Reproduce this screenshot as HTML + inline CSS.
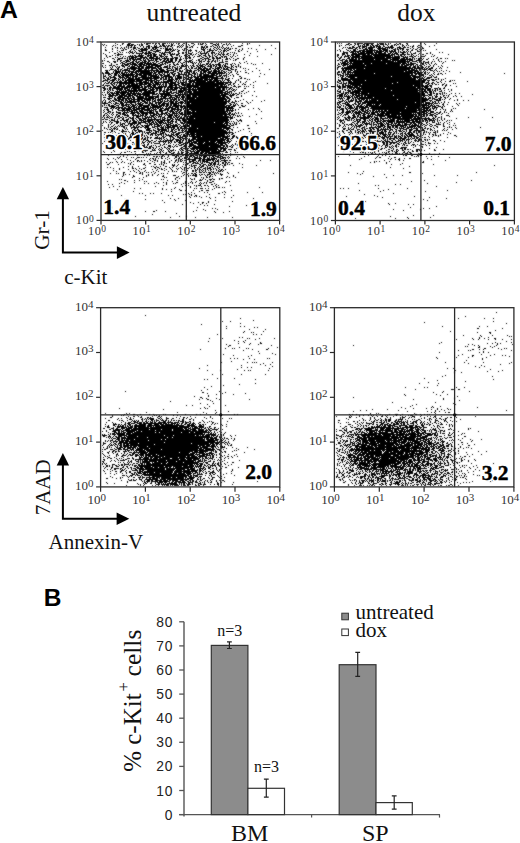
<!DOCTYPE html>
<html><head><meta charset="utf-8"><style>html,body{margin:0;padding:0;background:#fff;width:520px;height:843px;overflow:hidden}svg{display:block}</style></head>
<body>
<svg width="520" height="843" viewBox="0 0 520 843">
<rect width="520" height="843" fill="#fff"/>
<defs><filter id="soft" filterUnits="userSpaceOnUse" x="0" y="0" width="520" height="843"><feConvolveMatrix order="3" kernelMatrix="0.5 1 0.5 1 8 1 0.5 1 0.5" edgeMode="none"/></filter></defs><g stroke-width="1" fill="none" shape-rendering="crispEdges" filter="url(#soft)"><g stroke="#000"><path d="M247 43.5h3" stroke-dasharray="1 1 1 999"/><path d="M247 44.5h1" stroke-dasharray="1 999"/><path d="M259 45.5h13" stroke-dasharray="1 11 1 999"/><path d="M248 48.5h28" stroke-dasharray="1 2 1 23 1 999"/><path d="M256 49.5h10" stroke-dasharray="1 8 1 999"/><path d="M257 51.5h1" stroke-dasharray="1 999"/><path d="M250 53.5h1" stroke-dasharray="1 999"/><path d="M271 54.5h1" stroke-dasharray="1 999"/><path d="M249 55.5h1" stroke-dasharray="1 999"/><path d="M257 56.5h1" stroke-dasharray="1 999"/><path d="M246 61.5h1" stroke-dasharray="1 999"/><path d="M247 63.5h16" stroke-dasharray="1 3 1 10 1 999"/><path d="M253 64.5h3" stroke-dasharray="1 1 1 999"/><path d="M245 68.5h12" stroke-dasharray="1 10 1 999"/><path d="M248 69.5h22" stroke-dasharray="1 20 1 999"/><path d="M259 70.5h1" stroke-dasharray="1 999"/><path d="M252 71.5h1" stroke-dasharray="1 999"/><path d="M246 72.5h1" stroke-dasharray="1 999"/><path d="M248 73.5h13" stroke-dasharray="1 11 1 999"/><path d="M264 74.5h1" stroke-dasharray="1 999"/><path d="M259 76.5h1" stroke-dasharray="1 999"/><path d="M247 79.5h3" stroke-dasharray="1 1 1 999"/><path d="M246 81.5h10" stroke-dasharray="1 8 1 999"/><path d="M253 82.5h1" stroke-dasharray="1 999"/><path d="M267 83.5h1" stroke-dasharray="1 999"/><path d="M250 84.5h1" stroke-dasharray="1 999"/><path d="M253 85.5h1" stroke-dasharray="1 999"/><path d="M248 86.5h1" stroke-dasharray="1 999"/><path d="M253 87.5h1" stroke-dasharray="1 999"/><path d="M248 91.5h7" stroke-dasharray="1 5 1 999"/><path d="M252 95.5h1" stroke-dasharray="1 999"/><path d="M256 96.5h1" stroke-dasharray="1 999"/><path d="M252 100.5h13" stroke-dasharray="1 11 1 999"/><path d="M246 101.5h16" stroke-dasharray="1 14 1 999"/><path d="M247 102.5h4" stroke-dasharray="1 2 1 999"/><path d="M248 103.5h1" stroke-dasharray="1 999"/><path d="M253 108.5h6" stroke-dasharray="1 4 1 999"/><path d="M248 109.5h12" stroke-dasharray="1 10 1 999"/><path d="M261 111.5h1" stroke-dasharray="1 999"/><path d="M256 114.5h1" stroke-dasharray="1 999"/><path d="M249 116.5h1" stroke-dasharray="1 999"/><path d="M261 118.5h1" stroke-dasharray="1 999"/><path d="M255 121.5h1" stroke-dasharray="1 999"/><path d="M256 123.5h1" stroke-dasharray="1 999"/><path d="M247 125.5h2" stroke-dasharray="2 999"/><path d="M248 128.5h2" stroke-dasharray="2 999"/><path d="M243 129.5h1" stroke-dasharray="1 999"/><path d="M249 131.5h1" stroke-dasharray="1 999"/><path d="M251 133.5h1" stroke-dasharray="1 999"/><path d="M242 135.5h10" stroke-dasharray="1 8 1 999"/><path d="M243 136.5h1" stroke-dasharray="1 999"/><path d="M249 142.5h1" stroke-dasharray="1 999"/><path d="M102 143.5h1" stroke-dasharray="1 999"/><path d="M241 144.5h1" stroke-dasharray="1 999"/><path d="M253 148.5h1" stroke-dasharray="1 999"/><path d="M246 150.5h8" stroke-dasharray="1 6 1 999"/><path d="M103 151.5h1" stroke-dasharray="1 999"/><path d="M104 152.5h1" stroke-dasharray="1 999"/><path d="M241 154.5h1" stroke-dasharray="1 999"/><path d="M108 155.5h1" stroke-dasharray="1 999"/><path d="M243 156.5h1" stroke-dasharray="1 999"/><path d="M244 157.5h1" stroke-dasharray="1 999"/><path d="M107 158.5h133" stroke-dasharray="1 131 1 999"/><path d="M108 159.5h1" stroke-dasharray="1 999"/><path d="M260 160.5h11" stroke-dasharray="1 9 1 999"/><path d="M106 162.5h7" stroke-dasharray="1 3 1 1 1 999"/><path d="M109 163.5h131" stroke-dasharray="1 129 1 999"/><path d="M107 164.5h136" stroke-dasharray="2 133 1 999"/><path d="M256 165.5h1" stroke-dasharray="1 999"/><path d="M107 167.5h136" stroke-dasharray="1 2 1 131 1 999"/><path d="M113 168.5h7" stroke-dasharray="1 5 1 999"/><path d="M119 169.5h1" stroke-dasharray="1 999"/><path d="M113 170.5h1" stroke-dasharray="1 999"/><path d="M116 171.5h1" stroke-dasharray="1 999"/><path d="M123 172.5h116" stroke-dasharray="2 113 1 999"/><path d="M110 173.5h164" stroke-dasharray="1 5 1 1 1 4 1 149 1 999"/><path d="M123 174.5h7" stroke-dasharray="1 1 1 3 1 999"/><path d="M123 175.5h111" stroke-dasharray="1 109 1 999"/><path d="M122 176.5h112" stroke-dasharray="1 10 2 98 1 999"/><path d="M132 177.5h104" stroke-dasharray="1 102 1 999"/><path d="M139 178.5h1" stroke-dasharray="1 999"/><path d="M119 179.5h24" stroke-dasharray="1 1 1 20 1 999"/><path d="M124 180.5h16" stroke-dasharray="2 8 1 4 1 999"/><path d="M107 181.5h123" stroke-dasharray="1 19 1 16 1 1 1 82 1 999"/><path d="M121 182.5h46" stroke-dasharray="1 12 1 21 1 6 1 2 1 999"/><path d="M119 183.5h48" stroke-dasharray="1 4 1 19 1 3 1 5 1 3 1 7 1 999"/><path d="M108 184.5h59" stroke-dasharray="1 3 1 53 1 999"/><path d="M163 185.5h68" stroke-dasharray="1 66 1 999"/><path d="M113 186.5h43" stroke-dasharray="1 5 1 35 1 999"/><path d="M109 187.5h151" stroke-dasharray="1 65 1 83 1 999"/><path d="M134 188.5h41" stroke-dasharray="1 5 1 21 1 11 1 999"/><path d="M117 189.5h63" stroke-dasharray="1 44 1 3 1 4 1 7 1 999"/><path d="M180 190.5h52" stroke-dasharray="2 49 1 999"/><path d="M133 191.5h92" stroke-dasharray="1 37 1 52 1 999"/><path d="M222 192.5h41" stroke-dasharray="1 2 1 21 1 14 1 999"/><path d="M139 193.5h23" stroke-dasharray="1 2 1 7 1 2 1 7 1 999"/><path d="M183 194.5h42" stroke-dasharray="1 1 1 38 1 999"/><path d="M121 195.5h113" stroke-dasharray="1 23 1 22 1 3 1 60 1 999"/><path d="M224 197.5h8" stroke-dasharray="1 6 1 999"/><path d="M170 198.5h84" stroke-dasharray="1 7 1 74 1 999"/><path d="M125 199.5h50" stroke-dasharray="1 19 1 28 1 999"/><path d="M162 200.5h54" stroke-dasharray="1 12 1 9 1 29 1 999"/><path d="M105 201.5h128" stroke-dasharray="1 102 1 23 1 999"/><path d="M164 202.5h45" stroke-dasharray="1 25 1 7 1 3 2 4 1 999"/><path d="M193 203.5h14" stroke-dasharray="1 8 1 3 1 999"/><path d="M182 204.5h33" stroke-dasharray="1 17 1 13 1 999"/><path d="M204 205.5h43" stroke-dasharray="1 2 1 38 1 999"/><path d="M229 206.5h24" stroke-dasharray="1 22 1 999"/><path d="M111 207.5h87" stroke-dasharray="1 85 1 999"/><path d="M128 208.5h88" stroke-dasharray="1 83 1 2 1 999"/><path d="M203 209.5h15" stroke-dasharray="1 13 1 999"/><path d="M156 210.5h50" stroke-dasharray="1 39 1 8 1 999"/><path d="M111 211.5h119" stroke-dasharray="1 33 1 7 2 10 1 27 1 20 1 14 1 999"/><path d="M215 212.5h9" stroke-dasharray="1 7 1 999"/><path d="M176 213.5h1" stroke-dasharray="1 999"/><path d="M152 214.5h1" stroke-dasharray="1 999"/><path d="M135 216.5h137" stroke-dasharray="1 43 1 6 1 65 1 18 1 999"/><path d="M170 217.5h63" stroke-dasharray="1 24 1 11 1 24 1 999"/></g><g stroke="#000"><path d="M115 43.5h128" stroke-dasharray="1 6 2 4 1 100 1 12 1 999"/><path d="M102 44.5h129" stroke-dasharray="1 1 1 12 1 4 1 105 1 1 1 999"/><path d="M103 45.5h140" stroke-dasharray="1 2 1 6 1 1 1 4 1 112 1 7 2 999"/><path d="M112 46.5h129" stroke-dasharray="1 118 1 6 3 999"/><path d="M105 47.5h13" stroke-dasharray="1 9 1 1 1 999"/><path d="M112 48.5h131" stroke-dasharray="1 4 1 112 1 1 1 2 2 5 1 999"/><path d="M105 49.5h138" stroke-dasharray="1 6 1 126 1 2 1 999"/><path d="M105 50.5h137" stroke-dasharray="2 10 1 117 1 2 1 2 1 999"/><path d="M112 51.5h136" stroke-dasharray="1 125 2 7 1 999"/><path d="M109 52.5h126" stroke-dasharray="1 7 1 114 1 1 1 999"/><path d="M103 53.5h134" stroke-dasharray="1 10 2 118 1 1 1 999"/><path d="M105 54.5h140" stroke-dasharray="1 127 1 10 1 999"/><path d="M106 55.5h132" stroke-dasharray="1 5 1 2 1 117 1 3 1 999"/><path d="M106 56.5h130" stroke-dasharray="1 2 2 121 1 2 1 999"/><path d="M107 57.5h138" stroke-dasharray="1 136 1 999"/><path d="M104 58.5h140" stroke-dasharray="1 7 2 119 1 3 2 4 1 999"/><path d="M235 59.5h9" stroke-dasharray="2 6 1 999"/><path d="M102 60.5h134" stroke-dasharray="1 1 1 128 1 1 1 999"/><path d="M102 61.5h7" stroke-dasharray="1 4 2 999"/><path d="M109 62.5h136" stroke-dasharray="1 129 1 4 1 999"/><path d="M102 63.5h139" stroke-dasharray="2 130 1 5 1 999"/><path d="M235 64.5h4" stroke-dasharray="1 2 1 999"/><path d="M102 65.5h137" stroke-dasharray="1 2 1 127 1 4 1 999"/><path d="M102 66.5h139" stroke-dasharray="1 132 2 1 1 1 1 999"/><path d="M103 67.5h138" stroke-dasharray="1 1 1 130 1 3 1 999"/><path d="M243 68.5h1" stroke-dasharray="1 999"/><path d="M235 69.5h2" stroke-dasharray="2 999"/><path d="M235 70.5h11" stroke-dasharray="1 9 1 999"/><path d="M235 71.5h6" stroke-dasharray="1 1 1 2 1 999"/><path d="M237 72.5h9" stroke-dasharray="1 7 1 999"/><path d="M236 73.5h1" stroke-dasharray="1 999"/><path d="M237 74.5h2" stroke-dasharray="2 999"/><path d="M239 76.5h2" stroke-dasharray="2 999"/><path d="M241 77.5h1" stroke-dasharray="1 999"/><path d="M240 78.5h6" stroke-dasharray="2 2 2 999"/><path d="M238 79.5h1" stroke-dasharray="1 999"/><path d="M236 80.5h3" stroke-dasharray="1 1 1 999"/><path d="M240 81.5h1" stroke-dasharray="1 999"/><path d="M240 82.5h6" stroke-dasharray="1 4 1 999"/><path d="M243 83.5h1" stroke-dasharray="1 999"/><path d="M238 84.5h8" stroke-dasharray="1 3 1 1 2 999"/><path d="M238 86.5h9" stroke-dasharray="3 3 1 1 1 999"/><path d="M238 87.5h1" stroke-dasharray="1 999"/><path d="M244 88.5h2" stroke-dasharray="2 999"/><path d="M243 90.5h1" stroke-dasharray="1 999"/><path d="M241 91.5h2" stroke-dasharray="2 999"/><path d="M239 92.5h8" stroke-dasharray="1 6 1 999"/><path d="M239 93.5h6" stroke-dasharray="1 1 1 2 1 999"/><path d="M237 94.5h2" stroke-dasharray="2 999"/><path d="M241 95.5h1" stroke-dasharray="1 999"/><path d="M241 96.5h1" stroke-dasharray="1 999"/><path d="M237 97.5h2" stroke-dasharray="2 999"/><path d="M243 99.5h1" stroke-dasharray="1 999"/><path d="M240 100.5h1" stroke-dasharray="1 999"/><path d="M238 101.5h1" stroke-dasharray="1 999"/><path d="M241 103.5h2" stroke-dasharray="2 999"/><path d="M237 104.5h1" stroke-dasharray="1 999"/><path d="M238 105.5h8" stroke-dasharray="1 2 2 2 1 999"/><path d="M242 106.5h3" stroke-dasharray="3 999"/><path d="M239 107.5h2" stroke-dasharray="2 999"/><path d="M238 109.5h1" stroke-dasharray="1 999"/><path d="M238 112.5h1" stroke-dasharray="1 999"/><path d="M238 113.5h4" stroke-dasharray="1 2 1 999"/><path d="M237 115.5h6" stroke-dasharray="1 1 1 2 1 999"/><path d="M237 116.5h4" stroke-dasharray="2 1 1 999"/><path d="M102 119.5h139" stroke-dasharray="1 133 1 3 1 999"/><path d="M237 120.5h5" stroke-dasharray="1 1 3 999"/><path d="M103 121.5h139" stroke-dasharray="1 134 1 2 1 999"/><path d="M103 122.5h134" stroke-dasharray="1 132 1 999"/><path d="M102 123.5h138" stroke-dasharray="1 133 1 2 1 999"/><path d="M235 124.5h2" stroke-dasharray="2 999"/><path d="M102 125.5h1" stroke-dasharray="1 999"/><path d="M108 126.5h1" stroke-dasharray="1 999"/><path d="M104 127.5h134" stroke-dasharray="1 3 1 128 1 999"/><path d="M104 128.5h3" stroke-dasharray="1 1 1 999"/><path d="M107 129.5h4" stroke-dasharray="1 1 2 999"/><path d="M102 130.5h139" stroke-dasharray="1 8 2 127 1 999"/><path d="M111 131.5h128" stroke-dasharray="2 1 1 123 1 999"/><path d="M104 132.5h132" stroke-dasharray="2 2 1 1 1 4 1 119 1 999"/><path d="M112 133.5h1" stroke-dasharray="1 999"/><path d="M104 134.5h1" stroke-dasharray="1 999"/><path d="M107 135.5h128" stroke-dasharray="1 5 2 1 1 1 1 115 1 999"/><path d="M106 136.5h131" stroke-dasharray="1 11 1 1 1 113 1 1 1 999"/><path d="M104 137.5h134" stroke-dasharray="1 7 1 1 2 120 2 999"/><path d="M108 138.5h131" stroke-dasharray="1 5 1 7 1 114 2 999"/><path d="M105 139.5h19" stroke-dasharray="1 8 1 4 1 3 1 999"/><path d="M107 140.5h19" stroke-dasharray="1 2 1 11 1 2 1 999"/><path d="M104 141.5h137" stroke-dasharray="1 15 1 4 1 110 1 3 1 999"/><path d="M110 142.5h130" stroke-dasharray="1 11 1 1 2 113 1 999"/><path d="M117 143.5h122" stroke-dasharray="1 6 1 1 2 107 1 2 1 999"/><path d="M110 144.5h128" stroke-dasharray="2 11 2 2 1 1 1 2 1 102 1 1 1 999"/><path d="M129 145.5h111" stroke-dasharray="1 103 1 3 1 1 1 999"/><path d="M107 146.5h22" stroke-dasharray="1 3 1 1 1 14 1 999"/><path d="M119 147.5h120" stroke-dasharray="1 5 1 2 1 109 1 999"/><path d="M111 148.5h126" stroke-dasharray="1 11 1 15 1 96 1 999"/><path d="M113 149.5h122" stroke-dasharray="1 11 1 3 1 6 2 96 1 999"/><path d="M113 150.5h123" stroke-dasharray="1 24 1 3 2 90 2 999"/><path d="M114 151.5h32" stroke-dasharray="1 12 1 1 1 4 2 6 1 2 1 999"/><path d="M111 152.5h127" stroke-dasharray="1 9 1 2 2 5 1 10 2 91 1 1 1 999"/><path d="M120 153.5h29" stroke-dasharray="1 14 1 10 1 1 1 999"/><path d="M118 154.5h117" stroke-dasharray="1 10 1 3 1 5 1 4 1 2 1 1 1 1 1 79 2 1 1 999"/><path d="M123 155.5h108" stroke-dasharray="1 3 1 9 1 6 1 2 1 1 1 80 1 999"/><path d="M120 156.5h118" stroke-dasharray="1 2 1 29 2 1 2 1 1 77 1 999"/><path d="M117 157.5h113" stroke-dasharray="1 1 1 6 1 4 1 1 1 3 3 1 1 1 1 2 1 9 1 4 1 67 1 999"/><path d="M113 158.5h124" stroke-dasharray="1 4 1 17 1 13 1 1 2 1 1 2 1 2 2 2 1 70 1 999"/><path d="M115 159.5h53" stroke-dasharray="1 5 1 5 1 7 1 13 1 3 1 1 1 11 1 999"/><path d="M130 160.5h101" stroke-dasharray="1 6 2 2 1 2 1 5 1 3 2 1 1 6 1 6 1 57 2 999"/><path d="M116 161.5h60" stroke-dasharray="1 5 1 10 1 3 1 1 1 1 1 5 1 4 1 4 1 3 1 2 1 4 1 5 1 999"/><path d="M117 162.5h113" stroke-dasharray="1 3 1 2 1 6 1 22 1 6 1 1 2 4 1 4 1 2 1 48 1 1 2 999"/><path d="M128 163.5h105" stroke-dasharray="1 1 1 13 1 4 2 10 1 2 1 1 1 60 1 3 2 999"/><path d="M118 164.5h112" stroke-dasharray="1 11 1 2 1 9 2 9 2 3 1 1 1 1 1 8 1 1 1 3 1 46 1 1 1 1 1 999"/><path d="M145 165.5h89" stroke-dasharray="1 17 1 8 3 2 1 47 1 7 1 999"/><path d="M128 166.5h55" stroke-dasharray="1 3 1 5 1 12 1 1 1 2 1 3 1 4 2 6 1 2 1 5 1 999"/><path d="M123 167.5h101" stroke-dasharray="1 8 1 12 1 8 2 1 2 10 1 2 1 7 1 42 1 999"/><path d="M132 168.5h53" stroke-dasharray="2 1 1 3 1 3 2 10 1 3 1 1 1 2 1 5 1 5 1 1 1 2 1 2 1 999"/><path d="M128 169.5h98" stroke-dasharray="1 7 1 4 1 10 1 4 1 3 2 3 1 4 1 5 1 4 1 1 1 37 1 2 1 999"/><path d="M133 170.5h91" stroke-dasharray="1 4 1 6 1 10 1 7 1 7 1 11 1 1 1 36 1 999"/><path d="M130 171.5h93" stroke-dasharray="1 3 1 4 1 4 1 8 1 4 1 9 1 3 1 1 1 1 1 4 1 4 1 35 1 999"/><path d="M136 172.5h92" stroke-dasharray="1 3 1 1 1 3 1 1 1 2 1 3 1 27 2 42 1 999"/><path d="M139 173.5h90" stroke-dasharray="2 1 1 11 1 6 1 1 1 3 1 14 1 5 1 31 1 7 1 999"/><path d="M142 174.5h81" stroke-dasharray="1 5 1 3 1 5 1 25 1 2 1 32 3 999"/><path d="M133 175.5h89" stroke-dasharray="1 12 1 1 1 3 1 4 1 5 1 9 3 7 1 4 1 1 1 30 1 999"/><path d="M146 176.5h82" stroke-dasharray="1 15 2 14 1 2 1 6 1 38 1 999"/><path d="M143 177.5h87" stroke-dasharray="1 20 1 1 1 9 2 48 1 2 1 999"/><path d="M175 178.5h48" stroke-dasharray="1 3 1 6 1 3 1 3 1 24 1 1 2 999"/><path d="M161 179.5h59" stroke-dasharray="1 1 1 11 1 15 2 1 1 24 1 999"/><path d="M167 180.5h11" stroke-dasharray="1 9 1 999"/><path d="M172 181.5h55" stroke-dasharray="1 12 2 4 1 4 1 15 2 12 1 999"/><path d="M176 182.5h50" stroke-dasharray="2 7 1 4 1 1 1 2 1 4 1 8 3 13 1 999"/><path d="M173 183.5h42" stroke-dasharray="1 1 1 7 1 1 1 2 1 3 1 6 1 1 1 1 1 2 1 7 1 999"/><path d="M181 184.5h36" stroke-dasharray="1 18 1 10 2 3 1 999"/><path d="M185 185.5h34" stroke-dasharray="1 2 1 5 1 1 1 1 3 3 2 1 1 7 1 2 1 999"/><path d="M182 186.5h35" stroke-dasharray="1 7 1 5 1 4 1 6 1 4 1 2 1 999"/><path d="M190 187.5h35" stroke-dasharray="1 25 1 1 2 2 1 1 1 999"/><path d="M194 188.5h21" stroke-dasharray="1 1 1 3 3 2 1 2 1 5 1 999"/><path d="M212 189.5h1" stroke-dasharray="1 999"/><path d="M185 190.5h24" stroke-dasharray="1 7 1 7 2 3 3 999"/><path d="M199 191.5h1" stroke-dasharray="1 999"/><path d="M191 192.5h17" stroke-dasharray="1 12 1 2 1 999"/><path d="M188 193.5h32" stroke-dasharray="1 5 1 23 2 999"/><path d="M189 194.5h21" stroke-dasharray="1 1 1 17 1 999"/><path d="M191 195.5h6" stroke-dasharray="1 3 2 999"/><path d="M189 196.5h18" stroke-dasharray="1 4 1 1 1 2 1 6 1 999"/><path d="M190 197.5h26" stroke-dasharray="1 10 1 7 1 5 1 999"/><path d="M210 198.5h1" stroke-dasharray="1 999"/></g><g stroke="#000"><path d="M129 43.5h98" stroke-dasharray="2 10 1 2 1 1 5 1 2 1 2 1 2 2 4 1 1 1 1 1 1 1 1 2 1 1 2 3 2 1 1 4 3 4 1 1 1 1 2 1 1 4 3 3 1 1 1 2 1 4 1 999"/><path d="M127 44.5h100" stroke-dasharray="3 1 3 3 1 1 1 1 2 3 2 7 1 3 1 2 2 7 2 5 1 3 1 5 1 5 1 3 1 1 3 3 1 6 3 1 2 4 2 1 1 999"/><path d="M127 45.5h101" stroke-dasharray="6 1 2 3 1 1 2 5 2 4 1 1 1 3 1 1 3 1 1 1 2 1 2 1 1 4 1 1 1 1 1 5 1 3 1 11 1 6 1 2 2 1 1 3 1 4 1 999"/><path d="M126 46.5h97" stroke-dasharray="1 1 1 2 1 2 1 5 1 2 1 2 4 1 1 2 3 2 3 1 3 1 2 1 2 5 2 1 1 1 1 3 2 3 2 8 2 1 1 1 2 2 2 1 1 3 1 1 1 2 1 999"/><path d="M121 47.5h108" stroke-dasharray="1 2 1 1 1 1 1 1 2 1 3 1 1 5 1 2 1 1 2 2 7 6 1 1 1 4 1 4 1 1 1 1 1 5 1 1 2 1 1 4 1 3 4 1 2 6 2 1 1 1 1 1 1 1 1 2 1 1 1 999"/><path d="M120 48.5h109" stroke-dasharray="1 1 1 1 1 3 1 4 3 2 2 1 2 1 3 1 2 2 2 1 2 3 2 1 1 1 3 1 2 1 1 11 2 15 1 1 1 1 1 4 1 2 1 2 1 1 1 3 1 1 2 1 2 999"/><path d="M123 49.5h108" stroke-dasharray="1 1 2 4 1 1 1 2 1 3 8 3 1 1 3 1 1 7 7 1 1 1 1 1 1 4 1 1 1 2 1 2 1 10 4 2 1 1 2 3 1 2 1 1 2 3 1 1 1 2 2 999"/><path d="M121 50.5h108" stroke-dasharray="3 6 1 3 1 3 2 1 6 9 5 4 4 1 1 1 3 3 2 3 2 3 4 3 2 6 2 4 5 1 2 4 1 1 3 1 2 999"/><path d="M119 51.5h108" stroke-dasharray="1 9 2 1 1 2 1 3 4 14 2 6 1 3 1 1 2 4 2 9 1 1 1 5 1 2 1 1 1 2 1 2 3 2 1 5 1 1 1 2 2 1 1 999"/><path d="M120 52.5h111" stroke-dasharray="1 1 1 3 1 1 1 1 3 1 1 1 1 22 2 1 1 1 7 7 1 3 2 1 1 2 1 3 1 5 1 1 1 3 1 1 2 3 4 4 1 1 1 1 1 6 1 999"/><path d="M118 53.5h111" stroke-dasharray="1 10 1 2 2 2 3 22 4 4 2 1 1 1 1 3 2 2 2 4 4 4 1 3 7 1 1 2 2 1 1 1 1 1 1 2 1 1 1 3 2 999"/><path d="M117 54.5h114" stroke-dasharray="6 38 1 1 3 1 1 2 5 1 3 6 1 1 1 2 2 1 1 1 1 2 1 2 1 3 1 2 1 3 1 2 1 2 3 1 3 1 2 2 1 999"/><path d="M117 55.5h112" stroke-dasharray="2 11 1 1 1 1 2 28 1 5 2 4 2 1 1 4 3 1 2 2 1 6 2 2 3 2 2 2 1 1 1 2 1 2 1 2 1 4 1 999"/><path d="M120 56.5h111" stroke-dasharray="1 2 1 1 1 2 6 29 1 1 3 3 2 6 1 1 1 3 3 1 1 4 1 2 3 1 1 3 2 2 2 1 1 2 2 4 2 1 3 3 1 999"/><path d="M115 57.5h117" stroke-dasharray="1 1 1 4 1 4 1 1 1 1 2 31 1 1 1 5 1 1 4 2 1 4 1 2 3 2 1 8 2 3 1 1 1 2 2 2 2 1 2 1 1 1 1 1 1 4 1 999"/><path d="M118 58.5h112" stroke-dasharray="5 1 2 1 1 1 2 33 5 1 4 1 3 2 1 2 1 1 3 1 2 9 2 2 5 3 3 1 5 5 2 1 1 999"/><path d="M114 59.5h117" stroke-dasharray="1 2 3 7 1 1 1 35 1 1 2 1 3 2 2 2 3 10 1 5 2 2 2 1 1 2 3 2 1 3 1 4 1 2 3 2 1 999"/><path d="M117 60.5h106" stroke-dasharray="1 2 2 3 4 37 3 1 3 2 2 2 2 3 1 4 3 4 1 1 2 1 1 3 1 2 1 3 2 1 1 1 1 1 1 2 1 999"/><path d="M113 61.5h115" stroke-dasharray="3 1 1 2 1 2 2 1 1 41 5 2 1 2 2 5 6 1 1 6 3 1 2 2 3 1 2 1 2 1 1 4 1 2 3 999"/><path d="M114 62.5h110" stroke-dasharray="2 5 2 2 1 41 4 1 3 3 1 1 1 2 2 3 1 1 3 1 1 1 1 2 1 1 1 9 1 3 1 3 5 999"/><path d="M111 63.5h122" stroke-dasharray="1 8 1 1 3 48 1 3 1 3 2 9 2 1 1 2 1 1 1 17 2 5 3 4 1 999"/><path d="M111 64.5h121" stroke-dasharray="1 4 2 4 1 46 2 2 2 1 3 3 1 1 1 8 1 4 1 1 1 15 5 2 1 1 1 1 1 2 2 999"/><path d="M109 65.5h123" stroke-dasharray="3 1 2 6 2 51 2 5 3 1 3 2 1 1 2 2 2 1 1 18 3 1 1 1 2 5 1 999"/><path d="M112 66.5h121" stroke-dasharray="1 2 1 1 1 1 1 50 1 1 2 3 1 1 1 1 5 2 1 2 1 1 2 2 1 21 2 1 1 1 4 3 2 999"/><path d="M110 67.5h124" stroke-dasharray="1 1 1 3 1 1 2 52 1 1 2 1 1 2 2 6 1 2 2 3 1 23 2 1 1 1 1 1 3 1 1 1 1 999"/><path d="M111 68.5h121" stroke-dasharray="1 5 2 53 1 2 3 1 3 3 1 3 1 1 2 1 1 26 1 1 2 1 2 2 2 999"/><path d="M110 69.5h124" stroke-dasharray="4 1 1 1 2 56 3 1 1 4 1 2 1 2 1 32 6 2 3 999"/><path d="M105 70.5h126" stroke-dasharray="3 1 1 4 3 58 1 1 1 1 2 1 1 3 6 30 1 5 3 999"/><path d="M106 71.5h126" stroke-dasharray="2 5 1 1 2 62 4 3 2 1 2 32 2 1 1 4 1 999"/><path d="M102 72.5h130" stroke-dasharray="1 2 4 4 1 1 1 62 1 2 1 2 5 35 2 2 1 1 2 999"/><path d="M102 73.5h128" stroke-dasharray="2 1 5 1 2 1 2 65 1 2 1 1 1 37 1 1 1 2 1 999"/><path d="M103 74.5h130" stroke-dasharray="1 4 3 3 1 111 1 1 1 3 1 999"/><path d="M103 75.5h131" stroke-dasharray="1 1 1 2 1 2 1 113 2 3 1 2 1 999"/><path d="M103 76.5h131" stroke-dasharray="3 3 2 2 1 112 1 1 1 4 1 999"/><path d="M103 77.5h124" stroke-dasharray="1 2 1 1 1 1 3 113 1 999"/><path d="M103 78.5h130" stroke-dasharray="2 2 2 1 1 117 2 2 1 999"/><path d="M105 79.5h124" stroke-dasharray="1 1 3 116 3 999"/><path d="M103 80.5h127" stroke-dasharray="5 2 2 115 3 999"/><path d="M102 81.5h134" stroke-dasharray="2 3 1 1 1 118 1 1 1 4 1 999"/><path d="M105 82.5h131" stroke-dasharray="1 2 2 117 5 3 1 999"/><path d="M104 83.5h131" stroke-dasharray="1 1 3 1 1 119 1 2 2 999"/><path d="M103 84.5h131" stroke-dasharray="1 124 3 2 1 999"/><path d="M102 85.5h133" stroke-dasharray="2 1 5 118 1 2 1 2 1 999"/><path d="M104 86.5h132" stroke-dasharray="1 2 1 125 3 999"/><path d="M102 87.5h135" stroke-dasharray="3 125 2 4 1 999"/><path d="M103 88.5h130" stroke-dasharray="3 1 1 121 2 1 1 999"/><path d="M104 89.5h133" stroke-dasharray="2 1 1 121 1 1 1 1 2 1 1 999"/><path d="M103 90.5h133" stroke-dasharray="2 3 1 123 2 1 1 999"/><path d="M107 91.5h128" stroke-dasharray="1 122 2 2 1 999"/><path d="M102 92.5h130" stroke-dasharray="1 1 1 2 2 122 1 999"/><path d="M107 93.5h130" stroke-dasharray="1 123 1 1 1 1 2 999"/><path d="M102 94.5h133" stroke-dasharray="1 2 1 2 1 121 1 1 3 999"/><path d="M103 95.5h134" stroke-dasharray="1 1 1 124 4 2 1 999"/><path d="M108 96.5h124" stroke-dasharray="1 122 1 999"/><path d="M103 97.5h134" stroke-dasharray="3 125 1 4 1 999"/><path d="M107 98.5h128" stroke-dasharray="3 124 1 999"/><path d="M104 99.5h6" stroke-dasharray="1 3 2 999"/><path d="M103 100.5h133" stroke-dasharray="1 1 1 129 1 999"/><path d="M102 101.5h135" stroke-dasharray="1 2 1 3 1 122 1 2 2 999"/><path d="M102 102.5h133" stroke-dasharray="1 1 2 2 3 120 4 999"/><path d="M102 103.5h135" stroke-dasharray="6 126 1 1 1 999"/><path d="M104 104.5h132" stroke-dasharray="1 3 2 121 1 1 1 1 1 999"/><path d="M102 105.5h134" stroke-dasharray="1 1 1 1 1 1 2 1 1 121 3 999"/><path d="M102 106.5h133" stroke-dasharray="1 6 4 118 4 999"/><path d="M104 107.5h129" stroke-dasharray="4 3 3 117 2 999"/><path d="M107 108.5h127" stroke-dasharray="1 2 2 1 1 117 3 999"/><path d="M104 109.5h132" stroke-dasharray="1 1 3 3 1 119 1 2 1 999"/><path d="M103 110.5h133" stroke-dasharray="1 3 2 3 1 119 2 1 1 999"/><path d="M104 111.5h129" stroke-dasharray="1 3 3 5 1 115 1 999"/><path d="M103 112.5h133" stroke-dasharray="1 3 2 1 1 1 2 2 2 117 1 999"/><path d="M105 113.5h132" stroke-dasharray="2 2 1 2 1 5 1 113 1 1 1 1 1 999"/><path d="M104 114.5h131" stroke-dasharray="1 2 1 3 1 1 1 2 2 113 4 999"/><path d="M103 115.5h133" stroke-dasharray="2 1 1 1 1 3 1 3 1 1 2 113 1 1 1 999"/><path d="M103 116.5h130" stroke-dasharray="1 3 1 1 1 5 1 1 3 112 1 999"/><path d="M102 117.5h133" stroke-dasharray="1 1 1 1 3 1 3 2 1 1 1 2 2 1 1 107 2 1 1 999"/><path d="M104 118.5h129" stroke-dasharray="1 4 1 4 1 3 2 2 2 107 2 999"/><path d="M103 119.5h21" stroke-dasharray="1 1 3 3 2 1 1 2 1 4 2 999"/><path d="M109 120.5h18" stroke-dasharray="1 1 4 2 1 2 2 1 4 999"/><path d="M105 121.5h129" stroke-dasharray="1 4 1 3 5 5 1 1 2 103 1 1 1 999"/><path d="M106 122.5h129" stroke-dasharray="1 2 1 1 2 3 3 1 1 4 1 1 1 1 1 104 1 999"/><path d="M111 123.5h124" stroke-dasharray="1 4 2 2 1 1 3 3 4 100 1 1 1 999"/><path d="M108 124.5h126" stroke-dasharray="1 1 1 3 1 5 3 1 1 3 1 1 3 100 1 999"/><path d="M108 125.5h126" stroke-dasharray="1 4 1 4 1 1 1 1 1 2 3 2 2 1 1 97 3 999"/><path d="M111 126.5h24" stroke-dasharray="2 2 1 1 1 1 1 1 4 5 1 2 2 999"/><path d="M110 127.5h124" stroke-dasharray="1 3 1 1 1 6 2 1 1 4 7 95 1 999"/><path d="M111 128.5h120" stroke-dasharray="1 1 3 1 1 6 1 1 1 4 1 2 2 1 1 92 1 999"/><path d="M112 129.5h121" stroke-dasharray="1 1 1 1 2 4 1 2 1 1 1 5 2 2 2 92 2 999"/><path d="M119 130.5h114" stroke-dasharray="1 2 2 8 1 1 3 1 4 90 1 999"/><path d="M121 131.5h24" stroke-dasharray="6 1 1 3 1 2 1 2 5 1 1 999"/><path d="M122 132.5h111" stroke-dasharray="1 6 1 2 2 2 2 1 1 2 1 1 1 1 5 79 3 999"/><path d="M118 133.5h116" stroke-dasharray="2 3 1 1 1 5 3 1 1 1 1 4 1 2 1 1 2 2 5 76 2 999"/><path d="M125 134.5h108" stroke-dasharray="1 4 1 1 6 3 2 5 1 1 3 2 1 1 5 1 1 1 2 1 1 62 2 999"/><path d="M122 135.5h112" stroke-dasharray="1 3 1 3 1 1 1 5 2 1 2 1 1 1 1 3 1 1 1 2 2 1 1 2 1 1 1 2 6 1 2 1 2 51 1 3 1 999"/><path d="M122 136.5h112" stroke-dasharray="1 1 1 2 1 2 2 6 1 2 1 2 1 2 1 9 1 4 2 1 1 3 4 2 1 1 2 50 1 2 2 999"/><path d="M122 137.5h112" stroke-dasharray="1 1 1 1 1 2 3 2 2 6 1 2 1 1 2 1 2 3 3 1 1 1 1 1 2 5 1 1 2 3 4 51 2 999"/><path d="M128 138.5h105" stroke-dasharray="2 3 1 1 5 1 2 1 2 1 1 2 1 3 8 1 1 2 1 3 1 2 2 4 2 48 1 1 2 999"/><path d="M128 139.5h103" stroke-dasharray="1 8 2 1 2 1 3 1 1 11 1 1 1 2 1 2 1 2 1 1 2 1 4 1 2 48 1 999"/><path d="M130 140.5h102" stroke-dasharray="1 6 2 4 1 2 3 2 2 3 1 3 1 2 1 1 8 3 5 1 1 48 1 999"/><path d="M140 141.5h91" stroke-dasharray="1 1 1 2 1 2 3 3 2 2 9 1 1 1 2 2 1 1 2 1 2 1 1 45 3 999"/><path d="M132 142.5h98" stroke-dasharray="2 3 1 4 3 2 1 1 1 1 1 1 1 5 1 3 1 1 1 2 2 1 1 2 2 2 5 46 1 999"/><path d="M134 143.5h95" stroke-dasharray="1 6 1 1 1 4 1 2 1 2 6 4 1 3 1 1 1 8 2 2 1 44 1 999"/><path d="M134 144.5h99" stroke-dasharray="1 4 2 3 1 2 2 11 1 2 2 1 1 6 1 2 1 1 1 2 3 48 1 999"/><path d="M142 145.5h90" stroke-dasharray="3 2 1 3 1 1 1 1 1 4 1 1 1 5 3 4 1 3 3 2 1 42 1 3 1 999"/><path d="M139 146.5h94" stroke-dasharray="1 3 2 1 1 2 3 4 1 1 2 4 1 3 3 1 1 1 1 1 2 5 3 41 1 1 2 1 1 999"/><path d="M138 147.5h95" stroke-dasharray="1 5 4 1 2 1 2 2 1 4 1 2 2 1 1 2 1 2 1 7 2 2 1 41 1 3 2 999"/><path d="M142 148.5h85" stroke-dasharray="1 5 3 2 1 1 1 3 1 2 1 3 1 1 2 10 2 1 4 39 1 999"/><path d="M152 149.5h80" stroke-dasharray="1 1 1 3 1 1 2 5 1 1 1 3 1 5 1 1 2 2 1 42 4 999"/><path d="M144 150.5h44" stroke-dasharray="4 4 4 3 1 1 1 1 1 4 1 1 4 1 1 4 1 1 2 2 2 999"/><path d="M150 151.5h81" stroke-dasharray="2 8 1 1 1 5 2 1 1 6 1 2 1 3 1 1 1 38 1 3 1 999"/><path d="M157 152.5h71" stroke-dasharray="1 1 2 2 1 2 1 2 2 2 2 3 1 2 3 2 3 36 3 999"/><path d="M150 153.5h81" stroke-dasharray="1 3 1 1 1 3 1 4 2 4 3 3 3 1 2 3 2 1 1 40 1 999"/><path d="M157 154.5h33" stroke-dasharray="1 3 1 5 2 2 1 1 4 3 2 2 1 2 1 1 1 999"/><path d="M162 155.5h65" stroke-dasharray="2 4 1 3 3 1 3 3 2 3 2 1 1 32 1 1 2 999"/><path d="M161 156.5h68" stroke-dasharray="2 1 1 3 1 6 2 1 1 1 2 3 1 1 1 1 3 30 1 5 1 999"/><path d="M167 157.5h61" stroke-dasharray="1 7 2 2 1 4 4 1 1 2 1 29 4 1 1 999"/><path d="M169 158.5h60" stroke-dasharray="1 4 1 3 2 2 1 1 3 1 2 31 3 1 1 2 1 999"/><path d="M176 159.5h49" stroke-dasharray="1 1 1 1 2 4 9 25 1 3 1 999"/><path d="M175 160.5h53" stroke-dasharray="2 1 1 1 1 1 1 1 2 3 1 2 4 25 7 999"/><path d="M178 161.5h48" stroke-dasharray="1 1 2 7 5 2 1 21 1 1 1 3 2 999"/><path d="M183 162.5h43" stroke-dasharray="1 1 1 3 2 2 3 1 1 20 1 3 2 1 1 999"/><path d="M186 163.5h40" stroke-dasharray="3 3 2 1 4 19 1 3 2 1 1 999"/><path d="M183 164.5h42" stroke-dasharray="1 1 1 1 1 3 1 7 2 13 2 1 2 1 1 3 1 999"/><path d="M185 165.5h40" stroke-dasharray="1 3 1 1 1 1 4 3 1 1 1 9 1 1 1 4 1 2 1 1 1 999"/><path d="M191 166.5h33" stroke-dasharray="2 1 1 4 1 1 3 3 1 3 1 2 1 1 2 5 1 999"/><path d="M184 167.5h36" stroke-dasharray="2 3 1 4 2 2 1 1 2 3 1 1 1 1 2 1 1 4 1 1 1 999"/><path d="M187 168.5h32" stroke-dasharray="2 2 1 2 1 2 1 1 1 3 3 1 4 2 1 1 1 2 1 999"/><path d="M195 169.5h27" stroke-dasharray="1 1 1 1 2 1 1 2 1 1 1 2 2 1 1 2 1 2 1 1 1 999"/><path d="M187 170.5h35" stroke-dasharray="1 4 2 1 2 2 1 1 1 1 1 1 1 2 1 1 1 5 1 1 1 1 2 999"/><path d="M192 171.5h29" stroke-dasharray="2 1 1 3 1 2 1 2 1 5 1 1 1 4 3 999"/><path d="M196 172.5h22" stroke-dasharray="1 2 3 1 2 1 1 1 3 1 2 1 1 1 1 999"/><path d="M191 173.5h28" stroke-dasharray="2 1 2 13 2 3 1 1 1 1 1 999"/><path d="M193 174.5h22" stroke-dasharray="1 1 2 2 1 1 2 1 1 2 3 1 2 1 1 999"/><path d="M192 175.5h24" stroke-dasharray="5 3 1 4 1 1 1 2 1 4 1 999"/><path d="M195 176.5h18" stroke-dasharray="2 9 1 2 2 1 1 999"/><path d="M201 177.5h9" stroke-dasharray="1 1 1 2 2 1 1 999"/><path d="M203 178.5h10" stroke-dasharray="1 8 1 999"/><path d="M200 179.5h15" stroke-dasharray="1 1 1 2 1 3 3 1 2 999"/><path d="M199 180.5h12" stroke-dasharray="3 5 1 2 1 999"/><path d="M207 181.5h1" stroke-dasharray="1 999"/><path d="M204 182.5h3" stroke-dasharray="1 1 1 999"/></g><g stroke="#000"><path d="M150 50.5h3" stroke-dasharray="3 999"/><path d="M146 51.5h11" stroke-dasharray="1 1 2 3 4 999"/><path d="M142 52.5h14" stroke-dasharray="2 1 2 1 4 3 1 999"/><path d="M139 53.5h16" stroke-dasharray="4 1 7 1 3 999"/><path d="M139 54.5h21" stroke-dasharray="1 1 1 3 2 1 1 1 2 1 4 2 1 999"/><path d="M138 55.5h24" stroke-dasharray="6 3 5 1 3 3 3 999"/><path d="M135 56.5h28" stroke-dasharray="8 2 1 1 2 1 2 1 5 2 3 999"/><path d="M133 57.5h29" stroke-dasharray="4 3 7 2 5 2 2 1 1 1 1 999"/><path d="M131 58.5h33" stroke-dasharray="3 1 1 1 5 1 2 1 2 1 11 2 2 999"/><path d="M130 59.5h35" stroke-dasharray="1 1 9 2 1 1 1 1 2 2 1 1 1 1 3 1 3 2 1 999"/><path d="M130 60.5h35" stroke-dasharray="1 2 2 1 1 3 2 1 3 2 6 1 2 3 1 2 2 999"/><path d="M127 61.5h40" stroke-dasharray="3 2 2 1 2 1 2 2 1 1 3 1 2 4 1 1 3 3 5 999"/><path d="M126 62.5h83" stroke-dasharray="1 3 4 2 3 1 6 1 2 1 1 1 2 2 1 3 3 2 2 41 1 999"/><path d="M127 63.5h84" stroke-dasharray="4 1 4 1 1 1 4 1 8 1 3 2 2 2 1 1 2 1 1 38 3 1 1 999"/><path d="M124 64.5h92" stroke-dasharray="5 1 7 1 7 1 12 2 4 1 1 36 3 1 2 1 2 1 2 1 1 999"/><path d="M123 65.5h94" stroke-dasharray="1 1 3 1 1 2 1 1 4 1 3 1 4 1 2 1 11 5 1 1 1 30 3 2 1 2 1 1 2 1 2 1 1 999"/><path d="M122 66.5h95" stroke-dasharray="3 3 2 1 4 2 7 2 7 2 6 3 4 1 1 28 1 1 5 2 5 1 1 1 2 999"/><path d="M124 67.5h96" stroke-dasharray="1 2 1 2 7 1 2 1 3 1 11 1 2 1 2 1 5 1 1 28 3 1 1 1 2 4 2 3 1 1 3 999"/><path d="M122 68.5h98" stroke-dasharray="1 4 17 1 5 1 6 1 4 5 4 24 2 1 4 1 5 1 2 1 2 1 5 999"/><path d="M120 69.5h101" stroke-dasharray="2 2 4 1 1 1 5 2 4 2 3 1 1 2 2 3 2 1 5 2 2 3 1 1 1 23 2 1 5 1 5 3 2 1 2 1 1 999"/><path d="M118 70.5h104" stroke-dasharray="1 1 1 1 8 3 2 1 23 1 5 2 7 20 3 1 2 1 8 2 1 1 4 1 2 1 1 999"/><path d="M117 71.5h105" stroke-dasharray="4 1 1 2 1 2 6 1 15 1 1 1 2 1 13 4 3 15 1 1 2 3 1 1 2 1 4 1 4 1 7 1 1 999"/><path d="M116 72.5h107" stroke-dasharray="4 1 2 1 4 1 1 1 6 1 1 1 13 1 3 1 5 1 5 1 4 3 1 11 1 1 1 1 2 1 1 3 2 1 3 1 4 1 5 1 5 999"/><path d="M116 73.5h108" stroke-dasharray="2 1 1 1 4 1 1 1 1 1 3 2 3 1 13 1 3 2 2 2 1 1 1 2 1 1 1 1 2 1 2 2 2 8 2 2 4 1 1 2 4 1 1 2 16 999"/><path d="M115 74.5h107" stroke-dasharray="2 1 1 1 1 1 13 1 6 1 9 1 1 1 3 1 3 1 2 2 3 2 3 3 9 1 4 2 2 1 1 1 3 1 6 2 4 1 2 1 1 1 1 999"/><path d="M114 75.5h111" stroke-dasharray="3 1 2 1 13 1 3 1 8 1 9 1 1 1 3 1 6 3 2 1 4 3 1 1 1 1 2 2 2 1 1 2 1 1 3 1 14 2 3 1 2 999"/><path d="M114 76.5h111" stroke-dasharray="1 3 3 1 2 1 4 1 1 1 6 3 6 1 1 1 9 2 1 1 9 1 1 1 1 1 5 1 1 3 2 2 1 1 3 1 17 2 5 1 1 1 1 999"/><path d="M113 77.5h110" stroke-dasharray="3 3 6 1 5 1 2 1 2 1 14 1 7 1 3 1 2 1 5 2 1 1 5 1 3 2 5 1 5 1 18 3 2 999"/><path d="M114 78.5h112" stroke-dasharray="3 1 1 1 1 1 1 1 3 1 6 1 5 2 17 1 2 1 1 1 2 1 2 1 2 2 7 1 1 1 1 1 2 1 2 3 13 1 1 1 13 1 1 999"/><path d="M112 79.5h114" stroke-dasharray="4 2 2 2 2 1 1 1 22 1 2 2 3 3 2 1 4 1 6 1 3 1 1 3 2 1 5 1 1 1 9 1 9 1 4 4 1 2 1 999"/><path d="M112 80.5h113" stroke-dasharray="3 1 1 1 1 1 1 1 2 1 10 1 7 2 10 1 4 3 1 3 6 1 1 1 1 1 1 1 1 1 2 5 19 1 3 1 8 1 1 1 1 999"/><path d="M112 81.5h112" stroke-dasharray="2 3 1 1 3 2 3 1 14 1 4 1 1 1 3 1 3 1 1 2 1 1 10 2 2 1 1 1 1 2 1 1 1 2 7 1 10 1 12 1 2 1 1 999"/><path d="M111 82.5h116" stroke-dasharray="2 1 20 2 1 2 10 1 3 1 15 1 6 1 2 1 6 3 3 1 22 1 11 999"/><path d="M111 83.5h117" stroke-dasharray="1 1 2 2 1 1 16 1 7 1 7 1 2 1 4 1 1 2 1 1 2 1 8 2 2 1 3 1 1 1 4 1 2 1 29 1 3 999"/><path d="M111 84.5h115" stroke-dasharray="2 1 1 1 1 2 3 1 1 1 2 1 2 1 7 1 8 1 4 1 8 1 2 1 2 2 4 1 5 2 10 1 2 1 31 999"/><path d="M112 85.5h115" stroke-dasharray="2 2 1 1 4 1 2 2 15 2 1 2 4 1 4 1 1 1 1 1 1 1 1 1 2 2 8 1 2 2 37 1 3 1 1 1 1 999"/><path d="M110 86.5h117" stroke-dasharray="1 2 3 1 8 1 14 1 2 1 8 1 3 2 9 1 5 2 2 2 3 2 1 1 13 1 27 999"/><path d="M109 87.5h120" stroke-dasharray="3 1 7 1 10 1 11 1 3 1 1 1 13 1 2 1 13 1 11 1 22 1 13 999"/><path d="M109 88.5h118" stroke-dasharray="2 1 11 1 4 1 1 1 9 2 4 2 3 1 2 1 7 2 1 2 2 1 3 1 4 1 8 1 3 1 2 1 1 1 24 1 3 1 1 999"/><path d="M109 89.5h120" stroke-dasharray="2 1 1 3 7 1 2 1 3 1 1 1 4 1 10 2 5 1 2 1 3 2 1 1 11 3 2 1 38 1 3 1 1 1 1 999"/><path d="M110 90.5h118" stroke-dasharray="1 1 2 3 1 1 3 1 1 1 22 1 6 2 2 1 3 1 2 1 3 1 1 1 3 1 1 1 8 2 3 1 5 1 27 2 1 999"/><path d="M109 91.5h121" stroke-dasharray="1 5 5 1 6 1 10 1 3 2 7 1 5 2 2 1 6 2 2 4 1 1 6 1 7 1 30 2 3 1 1 999"/><path d="M110 92.5h120" stroke-dasharray="3 1 1 1 13 1 2 1 2 1 1 1 1 2 1 1 12 4 1 3 2 1 6 1 4 1 5 1 2 1 5 1 33 1 3 999"/><path d="M109 93.5h121" stroke-dasharray="1 1 8 1 6 1 14 1 13 1 2 1 11 1 3 2 3 1 1 1 1 1 2 1 1 1 34 1 4 1 1 999"/><path d="M109 94.5h120" stroke-dasharray="2 1 2 2 4 1 4 1 5 1 4 1 13 2 5 1 1 1 11 4 1 2 42 1 8 999"/><path d="M109 95.5h121" stroke-dasharray="9 1 8 1 5 1 4 1 2 2 7 2 1 4 2 2 2 1 17 1 2 1 6 1 34 3 1 999"/><path d="M109 96.5h122" stroke-dasharray="4 2 1 2 5 1 7 1 2 2 8 1 14 1 7 1 1 1 2 3 3 1 1 1 4 1 5 1 5 1 23 1 6 2 1 999"/><path d="M109 97.5h120" stroke-dasharray="1 2 1 1 1 2 8 2 2 1 1 1 3 2 7 1 2 1 6 1 4 2 1 1 3 3 6 1 4 1 4 1 39 1 3 999"/><path d="M110 98.5h120" stroke-dasharray="2 2 2 1 4 1 10 1 2 2 19 2 1 1 11 1 1 1 3 1 1 1 1 1 2 1 10 1 30 1 3 999"/><path d="M114 99.5h117" stroke-dasharray="3 1 6 1 2 1 2 1 12 1 7 1 2 1 1 1 6 2 1 1 1 2 7 1 2 1 3 1 42 2 2 999"/><path d="M110 100.5h120" stroke-dasharray="1 1 2 1 5 1 3 1 3 1 3 1 2 2 3 1 4 1 5 1 1 1 2 1 4 1 1 1 1 2 2 1 2 1 2 1 1 1 2 3 5 1 35 1 2 1 2 999"/><path d="M111 101.5h119" stroke-dasharray="1 1 2 3 4 1 1 1 1 1 13 2 4 1 1 1 1 2 4 2 1 1 3 1 4 1 5 1 3 2 3 1 46 999"/><path d="M115 102.5h114" stroke-dasharray="2 3 3 1 12 2 1 1 2 2 4 1 2 1 1 2 7 1 2 3 1 1 4 1 2 1 6 1 42 1 1 999"/><path d="M111 103.5h120" stroke-dasharray="1 1 1 1 4 1 4 2 1 3 2 3 1 1 4 1 2 1 3 1 4 2 2 1 3 1 7 1 9 1 3 1 6 1 36 2 2 999"/><path d="M114 104.5h117" stroke-dasharray="2 3 1 1 3 1 5 1 3 1 2 1 5 5 2 1 4 1 1 1 2 1 4 1 3 1 2 1 4 1 1 2 1 4 40 4 1 999"/><path d="M112 105.5h119" stroke-dasharray="2 2 3 2 6 1 1 1 1 1 4 1 1 1 11 1 7 1 6 1 3 1 2 1 9 1 2 1 39 1 5 999"/><path d="M113 106.5h117" stroke-dasharray="3 2 1 3 2 2 4 1 4 1 1 1 4 1 6 1 1 1 10 1 1 1 3 1 2 1 7 1 47 1 2 999"/><path d="M114 107.5h117" stroke-dasharray="1 1 7 1 2 2 4 1 4 1 2 1 8 1 11 1 1 3 1 1 5 2 4 1 3 1 47 999"/><path d="M115 108.5h116" stroke-dasharray="2 1 2 1 10 1 3 1 9 2 4 1 2 1 1 1 2 1 4 1 5 1 5 1 2 2 1 1 5 1 36 1 5 999"/><path d="M117 109.5h114" stroke-dasharray="2 3 3 1 6 1 7 1 9 1 1 1 4 2 3 2 5 2 11 1 1 1 40 1 3 1 1 999"/><path d="M118 110.5h114" stroke-dasharray="12 1 6 2 4 1 10 1 1 3 7 1 2 1 3 1 1 2 2 1 2 2 5 2 34 1 6 999"/><path d="M122 111.5h110" stroke-dasharray="1 1 1 2 1 1 4 1 1 1 2 1 5 3 1 1 3 1 1 1 3 1 4 4 1 1 5 1 3 1 2 3 7 1 3 1 32 1 1 1 1 999"/><path d="M118 112.5h113" stroke-dasharray="3 2 6 2 8 1 14 2 2 3 2 2 3 2 1 1 3 1 1 1 2 1 2 1 42 1 1 1 2 999"/><path d="M119 113.5h112" stroke-dasharray="2 1 3 1 1 3 5 2 3 1 7 1 6 1 3 2 6 1 2 2 6 1 4 1 43 1 3 999"/><path d="M120 114.5h110" stroke-dasharray="1 1 4 1 1 4 2 1 1 2 1 1 1 1 2 1 3 2 1 2 4 1 5 1 1 1 2 1 4 1 1 1 1 1 1 1 11 1 38 999"/><path d="M124 115.5h107" stroke-dasharray="5 3 7 1 4 1 2 3 5 1 2 1 1 1 1 3 1 1 6 1 4 1 1 2 1 1 3 1 1 1 33 1 3 2 2 999"/><path d="M122 116.5h109" stroke-dasharray="1 4 2 4 1 2 5 1 1 1 2 1 1 1 1 1 3 1 1 2 4 2 1 3 4 1 1 1 2 1 2 1 1 2 45 1 1 999"/><path d="M125 117.5h106" stroke-dasharray="2 2 2 1 2 2 3 3 1 2 7 1 2 1 1 1 1 1 1 1 3 2 5 1 2 1 3 1 2 1 2 1 2 1 42 999"/><path d="M128 118.5h103" stroke-dasharray="1 1 4 1 1 2 3 1 5 1 1 2 1 2 2 4 1 1 1 1 2 1 1 2 3 2 1 1 1 1 6 1 8 1 33 2 1 999"/><path d="M126 119.5h105" stroke-dasharray="3 3 2 2 1 2 3 1 3 1 14 1 3 2 4 1 2 1 5 2 47 1 1 999"/><path d="M127 120.5h102" stroke-dasharray="1 2 1 1 3 2 1 1 5 1 1 1 6 1 1 1 3 1 10 1 2 3 1 1 3 1 5 1 41 999"/><path d="M129 121.5h101" stroke-dasharray="2 2 4 1 1 2 1 1 8 1 2 1 1 1 6 1 1 2 2 1 4 1 2 3 1 2 45 1 1 999"/><path d="M132 122.5h97" stroke-dasharray="5 1 8 2 2 1 3 1 2 1 6 1 1 1 4 1 1 2 2 3 3 1 30 1 9 1 4 999"/><path d="M132 123.5h99" stroke-dasharray="5 1 3 4 3 1 3 1 2 1 2 1 3 1 4 1 1 1 3 4 1 3 4 2 36 1 4 1 2 999"/><path d="M134 124.5h97" stroke-dasharray="1 2 2 1 1 6 1 1 4 1 5 1 1 1 1 3 5 2 1 1 2 1 2 3 1 1 3 1 36 1 2 2 1 999"/><path d="M136 125.5h94" stroke-dasharray="2 3 2 1 6 1 1 2 1 2 5 2 1 1 3 1 8 2 1 2 7 1 39 999"/><path d="M136 126.5h95" stroke-dasharray="1 1 2 2 2 1 4 3 1 1 6 1 1 1 1 1 1 1 4 1 6 1 1 1 9 1 36 2 2 999"/><path d="M138 127.5h92" stroke-dasharray="1 1 2 2 5 3 3 2 1 2 4 1 10 2 2 1 2 2 3 2 41 999"/><path d="M145 128.5h85" stroke-dasharray="1 1 4 4 1 1 2 2 3 1 1 1 2 2 1 1 2 2 2 1 17 1 24 1 7 999"/><path d="M146 129.5h83" stroke-dasharray="4 3 1 3 10 1 1 2 3 1 2 1 2 2 1 1 1 1 1 1 36 2 3 999"/><path d="M146 130.5h84" stroke-dasharray="6 1 3 2 2 1 6 1 1 2 2 1 1 3 2 1 3 1 2 1 38 1 1 1 1 999"/><path d="M149 131.5h81" stroke-dasharray="1 1 1 3 4 1 3 1 1 1 3 1 3 2 2 5 1 1 43 2 1 999"/><path d="M153 132.5h77" stroke-dasharray="1 1 2 1 1 1 1 1 3 4 1 2 4 2 6 2 44 999"/><path d="M156 133.5h74" stroke-dasharray="1 3 4 1 1 5 1 1 1 2 4 5 4 1 5 1 32 1 1 999"/><path d="M171 134.5h58" stroke-dasharray="3 1 4 2 1 1 2 1 39 1 1 1 1 999"/><path d="M179 135.5h49" stroke-dasharray="2 2 5 1 1 1 4 1 29 2 1 999"/><path d="M180 136.5h49" stroke-dasharray="1 1 6 1 12 1 27 999"/><path d="M181 137.5h47" stroke-dasharray="2 2 2 5 29 1 6 999"/><path d="M182 138.5h47" stroke-dasharray="4 1 1 1 1 2 4 1 21 2 4 1 4 999"/><path d="M183 139.5h46" stroke-dasharray="1 1 2 1 2 1 35 1 2 999"/><path d="M183 140.5h46" stroke-dasharray="1 2 1 1 6 2 29 1 3 999"/><path d="M186 141.5h42" stroke-dasharray="1 1 4 1 16 1 6 1 6 1 1 2 1 999"/><path d="M185 142.5h43" stroke-dasharray="5 1 6 1 6 1 10 1 12 999"/><path d="M184 143.5h42" stroke-dasharray="4 1 4 1 9 1 13 1 8 999"/><path d="M185 144.5h42" stroke-dasharray="2 2 5 3 22 1 3 2 2 999"/><path d="M185 145.5h42" stroke-dasharray="2 2 7 2 27 1 1 999"/><path d="M186 146.5h41" stroke-dasharray="1 1 4 1 16 1 11 2 2 1 1 999"/><path d="M186 147.5h40" stroke-dasharray="1 2 1 2 32 1 1 999"/><path d="M187 148.5h39" stroke-dasharray="2 1 28 2 6 999"/><path d="M187 149.5h39" stroke-dasharray="1 3 4 1 2 1 20 1 2 1 3 999"/><path d="M188 150.5h38" stroke-dasharray="3 2 1 1 1 1 20 1 3 2 3 999"/><path d="M190 151.5h34" stroke-dasharray="5 1 4 1 9 1 13 999"/><path d="M191 152.5h29" stroke-dasharray="1 2 5 1 4 1 15 999"/><path d="M190 153.5h33" stroke-dasharray="9 1 3 1 3 1 13 1 1 999"/><path d="M190 154.5h34" stroke-dasharray="2 1 2 1 2 1 4 1 12 1 2 1 2 1 1 999"/><path d="M191 155.5h30" stroke-dasharray="3 1 3 1 17 2 3 999"/><path d="M193 156.5h29" stroke-dasharray="2 2 1 1 1 1 1 1 4 2 1 2 2 1 4 1 2 999"/><path d="M194 157.5h27" stroke-dasharray="4 1 2 2 3 1 1 1 1 1 1 1 2 2 4 999"/><path d="M194 158.5h27" stroke-dasharray="8 1 2 2 3 1 6 3 1 999"/><path d="M195 159.5h24" stroke-dasharray="1 3 2 1 13 1 1 1 1 999"/><path d="M198 160.5h21" stroke-dasharray="3 1 3 1 5 1 2 1 1 1 2 999"/><path d="M198 161.5h20" stroke-dasharray="1 1 1 1 6 5 1 1 3 999"/><path d="M200 162.5h16" stroke-dasharray="1 1 1 1 1 1 4 1 2 1 2 999"/><path d="M201 163.5h15" stroke-dasharray="2 6 3 1 3 999"/><path d="M203 164.5h11" stroke-dasharray="3 2 1 1 2 1 1 999"/><path d="M203 165.5h8" stroke-dasharray="1 2 1 1 3 999"/></g></g>
<g stroke-width="1" fill="none" shape-rendering="crispEdges" filter="url(#soft)"><g stroke="#000"><path d="M436 43.5h1" stroke-dasharray="1 999"/><path d="M434 45.5h1" stroke-dasharray="1 999"/><path d="M436 49.5h1" stroke-dasharray="1 999"/><path d="M439 52.5h4" stroke-dasharray="1 2 1 999"/><path d="M448 54.5h1" stroke-dasharray="1 999"/><path d="M441 58.5h7" stroke-dasharray="1 3 1 1 1 999"/><path d="M452 60.5h3" stroke-dasharray="1 1 1 999"/><path d="M445 61.5h1" stroke-dasharray="1 999"/><path d="M447 67.5h1" stroke-dasharray="1 999"/><path d="M449 71.5h1" stroke-dasharray="1 999"/><path d="M460 72.5h1" stroke-dasharray="1 999"/><path d="M504 73.5h1" stroke-dasharray="1 999"/><path d="M452 80.5h3" stroke-dasharray="1 1 1 999"/><path d="M467 81.5h1" stroke-dasharray="1 999"/><path d="M453 83.5h3" stroke-dasharray="1 1 1 999"/><path d="M456 86.5h1" stroke-dasharray="1 999"/><path d="M455 93.5h5" stroke-dasharray="1 3 1 999"/><path d="M472 94.5h1" stroke-dasharray="1 999"/><path d="M455 95.5h1" stroke-dasharray="1 999"/><path d="M456 96.5h6" stroke-dasharray="1 4 1 999"/><path d="M457 99.5h1" stroke-dasharray="1 999"/><path d="M457 100.5h12" stroke-dasharray="1 5 1 4 1 999"/><path d="M456 103.5h4" stroke-dasharray="1 2 1 999"/><path d="M457 104.5h1" stroke-dasharray="1 999"/><path d="M458 105.5h1" stroke-dasharray="1 999"/><path d="M455 108.5h1" stroke-dasharray="1 999"/><path d="M484 109.5h1" stroke-dasharray="1 999"/><path d="M468 117.5h25" stroke-dasharray="1 23 1 999"/><path d="M456 118.5h1" stroke-dasharray="1 999"/><path d="M454 123.5h1" stroke-dasharray="1 999"/><path d="M453 125.5h3" stroke-dasharray="1 1 1 999"/><path d="M451 127.5h30" stroke-dasharray="1 3 1 24 1 999"/><path d="M456 128.5h1" stroke-dasharray="1 999"/><path d="M452 129.5h1" stroke-dasharray="1 999"/><path d="M448 132.5h1" stroke-dasharray="1 999"/><path d="M450 133.5h1" stroke-dasharray="1 999"/><path d="M447 134.5h1" stroke-dasharray="1 999"/><path d="M454 135.5h2" stroke-dasharray="2 999"/><path d="M456 136.5h1" stroke-dasharray="1 999"/><path d="M447 137.5h1" stroke-dasharray="1 999"/><path d="M444 141.5h1" stroke-dasharray="1 999"/><path d="M338 145.5h1" stroke-dasharray="1 999"/><path d="M343 146.5h4" stroke-dasharray="1 2 1 999"/><path d="M436 147.5h1" stroke-dasharray="1 999"/><path d="M434 149.5h10" stroke-dasharray="1 8 1 999"/><path d="M434 150.5h2" stroke-dasharray="2 999"/><path d="M343 151.5h8" stroke-dasharray="1 6 1 999"/><path d="M353 152.5h1" stroke-dasharray="1 999"/><path d="M429 153.5h11" stroke-dasharray="1 9 1 999"/><path d="M434 154.5h1" stroke-dasharray="1 999"/><path d="M349 155.5h1" stroke-dasharray="1 999"/><path d="M338 156.5h101" stroke-dasharray="1 25 1 53 1 7 1 4 1 6 1 999"/><path d="M449 157.5h1" stroke-dasharray="1 999"/><path d="M361 158.5h67" stroke-dasharray="1 65 1 999"/><path d="M359 159.5h73" stroke-dasharray="1 71 1 999"/><path d="M403 160.5h43" stroke-dasharray="1 41 1 999"/><path d="M374 161.5h50" stroke-dasharray="1 1 1 2 1 9 1 33 1 999"/><path d="M370 162.5h54" stroke-dasharray="1 3 1 11 1 35 2 999"/><path d="M386 163.5h17" stroke-dasharray="1 15 1 999"/><path d="M391 164.5h43" stroke-dasharray="1 8 1 32 1 999"/><path d="M350 165.5h145" stroke-dasharray="1 143 1 999"/><path d="M409 166.5h1" stroke-dasharray="1 999"/><path d="M390 167.5h1" stroke-dasharray="1 999"/><path d="M403 168.5h1" stroke-dasharray="1 999"/><path d="M363 171.5h1" stroke-dasharray="1 999"/><path d="M348 172.5h129" stroke-dasharray="1 60 2 65 1 999"/><path d="M357 173.5h66" stroke-dasharray="1 4 1 59 1 999"/><path d="M360 174.5h25" stroke-dasharray="1 23 1 999"/><path d="M393 175.5h65" stroke-dasharray="1 8 1 31 1 22 1 999"/><path d="M373 176.5h1" stroke-dasharray="1 999"/><path d="M386 177.5h1" stroke-dasharray="1 999"/><path d="M424 180.5h48" stroke-dasharray="1 46 1 999"/><path d="M411 181.5h1" stroke-dasharray="1 999"/><path d="M456 182.5h1" stroke-dasharray="1 999"/><path d="M358 183.5h70" stroke-dasharray="1 68 1 999"/><path d="M395 184.5h6" stroke-dasharray="1 4 1 999"/><path d="M375 185.5h4" stroke-dasharray="1 2 1 999"/><path d="M436 186.5h1" stroke-dasharray="1 999"/><path d="M340 188.5h68" stroke-dasharray="1 2 1 4 1 29 1 28 1 999"/><path d="M388 189.5h1" stroke-dasharray="1 999"/><path d="M359 190.5h89" stroke-dasharray="1 23 1 63 1 999"/><path d="M380 191.5h46" stroke-dasharray="1 44 1 999"/><path d="M393 193.5h1" stroke-dasharray="1 999"/><path d="M364 194.5h1" stroke-dasharray="1 999"/><path d="M374 195.5h1" stroke-dasharray="1 999"/><path d="M346 196.5h69" stroke-dasharray="1 30 1 36 1 999"/><path d="M382 197.5h48" stroke-dasharray="1 46 1 999"/><path d="M446 198.5h1" stroke-dasharray="1 999"/><path d="M423 199.5h1" stroke-dasharray="1 999"/><path d="M427 200.5h1" stroke-dasharray="1 999"/><path d="M365 201.5h1" stroke-dasharray="1 999"/><path d="M388 203.5h8" stroke-dasharray="1 6 1 999"/><path d="M358 204.5h56" stroke-dasharray="1 30 1 18 1 4 1 999"/><path d="M360 206.5h77" stroke-dasharray="1 75 1 999"/><path d="M410 207.5h1" stroke-dasharray="1 999"/><path d="M423 208.5h7" stroke-dasharray="1 5 1 999"/><path d="M393 209.5h28" stroke-dasharray="1 26 1 999"/><path d="M403 210.5h1" stroke-dasharray="1 999"/><path d="M413 215.5h21" stroke-dasharray="1 19 1 999"/><path d="M390 216.5h1" stroke-dasharray="1 999"/><path d="M407 217.5h24" stroke-dasharray="1 22 1 999"/><path d="M355 218.5h54" stroke-dasharray="1 39 1 12 1 999"/></g><g stroke="#000"><path d="M337 43.5h88" stroke-dasharray="1 1 1 1 1 78 1 3 1 999"/><path d="M425 44.5h1" stroke-dasharray="1 999"/><path d="M339 45.5h81" stroke-dasharray="1 1 1 76 2 999"/><path d="M339 46.5h91" stroke-dasharray="1 77 1 3 1 7 1 999"/><path d="M418 47.5h5" stroke-dasharray="2 2 1 999"/><path d="M422 48.5h2" stroke-dasharray="2 999"/><path d="M339 49.5h83" stroke-dasharray="1 81 1 999"/><path d="M337 50.5h89" stroke-dasharray="1 85 1 1 1 999"/><path d="M430 52.5h1" stroke-dasharray="1 999"/><path d="M426 53.5h5" stroke-dasharray="2 2 1 999"/><path d="M432 54.5h1" stroke-dasharray="1 999"/><path d="M434 55.5h1" stroke-dasharray="1 999"/><path d="M431 56.5h3" stroke-dasharray="1 1 1 999"/><path d="M437 57.5h1" stroke-dasharray="1 999"/><path d="M436 58.5h5" stroke-dasharray="1 3 1 999"/><path d="M433 59.5h6" stroke-dasharray="1 4 1 999"/><path d="M438 60.5h1" stroke-dasharray="1 999"/><path d="M432 61.5h10" stroke-dasharray="1 1 1 4 1 1 1 999"/><path d="M443 62.5h1" stroke-dasharray="1 999"/><path d="M435 63.5h8" stroke-dasharray="1 6 1 999"/><path d="M434 64.5h3" stroke-dasharray="1 1 1 999"/><path d="M441 65.5h1" stroke-dasharray="1 999"/><path d="M438 66.5h5" stroke-dasharray="1 3 1 999"/><path d="M440 67.5h1" stroke-dasharray="1 999"/><path d="M436 68.5h6" stroke-dasharray="1 2 1 1 1 999"/><path d="M441 70.5h6" stroke-dasharray="1 4 1 999"/><path d="M439 71.5h5" stroke-dasharray="1 3 1 999"/><path d="M440 73.5h6" stroke-dasharray="2 3 1 999"/><path d="M442 74.5h1" stroke-dasharray="1 999"/><path d="M445 78.5h1" stroke-dasharray="1 999"/><path d="M441 79.5h3" stroke-dasharray="1 1 1 999"/><path d="M441 80.5h10" stroke-dasharray="1 8 1 999"/><path d="M445 81.5h6" stroke-dasharray="1 3 2 999"/><path d="M444 83.5h1" stroke-dasharray="1 999"/><path d="M443 84.5h4" stroke-dasharray="1 2 1 999"/><path d="M445 85.5h6" stroke-dasharray="2 3 1 999"/><path d="M445 86.5h1" stroke-dasharray="1 999"/><path d="M444 87.5h1" stroke-dasharray="1 999"/><path d="M444 88.5h1" stroke-dasharray="1 999"/><path d="M448 89.5h4" stroke-dasharray="1 2 1 999"/><path d="M444 90.5h8" stroke-dasharray="1 6 1 999"/><path d="M449 91.5h1" stroke-dasharray="1 999"/><path d="M444 92.5h1" stroke-dasharray="1 999"/><path d="M446 93.5h6" stroke-dasharray="1 4 1 999"/><path d="M449 94.5h1" stroke-dasharray="1 999"/><path d="M446 95.5h3" stroke-dasharray="1 1 1 999"/><path d="M448 96.5h6" stroke-dasharray="1 4 1 999"/><path d="M445 97.5h3" stroke-dasharray="1 1 1 999"/><path d="M445 98.5h6" stroke-dasharray="1 4 1 999"/><path d="M449 99.5h1" stroke-dasharray="1 999"/><path d="M454 100.5h1" stroke-dasharray="1 999"/><path d="M448 102.5h1" stroke-dasharray="1 999"/><path d="M447 104.5h1" stroke-dasharray="1 999"/><path d="M452 106.5h1" stroke-dasharray="1 999"/><path d="M453 108.5h1" stroke-dasharray="1 999"/><path d="M445 109.5h7" stroke-dasharray="1 5 1 999"/><path d="M445 110.5h7" stroke-dasharray="1 5 1 999"/><path d="M444 111.5h9" stroke-dasharray="1 5 1 1 1 999"/><path d="M444 112.5h3" stroke-dasharray="1 1 1 999"/><path d="M448 113.5h1" stroke-dasharray="1 999"/><path d="M446 115.5h3" stroke-dasharray="3 999"/><path d="M449 116.5h1" stroke-dasharray="1 999"/><path d="M444 118.5h1" stroke-dasharray="1 999"/><path d="M444 119.5h1" stroke-dasharray="1 999"/><path d="M442 120.5h10" stroke-dasharray="1 4 1 1 1 1 1 999"/><path d="M446 121.5h1" stroke-dasharray="1 999"/><path d="M444 122.5h6" stroke-dasharray="1 4 1 999"/><path d="M337 123.5h111" stroke-dasharray="1 105 1 3 1 999"/><path d="M440 124.5h10" stroke-dasharray="1 2 1 5 1 999"/><path d="M339 125.5h105" stroke-dasharray="1 103 1 999"/><path d="M339 126.5h111" stroke-dasharray="1 103 2 4 1 999"/><path d="M447 127.5h3" stroke-dasharray="1 1 1 999"/><path d="M337 128.5h108" stroke-dasharray="2 105 1 999"/><path d="M443 129.5h5" stroke-dasharray="1 3 1 999"/><path d="M342 130.5h105" stroke-dasharray="1 94 1 4 1 1 1 1 1 999"/><path d="M339 131.5h99" stroke-dasharray="1 2 2 93 1 999"/><path d="M337 132.5h101" stroke-dasharray="1 5 1 91 1 1 1 999"/><path d="M339 133.5h105" stroke-dasharray="1 4 1 90 1 7 1 999"/><path d="M339 134.5h102" stroke-dasharray="1 95 1 4 1 999"/><path d="M340 135.5h101" stroke-dasharray="1 7 1 84 1 1 2 1 1 1 1 999"/><path d="M339 136.5h100" stroke-dasharray="1 2 1 1 1 3 1 83 1 5 1 999"/><path d="M337 137.5h7" stroke-dasharray="1 1 1 3 1 999"/><path d="M342 138.5h1" stroke-dasharray="1 999"/><path d="M348 139.5h82" stroke-dasharray="1 80 1 999"/><path d="M347 140.5h94" stroke-dasharray="1 1 1 83 2 5 1 999"/><path d="M349 141.5h87" stroke-dasharray="1 5 1 79 1 999"/><path d="M342 142.5h87" stroke-dasharray="1 12 1 72 1 999"/><path d="M345 143.5h93" stroke-dasharray="1 12 1 69 3 3 1 2 1 999"/><path d="M346 144.5h80" stroke-dasharray="1 5 1 3 1 66 1 1 1 999"/><path d="M347 145.5h83" stroke-dasharray="1 7 1 4 2 64 1 2 1 999"/><path d="M353 146.5h70" stroke-dasharray="1 2 1 1 1 3 1 58 2 999"/><path d="M363 147.5h60" stroke-dasharray="2 57 1 999"/><path d="M352 148.5h78" stroke-dasharray="1 4 2 8 1 61 1 999"/><path d="M364 149.5h58" stroke-dasharray="1 51 4 1 1 999"/><path d="M371 150.5h54" stroke-dasharray="1 40 1 3 2 1 1 1 1 2 1 999"/><path d="M359 151.5h62" stroke-dasharray="1 1 1 1 1 10 1 37 2 2 2 2 1 999"/><path d="M360 152.5h51" stroke-dasharray="1 1 2 1 1 2 1 1 1 1 1 1 1 32 1 1 2 999"/><path d="M365 153.5h54" stroke-dasharray="1 5 2 2 1 3 1 5 1 16 1 2 3 2 2 6 1 999"/><path d="M382 154.5h30" stroke-dasharray="1 3 1 4 1 11 1 2 1 4 1 999"/><path d="M368 155.5h51" stroke-dasharray="1 9 1 3 1 2 1 17 1 1 2 4 2 4 2 999"/><path d="M377 156.5h40" stroke-dasharray="1 11 1 24 1 1 1 999"/><path d="M376 157.5h20" stroke-dasharray="1 2 2 13 2 999"/><path d="M375 158.5h36" stroke-dasharray="1 12 1 2 1 7 1 4 1 4 2 999"/><path d="M390 159.5h10" stroke-dasharray="1 4 1 2 2 999"/><path d="M384 160.5h16" stroke-dasharray="1 14 1 999"/></g><g stroke="#000"><path d="M348 43.5h60" stroke-dasharray="2 4 2 1 6 1 10 3 1 1 5 1 1 2 1 1 1 5 1 2 2 5 2 999"/><path d="M346 44.5h62" stroke-dasharray="3 1 2 3 1 1 2 4 1 13 2 1 4 1 2 1 1 5 2 1 2 1 1 1 1 4 1 999"/><path d="M345 45.5h69" stroke-dasharray="1 3 1 4 1 3 1 24 1 3 1 3 2 1 1 1 1 5 2 2 1 1 1 4 1 999"/><path d="M352 46.5h62" stroke-dasharray="2 34 1 1 3 6 1 2 1 1 1 5 1 1 2 999"/><path d="M343 47.5h70" stroke-dasharray="1 1 1 1 1 1 2 1 2 35 5 3 4 2 3 1 2 3 1 999"/><path d="M342 48.5h76" stroke-dasharray="1 5 5 39 1 2 1 1 1 1 5 6 1 2 1 3 1 999"/><path d="M346 49.5h74" stroke-dasharray="1 47 2 1 2 1 1 1 2 2 3 3 1 2 2 2 1 999"/><path d="M340 50.5h81" stroke-dasharray="1 6 2 49 1 3 1 4 1 3 2 4 1 2 1 999"/><path d="M340 51.5h80" stroke-dasharray="1 2 1 56 1 2 2 1 1 1 1 1 1 6 3 999"/><path d="M343 52.5h73" stroke-dasharray="5 52 6 1 1 2 1 4 1 999"/><path d="M342 53.5h78" stroke-dasharray="3 1 1 55 2 3 1 3 1 1 3 3 1 999"/><path d="M337 54.5h87" stroke-dasharray="2 3 3 59 2 1 3 1 2 5 1 3 2 999"/><path d="M337 55.5h89" stroke-dasharray="2 3 1 2 1 65 1 1 1 2 1 8 1 999"/><path d="M337 56.5h88" stroke-dasharray="1 3 1 2 1 62 1 1 4 1 2 2 1 2 4 999"/><path d="M338 57.5h83" stroke-dasharray="1 1 2 2 1 67 2 6 1 999"/><path d="M339 58.5h90" stroke-dasharray="2 69 1 1 1 1 1 1 1 1 4 1 1 4 1 999"/><path d="M339 59.5h89" stroke-dasharray="1 2 2 67 2 1 1 3 2 2 1 3 2 999"/><path d="M337 60.5h85" stroke-dasharray="2 1 3 69 1 3 6 999"/><path d="M342 61.5h87" stroke-dasharray="1 70 4 2 2 2 2 3 1 999"/><path d="M340 62.5h92" stroke-dasharray="1 1 1 74 1 1 1 1 1 1 1 1 4 2 1 999"/><path d="M338 63.5h94" stroke-dasharray="1 2 1 73 1 5 3 1 1 2 1 2 1 999"/><path d="M338 64.5h92" stroke-dasharray="2 1 1 74 2 4 2 2 1 2 1 999"/><path d="M337 65.5h97" stroke-dasharray="1 79 1 1 3 2 1 5 1 2 1 999"/><path d="M338 66.5h96" stroke-dasharray="3 77 1 2 2 3 1 1 2 3 1 999"/><path d="M337 67.5h96" stroke-dasharray="2 80 1 1 3 1 1 2 1 2 2 999"/><path d="M337 68.5h96" stroke-dasharray="1 3 1 78 3 1 1 1 2 1 4 999"/><path d="M337 69.5h99" stroke-dasharray="1 84 5 1 3 4 1 999"/><path d="M424 70.5h13" stroke-dasharray="1 2 1 2 3 1 1 1 1 999"/><path d="M338 71.5h100" stroke-dasharray="2 1 1 81 1 1 1 7 1 3 1 999"/><path d="M337 72.5h98" stroke-dasharray="3 84 2 1 1 1 1 4 1 999"/><path d="M337 73.5h102" stroke-dasharray="1 86 2 2 1 4 1 4 1 999"/><path d="M337 74.5h102" stroke-dasharray="4 84 1 1 1 3 1 2 1 2 2 999"/><path d="M338 75.5h95" stroke-dasharray="1 1 2 87 2 1 1 999"/><path d="M340 76.5h97" stroke-dasharray="1 90 1 1 1 2 1 999"/><path d="M338 77.5h99" stroke-dasharray="1 2 1 85 5 2 3 999"/><path d="M341 78.5h98" stroke-dasharray="1 85 3 8 1 999"/><path d="M338 79.5h101" stroke-dasharray="1 2 1 89 3 1 2 1 1 999"/><path d="M338 80.5h97" stroke-dasharray="3 87 2 2 3 999"/><path d="M337 81.5h104" stroke-dasharray="1 1 2 87 1 7 1 3 1 999"/><path d="M337 82.5h105" stroke-dasharray="2 2 1 90 2 3 2 2 1 999"/><path d="M339 83.5h96" stroke-dasharray="3 87 1 1 2 1 1 999"/><path d="M337 84.5h106" stroke-dasharray="1 94 1 2 2 1 1 3 1 999"/><path d="M337 85.5h106" stroke-dasharray="1 1 1 2 1 87 2 10 1 999"/><path d="M337 86.5h95" stroke-dasharray="4 1 1 88 1 999"/><path d="M338 87.5h101" stroke-dasharray="3 1 1 88 1 6 1 999"/><path d="M339 88.5h105" stroke-dasharray="2 1 1 91 4 1 2 2 1 999"/><path d="M338 89.5h103" stroke-dasharray="1 3 1 89 1 2 1 1 1 1 2 999"/><path d="M337 90.5h105" stroke-dasharray="1 2 1 91 1 1 2 1 1 3 1 999"/><path d="M337 91.5h105" stroke-dasharray="4 92 1 1 1 3 3 999"/><path d="M339 92.5h104" stroke-dasharray="2 2 1 89 1 8 1 999"/><path d="M337 93.5h108" stroke-dasharray="2 2 3 89 2 1 2 1 2 1 1 1 1 999"/><path d="M339 94.5h104" stroke-dasharray="4 93 2 2 1 1 1 999"/><path d="M337 95.5h108" stroke-dasharray="6 91 1 1 1 6 2 999"/><path d="M337 96.5h107" stroke-dasharray="1 1 4 92 3 2 1 2 1 999"/><path d="M339 97.5h106" stroke-dasharray="1 1 1 1 1 91 2 3 2 2 1 999"/><path d="M337 98.5h104" stroke-dasharray="6 1 1 89 1 3 3 999"/><path d="M340 99.5h105" stroke-dasharray="1 1 1 91 4 1 2 1 1 1 1 999"/><path d="M338 100.5h103" stroke-dasharray="1 3 2 92 5 999"/><path d="M339 101.5h106" stroke-dasharray="4 1 1 89 2 2 1 5 1 999"/><path d="M337 102.5h108" stroke-dasharray="4 4 1 89 1 2 1 2 1 2 1 999"/><path d="M337 103.5h107" stroke-dasharray="1 1 1 2 4 88 4 1 1 3 1 999"/><path d="M337 104.5h107" stroke-dasharray="2 1 1 4 1 96 2 999"/><path d="M338 105.5h106" stroke-dasharray="1 2 1 1 1 2 1 87 1 1 3 4 1 999"/><path d="M337 106.5h108" stroke-dasharray="1 1 2 2 1 1 1 88 2 2 3 1 1 1 1 999"/><path d="M337 107.5h106" stroke-dasharray="4 4 1 88 4 3 2 999"/><path d="M339 108.5h104" stroke-dasharray="1 1 3 1 2 86 2 1 1 5 1 999"/><path d="M337 109.5h107" stroke-dasharray="1 2 4 2 2 85 1 2 1 3 1 2 1 999"/><path d="M337 110.5h99" stroke-dasharray="1 1 1 2 2 3 1 87 1 999"/><path d="M342 111.5h99" stroke-dasharray="2 2 3 84 1 6 1 999"/><path d="M338 112.5h103" stroke-dasharray="1 2 3 1 5 82 2 2 2 1 2 999"/><path d="M339 113.5h104" stroke-dasharray="2 1 1 3 3 85 2 2 2 2 1 999"/><path d="M337 114.5h105" stroke-dasharray="2 2 1 2 4 84 2 2 2 3 1 999"/><path d="M340 115.5h96" stroke-dasharray="1 2 1 1 1 2 1 82 2 1 2 999"/><path d="M338 116.5h104" stroke-dasharray="1 3 1 5 2 82 1 2 2 4 1 999"/><path d="M337 117.5h105" stroke-dasharray="1 1 1 4 2 1 4 1 1 80 1 1 1 2 2 1 1 999"/><path d="M338 118.5h104" stroke-dasharray="1 6 2 1 2 1 3 78 3 2 1 3 1 999"/><path d="M337 119.5h105" stroke-dasharray="1 2 1 2 1 1 3 1 1 1 1 2 1 74 3 1 1 1 1 1 1 3 1 999"/><path d="M339 120.5h101" stroke-dasharray="5 3 3 1 1 1 1 75 6 2 1 1 1 999"/><path d="M340 121.5h98" stroke-dasharray="2 2 1 9 2 71 1 1 1 2 1 1 1 2 1 999"/><path d="M340 122.5h101" stroke-dasharray="1 1 1 1 1 7 2 73 1 4 3 3 1 1 1 999"/><path d="M342 123.5h97" stroke-dasharray="2 7 1 2 1 1 2 68 1 2 1 6 1 1 1 999"/><path d="M339 124.5h101" stroke-dasharray="1 4 1 1 2 1 4 2 1 1 1 66 1 2 1 2 2 4 4 999"/><path d="M340 125.5h96" stroke-dasharray="1 3 1 3 1 2 1 1 1 1 2 1 2 65 2 2 1 2 1 1 2 999"/><path d="M343 126.5h95" stroke-dasharray="1 1 1 6 1 1 1 1 5 63 1 5 2 4 2 999"/><path d="M342 127.5h96" stroke-dasharray="1 5 1 2 1 2 1 1 1 2 1 2 1 58 2 2 1 7 1 3 1 999"/><path d="M343 128.5h92" stroke-dasharray="3 2 1 1 1 2 1 2 1 4 2 57 1 1 1 1 2 1 2 1 1 3 1 999"/><path d="M343 129.5h89" stroke-dasharray="2 3 2 1 3 3 3 2 1 1 2 51 1 4 2 3 1 2 2 999"/><path d="M346 130.5h89" stroke-dasharray="2 2 1 4 1 1 1 2 1 1 2 1 1 50 4 1 4 5 1 1 1 1 1 999"/><path d="M350 131.5h86" stroke-dasharray="2 3 1 2 2 1 4 1 1 47 1 1 1 1 3 3 1 1 1 8 1 999"/><path d="M348 132.5h87" stroke-dasharray="2 1 1 3 1 1 2 1 1 1 1 1 1 5 1 42 2 1 1 1 2 3 2 1 1 1 1 1 1 2 2 999"/><path d="M350 133.5h80" stroke-dasharray="1 1 1 5 1 1 1 1 1 3 3 1 1 1 1 36 1 1 2 3 2 2 1 2 1 5 1 999"/><path d="M349 134.5h85" stroke-dasharray="1 6 2 5 1 2 1 2 1 38 6 3 1 2 1 2 1 1 1 3 1 2 2 999"/><path d="M351 135.5h72" stroke-dasharray="1 1 1 4 1 4 3 1 1 1 1 3 1 2 1 27 1 1 2 1 6 2 2 1 1 1 1 999"/><path d="M350 136.5h79" stroke-dasharray="2 2 4 2 1 3 1 3 1 1 5 1 5 19 1 1 1 1 2 1 5 1 4 2 2 7 1 999"/><path d="M353 137.5h77" stroke-dasharray="1 5 1 1 2 2 1 2 5 1 2 1 1 3 4 1 3 5 3 1 1 1 2 2 3 1 1 2 1 2 1 1 3 3 1 1 2 3 1 999"/><path d="M353 138.5h67" stroke-dasharray="2 1 1 4 1 1 1 4 1 2 1 5 1 1 1 2 3 2 1 1 6 1 2 1 7 2 1 1 1 1 3 1 2 1 1 999"/><path d="M353 139.5h75" stroke-dasharray="2 1 2 3 1 6 1 3 1 10 1 1 1 1 1 1 2 2 2 3 1 1 1 1 3 1 4 1 1 3 1 2 4 2 2 1 1 999"/><path d="M361 140.5h67" stroke-dasharray="1 5 3 1 1 2 2 1 1 3 1 2 2 1 1 3 2 2 1 2 5 1 1 1 1 1 1 5 3 1 2 1 1 3 1 1 1 999"/><path d="M359 141.5h65" stroke-dasharray="2 1 2 1 1 3 2 1 2 1 6 1 2 1 5 2 1 3 3 1 1 1 1 2 1 2 1 2 1 3 1 1 2 3 2 999"/><path d="M357 142.5h69" stroke-dasharray="4 5 1 4 2 1 1 1 1 5 3 1 2 1 8 2 1 4 2 2 1 1 1 2 1 11 1 999"/><path d="M367 143.5h55" stroke-dasharray="2 1 2 3 2 6 2 1 2 2 2 1 2 2 2 2 1 1 1 1 2 1 2 11 1 999"/><path d="M366 144.5h57" stroke-dasharray="1 6 6 4 2 1 2 1 2 5 1 1 2 3 2 7 3 2 1 3 2 999"/><path d="M365 145.5h55" stroke-dasharray="1 10 4 2 1 2 3 4 1 2 2 5 1 1 1 1 2 3 1 1 1 1 1 3 1 999"/><path d="M367 146.5h49" stroke-dasharray="1 1 1 6 1 4 1 3 1 1 1 1 1 1 1 1 1 1 2 1 1 16 1 999"/><path d="M366 147.5h48" stroke-dasharray="2 1 1 8 1 6 2 2 2 1 1 3 1 4 6 6 1 999"/><path d="M371 148.5h35" stroke-dasharray="1 1 1 2 1 1 1 2 2 1 1 6 1 1 1 6 3 1 2 999"/><path d="M373 149.5h38" stroke-dasharray="1 1 2 3 2 6 2 3 1 2 2 4 1 1 2 1 2 1 1 999"/><path d="M374 150.5h30" stroke-dasharray="2 2 1 7 1 4 2 3 1 1 1 3 2 999"/><path d="M378 151.5h31" stroke-dasharray="1 9 2 2 1 1 1 1 2 6 1 3 1 999"/><path d="M382 152.5h23" stroke-dasharray="1 1 1 1 1 1 1 6 2 6 2 999"/><path d="M386 153.5h14" stroke-dasharray="1 2 1 2 1 2 3 1 1 999"/></g><g stroke="#000"><path d="M364 44.5h9" stroke-dasharray="1 1 3 2 2 999"/><path d="M360 45.5h20" stroke-dasharray="1 1 1 1 1 1 3 1 1 1 2 1 3 1 1 999"/><path d="M358 46.5h27" stroke-dasharray="3 1 5 3 2 1 2 1 5 2 2 999"/><path d="M354 47.5h35" stroke-dasharray="1 1 2 1 1 2 3 1 1 1 7 1 1 1 3 1 1 2 4 999"/><path d="M355 48.5h37" stroke-dasharray="2 2 2 1 1 2 2 1 5 4 9 1 1 1 1 1 1 999"/><path d="M353 49.5h41" stroke-dasharray="3 1 1 5 5 1 4 1 1 3 3 1 6 5 1 999"/><path d="M350 50.5h46" stroke-dasharray="1 2 3 3 6 1 12 1 3 1 5 1 1 1 2 1 2 999"/><path d="M349 51.5h50" stroke-dasharray="1 1 10 1 11 1 1 1 8 1 3 1 7 2 1 999"/><path d="M350 52.5h49" stroke-dasharray="4 1 1 1 2 1 5 1 7 1 8 2 2 1 1 2 2 1 1 1 2 1 1 999"/><path d="M347 53.5h51" stroke-dasharray="1 4 5 1 16 1 2 1 8 2 3 1 1 1 4 999"/><path d="M347 54.5h57" stroke-dasharray="1 3 15 1 3 1 19 1 4 1 3 1 4 999"/><path d="M347 55.5h58" stroke-dasharray="3 1 3 1 5 2 10 1 20 1 1 3 1 1 2 2 1 999"/><path d="M345 56.5h61" stroke-dasharray="4 1 1 1 21 1 17 1 1 1 6 1 3 1 1 999"/><path d="M348 57.5h60" stroke-dasharray="2 1 9 1 24 1 14 3 5 999"/><path d="M347 58.5h63" stroke-dasharray="3 1 3 1 2 1 33 1 8 1 4 1 2 1 1 999"/><path d="M344 59.5h67" stroke-dasharray="1 1 1 2 8 1 2 2 12 1 13 2 9 1 11 999"/><path d="M345 60.5h67" stroke-dasharray="3 1 32 1 9 1 14 1 1 1 3 999"/><path d="M344 61.5h69" stroke-dasharray="4 1 45 1 1 1 13 2 1 999"/><path d="M343 62.5h69" stroke-dasharray="3 1 2 1 2 1 53 1 2 1 2 999"/><path d="M342 63.5h73" stroke-dasharray="6 1 14 1 7 1 14 1 14 1 5 1 1 1 5 999"/><path d="M343 64.5h71" stroke-dasharray="6 1 1 1 48 1 4 1 8 999"/><path d="M342 65.5h74" stroke-dasharray="4 1 1 1 16 1 34 1 2 1 5 1 2 1 1 1 1 999"/><path d="M343 66.5h75" stroke-dasharray="1 3 60 2 2 2 3 1 1 999"/><path d="M342 67.5h77" stroke-dasharray="1 1 67 1 4 1 2 999"/><path d="M342 68.5h78" stroke-dasharray="22 1 48 1 6 999"/><path d="M342 69.5h79" stroke-dasharray="2 1 7 1 2 1 54 1 4 1 1 2 2 999"/><path d="M342 70.5h78" stroke-dasharray="5 1 1 1 3 1 53 1 10 1 1 999"/><path d="M343 71.5h76" stroke-dasharray="3 1 4 2 51 1 8 1 5 999"/><path d="M341 72.5h82" stroke-dasharray="1 1 3 1 69 1 6 999"/><path d="M342 73.5h80" stroke-dasharray="2 1 1 1 2 1 1 1 1 1 20 1 38 1 8 999"/><path d="M343 74.5h81" stroke-dasharray="1 1 65 1 2 2 2 1 6 999"/><path d="M342 75.5h82" stroke-dasharray="2 1 1 1 1 1 67 3 5 999"/><path d="M342 76.5h84" stroke-dasharray="2 2 45 1 19 1 9 2 1 1 1 999"/><path d="M342 77.5h83" stroke-dasharray="1 2 1 2 7 2 55 1 7 2 1 1 1 999"/><path d="M342 78.5h85" stroke-dasharray="6 2 66 1 1 1 5 2 1 999"/><path d="M342 79.5h85" stroke-dasharray="74 2 4 1 4 999"/><path d="M342 80.5h86" stroke-dasharray="9 1 13 1 60 1 1 999"/><path d="M343 81.5h82" stroke-dasharray="1 4 4 1 72 999"/><path d="M343 82.5h86" stroke-dasharray="1 2 1 1 49 1 27 1 3 999"/><path d="M343 83.5h86" stroke-dasharray="4 1 44 1 30 2 2 1 1 999"/><path d="M342 84.5h87" stroke-dasharray="2 1 1 2 1 1 11 1 61 4 2 999"/><path d="M343 85.5h87" stroke-dasharray="1 1 6 1 61 1 10 1 3 1 1 999"/><path d="M343 86.5h88" stroke-dasharray="3 1 6 1 4 1 70 1 1 999"/><path d="M343 87.5h85" stroke-dasharray="3 1 13 1 55 1 4 1 1 1 4 999"/><path d="M347 88.5h84" stroke-dasharray="1 1 3 1 2 1 29 1 38 1 6 999"/><path d="M344 89.5h87" stroke-dasharray="2 2 1 2 3 1 1 1 61 1 7 1 4 999"/><path d="M345 90.5h86" stroke-dasharray="1 1 4 1 1 1 7 1 29 1 28 1 2 1 2 1 4 999"/><path d="M343 91.5h89" stroke-dasharray="1 4 3 1 66 1 8 2 3 999"/><path d="M345 92.5h87" stroke-dasharray="4 1 10 1 59 1 3 1 3 1 3 999"/><path d="M345 93.5h87" stroke-dasharray="2 1 1 1 4 1 13 1 56 2 1 2 2 999"/><path d="M344 94.5h88" stroke-dasharray="2 1 1 4 5 1 2 1 64 3 4 999"/><path d="M344 95.5h88" stroke-dasharray="1 1 1 1 1 1 1 1 2 1 8 1 29 1 34 1 3 999"/><path d="M344 96.5h89" stroke-dasharray="6 1 2 1 1 1 4 1 2 1 2 1 55 1 2 3 1 3 1 999"/><path d="M347 97.5h86" stroke-dasharray="4 1 1 1 4 1 14 1 50 1 1 3 2 1 1 999"/><path d="M347 98.5h87" stroke-dasharray="3 2 2 1 1 1 70 1 3 1 2 999"/><path d="M346 99.5h87" stroke-dasharray="3 2 1 1 1 1 2 1 2 1 4 1 2 1 1 1 26 1 31 3 1 999"/><path d="M345 100.5h87" stroke-dasharray="1 2 1 1 4 1 2 2 3 1 1 1 3 1 8 1 50 1 3 999"/><path d="M346 101.5h87" stroke-dasharray="1 1 5 2 7 2 62 4 1 1 1 999"/><path d="M346 102.5h88" stroke-dasharray="2 1 1 5 1 1 2 1 1 1 53 1 8 1 5 2 2 999"/><path d="M347 103.5h86" stroke-dasharray="2 5 2 2 3 1 4 1 55 1 1 1 8 999"/><path d="M346 104.5h88" stroke-dasharray="4 2 2 1 2 1 2 1 2 3 6 1 1 1 5 1 46 1 2 1 1 1 1 999"/><path d="M347 105.5h86" stroke-dasharray="5 1 1 3 2 1 2 2 1 1 13 1 49 1 3 999"/><path d="M348 106.5h86" stroke-dasharray="4 2 1 1 8 1 3 1 37 1 14 1 3 1 1 1 3 1 2 999"/><path d="M347 107.5h86" stroke-dasharray="1 1 4 1 1 1 2 1 10 2 49 1 9 2 1 999"/><path d="M348 108.5h85" stroke-dasharray="6 1 3 1 1 1 5 2 1 1 35 1 16 1 6 1 1 1 1 999"/><path d="M350 109.5h81" stroke-dasharray="1 3 4 2 4 1 1 1 2 3 45 1 7 1 2 1 2 999"/><path d="M349 110.5h82" stroke-dasharray="1 1 4 2 1 1 1 1 3 1 3 1 2 1 3 1 1 1 2 1 2 1 3 1 34 1 8 999"/><path d="M349 111.5h84" stroke-dasharray="2 1 2 1 2 1 3 1 4 1 2 1 1 1 2 1 42 2 8 1 1 1 3 999"/><path d="M350 112.5h82" stroke-dasharray="1 1 1 1 8 2 4 1 1 1 7 1 1 1 4 1 14 1 24 1 2 2 2 999"/><path d="M351 113.5h80" stroke-dasharray="1 1 1 1 5 1 4 1 4 1 4 2 2 1 32 1 1 1 1 1 5 1 4 1 3 999"/><path d="M353 114.5h79" stroke-dasharray="2 1 1 1 3 2 3 2 1 1 6 1 7 1 5 1 26 1 7 1 2 2 2 999"/><path d="M352 115.5h79" stroke-dasharray="3 2 2 1 1 1 3 2 4 1 1 2 22 1 2 1 13 1 2 1 4 1 2 1 2 1 2 999"/><path d="M353 116.5h74" stroke-dasharray="3 1 2 1 1 2 3 1 6 1 1 2 1 1 6 2 32 1 5 1 1 999"/><path d="M353 117.5h76" stroke-dasharray="3 1 1 1 11 1 1 2 4 2 2 3 1 1 14 1 11 1 2 1 5 3 1 2 1 999"/><path d="M356 118.5h74" stroke-dasharray="1 3 9 1 1 1 2 1 4 1 8 1 2 1 20 1 17 999"/><path d="M356 119.5h73" stroke-dasharray="5 2 3 3 1 1 2 1 5 1 1 1 2 4 1 1 5 2 13 1 10 1 1 1 3 1 1 999"/><path d="M356 120.5h72" stroke-dasharray="2 1 2 3 2 1 1 1 2 1 1 1 2 1 2 1 2 1 12 1 3 1 1 1 1 1 10 1 3 1 2 1 2 1 3 999"/><path d="M357 121.5h69" stroke-dasharray="3 2 4 2 1 2 2 2 6 1 4 1 8 1 14 2 9 1 2 1 1 999"/><path d="M357 122.5h70" stroke-dasharray="2 1 1 1 3 1 1 2 1 1 1 1 2 1 2 2 2 1 1 2 1 1 5 1 1 1 9 1 9 1 6 4 1 999"/><path d="M362 123.5h61" stroke-dasharray="1 1 6 1 1 1 1 3 6 1 1 1 3 2 2 1 3 1 2 2 1 1 3 3 2 1 3 2 2 1 2 999"/><path d="M360 124.5h64" stroke-dasharray="2 1 1 1 3 1 3 1 4 1 1 1 4 1 1 1 5 1 1 1 1 1 4 1 1 1 7 1 1 1 3 1 1 1 2 1 1 999"/><path d="M360 125.5h63" stroke-dasharray="3 3 1 4 1 1 1 2 1 1 1 1 5 2 2 2 16 2 1 1 8 1 1 1 1 999"/><path d="M364 126.5h57" stroke-dasharray="1 1 1 4 1 3 1 1 6 1 2 1 4 1 2 1 3 2 4 1 1 1 1 1 7 1 4 999"/><path d="M363 127.5h58" stroke-dasharray="2 4 8 1 3 2 2 2 4 1 2 1 3 1 1 1 1 1 3 1 6 1 1 1 1 1 3 999"/><path d="M364 128.5h54" stroke-dasharray="1 1 2 1 2 1 2 2 3 2 1 1 1 1 1 1 1 1 2 3 1 2 1 1 5 2 3 2 1 1 5 999"/><path d="M370 129.5h47" stroke-dasharray="2 1 2 2 2 1 9 1 3 2 2 3 1 2 4 2 4 3 1 999"/><path d="M368 130.5h48" stroke-dasharray="4 5 4 1 1 1 2 3 2 1 1 3 1 1 3 1 1 3 1 2 3 2 2 999"/><path d="M369 131.5h45" stroke-dasharray="7 1 2 2 2 1 3 2 1 3 1 1 2 2 3 1 2 1 1 2 2 2 1 999"/><path d="M372 132.5h40" stroke-dasharray="2 3 1 1 5 1 1 2 4 2 1 1 1 5 1 2 1 2 4 999"/><path d="M373 133.5h36" stroke-dasharray="1 3 1 1 5 1 1 2 1 1 1 2 2 1 1 1 1 1 3 1 2 1 2 999"/><path d="M376 134.5h31" stroke-dasharray="3 1 1 1 5 1 3 1 2 6 1 1 1 2 2 999"/><path d="M378 135.5h25" stroke-dasharray="2 3 3 1 1 1 1 2 1 1 1 1 1 1 1 2 2 999"/><path d="M382 136.5h18" stroke-dasharray="1 1 3 1 5 1 3 1 2 999"/><path d="M390 137.5h1" stroke-dasharray="1 999"/></g></g>
<g stroke-width="1" fill="none" shape-rendering="crispEdges" filter="url(#soft)"><g stroke="#000"><path d="M145 315.5h1" stroke-dasharray="1 999"/><path d="M240 318.5h1" stroke-dasharray="1 999"/><path d="M253 320.5h1" stroke-dasharray="1 999"/><path d="M222 321.5h9" stroke-dasharray="1 7 1 999"/><path d="M240 323.5h1" stroke-dasharray="1 999"/><path d="M201 324.5h1" stroke-dasharray="1 999"/><path d="M226 326.5h19" stroke-dasharray="1 13 1 3 1 999"/><path d="M254 327.5h4" stroke-dasharray="1 2 1 999"/><path d="M226 328.5h1" stroke-dasharray="1 999"/><path d="M249 329.5h17" stroke-dasharray="1 15 1 999"/><path d="M244 331.5h20" stroke-dasharray="1 18 1 999"/><path d="M243 332.5h11" stroke-dasharray="1 7 1 1 1 999"/><path d="M217 334.5h45" stroke-dasharray="1 35 1 2 1 4 1 999"/><path d="M239 337.5h4" stroke-dasharray="1 2 1 999"/><path d="M209 338.5h66" stroke-dasharray="1 12 1 24 1 1 1 9 1 14 1 999"/><path d="M255 339.5h1" stroke-dasharray="1 999"/><path d="M234 340.5h12" stroke-dasharray="1 10 1 999"/><path d="M208 341.5h36" stroke-dasharray="1 29 1 4 1 999"/><path d="M244 342.5h17" stroke-dasharray="1 15 1 999"/><path d="M238 343.5h24" stroke-dasharray="1 11 1 9 2 999"/><path d="M226 344.5h33" stroke-dasharray="1 22 1 8 1 999"/><path d="M229 345.5h43" stroke-dasharray="2 40 1 999"/><path d="M228 346.5h1" stroke-dasharray="1 999"/><path d="M239 347.5h39" stroke-dasharray="1 37 1 999"/><path d="M225 348.5h44" stroke-dasharray="1 6 1 1 1 11 1 1 1 19 1 999"/><path d="M200 349.5h68" stroke-dasharray="1 51 1 13 2 999"/><path d="M243 350.5h1" stroke-dasharray="1 999"/><path d="M258 351.5h1" stroke-dasharray="1 999"/><path d="M259 353.5h14" stroke-dasharray="1 12 1 999"/><path d="M223 354.5h53" stroke-dasharray="1 51 1 999"/><path d="M233 355.5h19" stroke-dasharray="1 17 1 999"/><path d="M248 356.5h1" stroke-dasharray="1 999"/><path d="M230 358.5h40" stroke-dasharray="1 3 1 2 1 11 1 17 1 1 1 999"/><path d="M243 359.5h12" stroke-dasharray="1 10 1 999"/><path d="M231 361.5h1" stroke-dasharray="1 999"/><path d="M221 362.5h52" stroke-dasharray="1 25 1 4 1 1 1 1 1 15 1 999"/><path d="M263 363.5h1" stroke-dasharray="1 999"/><path d="M260 364.5h11" stroke-dasharray="1 9 1 999"/><path d="M207 365.5h59" stroke-dasharray="1 33 1 23 1 999"/><path d="M272 366.5h1" stroke-dasharray="1 999"/><path d="M241 367.5h11" stroke-dasharray="1 5 1 3 1 999"/><path d="M199 368.5h71" stroke-dasharray="1 69 1 999"/><path d="M237 369.5h1" stroke-dasharray="1 999"/><path d="M207 370.5h62" stroke-dasharray="1 12 1 23 1 3 1 1 1 17 1 999"/><path d="M212 374.5h54" stroke-dasharray="1 9 1 18 1 23 1 999"/><path d="M217 378.5h18" stroke-dasharray="1 16 1 999"/><path d="M204 379.5h52" stroke-dasharray="1 2 1 47 1 999"/><path d="M255 383.5h1" stroke-dasharray="1 999"/><path d="M239 384.5h1" stroke-dasharray="1 999"/><path d="M223 385.5h1" stroke-dasharray="1 999"/><path d="M211 386.5h1" stroke-dasharray="1 999"/><path d="M204 387.5h1" stroke-dasharray="1 999"/><path d="M207 389.5h1" stroke-dasharray="1 999"/><path d="M201 390.5h1" stroke-dasharray="1 999"/><path d="M125 391.5h95" stroke-dasharray="1 93 1 999"/><path d="M202 392.5h24" stroke-dasharray="2 21 1 999"/><path d="M207 393.5h39" stroke-dasharray="1 14 1 22 1 999"/><path d="M216 394.5h18" stroke-dasharray="1 16 1 999"/><path d="M208 395.5h1" stroke-dasharray="1 999"/><path d="M194 396.5h15" stroke-dasharray="1 13 1 999"/><path d="M200 397.5h2" stroke-dasharray="2 999"/><path d="M202 398.5h15" stroke-dasharray="1 3 1 9 1 999"/><path d="M199 399.5h51" stroke-dasharray="1 7 2 10 1 29 1 999"/><path d="M210 400.5h1" stroke-dasharray="1 999"/><path d="M170 401.5h43" stroke-dasharray="1 41 1 999"/><path d="M200 403.5h14" stroke-dasharray="1 12 1 999"/><path d="M207 404.5h1" stroke-dasharray="1 999"/><path d="M186 405.5h40" stroke-dasharray="1 5 1 32 1 999"/><path d="M209 406.5h1" stroke-dasharray="1 999"/><path d="M204 407.5h1" stroke-dasharray="1 999"/><path d="M119 408.5h89" stroke-dasharray="1 80 1 4 1 1 1 999"/><path d="M163 409.5h1" stroke-dasharray="1 999"/><path d="M215 410.5h1" stroke-dasharray="1 999"/><path d="M228 411.5h1" stroke-dasharray="1 999"/><path d="M146 412.5h71" stroke-dasharray="1 30 1 38 1 999"/><path d="M105 413.5h111" stroke-dasharray="1 20 1 2 1 85 1 999"/><path d="M124 414.5h114" stroke-dasharray="1 2 1 57 1 48 1 2 1 999"/><path d="M112 415.5h10" stroke-dasharray="1 8 1 999"/><path d="M112 416.5h1" stroke-dasharray="1 999"/><path d="M110 417.5h2" stroke-dasharray="2 999"/><path d="M105 418.5h127" stroke-dasharray="1 116 1 6 1 1 1 999"/><path d="M227 421.5h1" stroke-dasharray="1 999"/><path d="M221 424.5h6" stroke-dasharray="1 4 1 999"/><path d="M222 425.5h1" stroke-dasharray="1 999"/><path d="M226 426.5h1" stroke-dasharray="1 999"/><path d="M230 435.5h6" stroke-dasharray="1 4 1 999"/><path d="M231 436.5h1" stroke-dasharray="1 999"/><path d="M234 438.5h1" stroke-dasharray="1 999"/><path d="M234 439.5h1" stroke-dasharray="1 999"/><path d="M247 447.5h1" stroke-dasharray="1 999"/><path d="M236 448.5h1" stroke-dasharray="1 999"/><path d="M238 449.5h17" stroke-dasharray="1 15 1 999"/><path d="M234 450.5h3" stroke-dasharray="1 1 1 999"/><path d="M244 452.5h1" stroke-dasharray="1 999"/><path d="M236 454.5h1" stroke-dasharray="1 999"/><path d="M234 455.5h1" stroke-dasharray="1 999"/><path d="M237 456.5h1" stroke-dasharray="1 999"/><path d="M239 460.5h1" stroke-dasharray="1 999"/><path d="M233 462.5h1" stroke-dasharray="1 999"/><path d="M252 464.5h1" stroke-dasharray="1 999"/><path d="M238 467.5h1" stroke-dasharray="1 999"/><path d="M232 469.5h1" stroke-dasharray="1 999"/><path d="M232 470.5h34" stroke-dasharray="1 32 1 999"/><path d="M231 471.5h1" stroke-dasharray="1 999"/><path d="M231 473.5h1" stroke-dasharray="1 999"/><path d="M234 475.5h13" stroke-dasharray="1 11 1 999"/><path d="M106 478.5h2" stroke-dasharray="2 999"/><path d="M257 481.5h1" stroke-dasharray="1 999"/><path d="M106 482.5h128" stroke-dasharray="1 126 1 999"/><path d="M107 483.5h8" stroke-dasharray="1 6 1 999"/><path d="M232 484.5h1" stroke-dasharray="1 999"/><path d="M126 485.5h1" stroke-dasharray="1 999"/></g><g stroke="#000"><path d="M203 412.5h1" stroke-dasharray="1 999"/><path d="M206 413.5h1" stroke-dasharray="1 999"/><path d="M133 414.5h68" stroke-dasharray="2 5 1 8 1 3 1 9 1 1 1 30 1 3 1 999"/><path d="M123 415.5h55" stroke-dasharray="1 13 1 16 1 1 1 2 1 13 1 3 1 999"/><path d="M128 416.5h83" stroke-dasharray="1 4 2 3 1 2 1 10 1 5 2 1 1 18 1 9 1 19 1 999"/><path d="M126 417.5h85" stroke-dasharray="1 3 1 9 2 24 1 9 1 6 2 2 1 7 1 8 1 5 1 999"/><path d="M118 418.5h95" stroke-dasharray="1 2 1 5 1 2 1 2 1 45 1 3 1 2 1 4 1 14 1 5 1 999"/><path d="M117 419.5h77" stroke-dasharray="1 65 1 5 2 2 1 999"/><path d="M108 420.5h95" stroke-dasharray="2 9 1 1 2 70 1 8 1 999"/><path d="M203 421.5h9" stroke-dasharray="1 5 1 1 1 999"/><path d="M106 422.5h108" stroke-dasharray="1 5 1 91 1 2 1 4 2 999"/><path d="M113 423.5h105" stroke-dasharray="1 98 1 2 1 1 1 999"/><path d="M105 424.5h110" stroke-dasharray="1 105 1 2 1 999"/><path d="M108 425.5h1" stroke-dasharray="1 999"/><path d="M105 426.5h4" stroke-dasharray="1 1 2 999"/><path d="M107 427.5h109" stroke-dasharray="1 106 2 999"/><path d="M103 428.5h116" stroke-dasharray="2 113 1 999"/><path d="M216 429.5h7" stroke-dasharray="2 4 1 999"/><path d="M102 431.5h118" stroke-dasharray="1 116 1 999"/><path d="M221 432.5h5" stroke-dasharray="1 3 1 999"/><path d="M224 433.5h1" stroke-dasharray="1 999"/><path d="M102 434.5h122" stroke-dasharray="1 120 1 999"/><path d="M102 435.5h1" stroke-dasharray="1 999"/><path d="M226 438.5h6" stroke-dasharray="2 3 1 999"/><path d="M228 439.5h1" stroke-dasharray="1 999"/><path d="M233 440.5h1" stroke-dasharray="1 999"/><path d="M228 441.5h1" stroke-dasharray="1 999"/><path d="M103 442.5h126" stroke-dasharray="1 124 1 999"/><path d="M103 443.5h127" stroke-dasharray="2 122 1 1 1 999"/><path d="M103 444.5h129" stroke-dasharray="1 123 1 3 1 999"/><path d="M102 445.5h130" stroke-dasharray="1 125 1 1 2 999"/><path d="M103 447.5h130" stroke-dasharray="1 128 1 999"/><path d="M106 448.5h121" stroke-dasharray="2 118 1 999"/><path d="M102 449.5h4" stroke-dasharray="1 1 2 999"/><path d="M102 451.5h131" stroke-dasharray="1 121 2 6 1 999"/><path d="M107 452.5h119" stroke-dasharray="2 116 1 999"/><path d="M102 453.5h7" stroke-dasharray="1 5 1 999"/><path d="M103 454.5h126" stroke-dasharray="1 124 1 999"/><path d="M104 455.5h121" stroke-dasharray="1 4 1 111 1 2 1 999"/><path d="M105 456.5h127" stroke-dasharray="1 1 1 114 1 4 2 2 1 999"/><path d="M103 457.5h130" stroke-dasharray="1 4 2 110 1 4 1 6 1 999"/><path d="M107 458.5h122" stroke-dasharray="1 2 2 112 1 3 1 999"/><path d="M103 459.5h119" stroke-dasharray="2 116 1 999"/><path d="M104 460.5h121" stroke-dasharray="1 6 1 107 1 4 1 999"/><path d="M102 461.5h121" stroke-dasharray="2 6 1 111 1 999"/><path d="M103 462.5h130" stroke-dasharray="1 116 1 6 1 4 1 999"/><path d="M102 463.5h123" stroke-dasharray="1 1 1 1 1 111 1 1 1 3 1 999"/><path d="M102 464.5h130" stroke-dasharray="1 2 1 112 1 2 1 3 1 5 1 999"/><path d="M106 465.5h123" stroke-dasharray="2 1 1 108 2 8 1 999"/><path d="M103 466.5h120" stroke-dasharray="1 2 2 1 1 109 1 2 1 999"/><path d="M105 467.5h122" stroke-dasharray="1 5 1 113 2 999"/><path d="M104 468.5h118" stroke-dasharray="1 6 1 109 1 999"/><path d="M107 469.5h114" stroke-dasharray="1 2 1 105 1 2 2 999"/><path d="M103 470.5h117" stroke-dasharray="1 8 1 104 1 1 1 999"/><path d="M104 471.5h115" stroke-dasharray="1 5 1 4 2 101 1 999"/><path d="M214 472.5h7" stroke-dasharray="1 5 1 999"/><path d="M105 473.5h122" stroke-dasharray="1 4 1 5 1 98 1 4 1 5 1 999"/><path d="M114 474.5h110" stroke-dasharray="1 98 2 8 1 999"/><path d="M122 475.5h99" stroke-dasharray="3 1 1 90 1 2 1 999"/><path d="M110 476.5h112" stroke-dasharray="1 16 1 90 1 2 1 999"/><path d="M112 477.5h113" stroke-dasharray="1 7 1 1 1 5 1 83 3 4 1 4 1 999"/><path d="M116 478.5h106" stroke-dasharray="1 3 1 91 1 7 2 999"/><path d="M128 479.5h85" stroke-dasharray="1 2 1 1 1 2 1 74 2 999"/><path d="M121 480.5h103" stroke-dasharray="1 7 3 1 3 80 1 2 1 2 2 999"/><path d="M127 481.5h98" stroke-dasharray="1 83 1 4 1 7 1 999"/><path d="M127 482.5h95" stroke-dasharray="1 89 1 3 1 999"/><path d="M137 483.5h82" stroke-dasharray="1 5 1 73 2 999"/><path d="M138 484.5h81" stroke-dasharray="1 1 1 3 1 69 1 2 2 999"/><path d="M140 485.5h79" stroke-dasharray="1 2 1 74 1 999"/></g><g stroke="#000"><path d="M147 417.5h14" stroke-dasharray="2 1 1 6 1 2 1 999"/><path d="M142 418.5h32" stroke-dasharray="1 2 1 1 1 1 5 4 2 1 1 4 3 3 2 999"/><path d="M129 419.5h54" stroke-dasharray="3 9 2 1 1 1 1 1 1 1 4 2 1 3 1 1 1 3 1 4 1 10 1 999"/><path d="M127 420.5h57" stroke-dasharray="1 4 1 1 1 1 1 1 1 3 1 25 1 2 1 1 2 1 1 1 2 2 2 999"/><path d="M123 421.5h68" stroke-dasharray="1 7 1 1 3 42 1 1 4 1 1 3 2 999"/><path d="M121 422.5h80" stroke-dasharray="1 3 1 2 3 54 4 1 1 2 1 5 2 999"/><path d="M115 423.5h84" stroke-dasharray="1 9 1 1 1 61 2 1 3 3 1 999"/><path d="M113 424.5h93" stroke-dasharray="4 1 2 1 1 2 1 70 1 3 2 1 2 1 1 999"/><path d="M113 425.5h91" stroke-dasharray="2 3 1 1 1 1 1 76 3 1 1 999"/><path d="M115 426.5h96" stroke-dasharray="1 1 3 81 3 5 2 999"/><path d="M108 427.5h102" stroke-dasharray="2 3 1 3 2 86 1 1 1 1 1 999"/><path d="M111 428.5h104" stroke-dasharray="3 2 1 91 1 1 2 2 1 999"/><path d="M109 429.5h107" stroke-dasharray="2 2 1 1 1 92 2 2 4 999"/><path d="M106 430.5h111" stroke-dasharray="1 6 2 95 2 4 1 999"/><path d="M106 431.5h109" stroke-dasharray="1 5 2 100 1 999"/><path d="M108 432.5h110" stroke-dasharray="1 105 1 2 1 999"/><path d="M110 433.5h106" stroke-dasharray="1 1 1 102 1 999"/><path d="M104 434.5h118" stroke-dasharray="1 3 1 1 1 1 1 105 1 1 2 999"/><path d="M103 435.5h121" stroke-dasharray="4 2 1 107 1 3 1 1 1 999"/><path d="M103 436.5h119" stroke-dasharray="2 3 3 106 1 1 1 1 1 999"/><path d="M106 437.5h119" stroke-dasharray="1 1 1 1 1 1 1 106 3 2 1 999"/><path d="M109 438.5h116" stroke-dasharray="1 1 1 108 1 1 1 1 1 999"/><path d="M112 439.5h112" stroke-dasharray="1 107 2 1 1 999"/><path d="M105 440.5h121" stroke-dasharray="1 2 1 1 3 107 3 2 1 999"/><path d="M105 441.5h120" stroke-dasharray="1 1 1 2 1 2 2 105 2 2 1 999"/><path d="M111 442.5h116" stroke-dasharray="1 1 1 107 3 1 2 999"/><path d="M105 443.5h120" stroke-dasharray="1 4 1 3 2 104 2 2 1 999"/><path d="M109 444.5h117" stroke-dasharray="1 1 1 1 1 1 2 104 1 3 1 999"/><path d="M108 445.5h114" stroke-dasharray="1 1 3 1 1 2 1 1 1 101 1 999"/><path d="M107 446.5h118" stroke-dasharray="1 1 1 5 1 1 1 2 1 99 3 1 1 999"/><path d="M107 447.5h118" stroke-dasharray="1 1 1 1 1 4 2 1 4 95 1 2 4 999"/><path d="M114 448.5h108" stroke-dasharray="1 2 4 2 2 96 1 999"/><path d="M110 449.5h114" stroke-dasharray="3 2 2 1 4 1 4 90 3 3 1 999"/><path d="M113 450.5h108" stroke-dasharray="2 3 1 6 1 1 2 90 2 999"/><path d="M109 451.5h113" stroke-dasharray="1 2 2 1 2 1 2 3 4 1 1 86 2 4 1 999"/><path d="M112 452.5h111" stroke-dasharray="1 2 1 8 1 4 3 1 1 81 2 5 1 999"/><path d="M113 453.5h107" stroke-dasharray="1 3 1 3 1 2 1 2 1 4 3 77 2 5 1 999"/><path d="M116 454.5h104" stroke-dasharray="2 5 1 2 1 2 2 1 2 1 2 74 2 1 1 1 1 2 1 999"/><path d="M116 455.5h105" stroke-dasharray="1 1 1 3 4 2 1 1 3 2 3 70 3 1 2 2 1 3 1 999"/><path d="M116 456.5h98" stroke-dasharray="1 4 2 4 1 7 2 73 1 1 2 999"/><path d="M114 457.5h106" stroke-dasharray="1 8 1 8 1 72 2 1 1 1 1 1 2 2 1 2 1 999"/><path d="M116 458.5h97" stroke-dasharray="1 2 1 1 1 5 3 2 2 71 3 1 4 999"/><path d="M117 459.5h102" stroke-dasharray="1 5 1 1 2 6 1 1 4 65 1 3 1 3 1 1 1 3 1 999"/><path d="M114 460.5h104" stroke-dasharray="1 3 1 1 5 3 1 2 1 3 1 2 1 65 3 3 1 6 1 999"/><path d="M115 461.5h100" stroke-dasharray="1 12 1 1 2 4 2 66 1 3 3 2 2 999"/><path d="M118 462.5h101" stroke-dasharray="1 1 1 2 1 3 1 1 1 1 1 71 1 1 3 5 1 4 1 999"/><path d="M124 463.5h94" stroke-dasharray="1 3 1 4 2 1 2 64 1 3 2 4 2 1 1 1 1 999"/><path d="M112 464.5h106" stroke-dasharray="3 3 1 2 2 1 5 1 1 1 1 69 1 1 1 3 2 2 1 1 1 2 1 999"/><path d="M112 465.5h104" stroke-dasharray="1 2 2 2 1 1 2 1 1 4 1 2 1 1 3 67 2 1 1 2 6 999"/><path d="M112 466.5h104" stroke-dasharray="1 3 3 4 1 2 2 6 2 1 1 65 1 2 1 1 1 1 1 1 1 2 1 999"/><path d="M112 467.5h105" stroke-dasharray="1 9 2 3 1 2 2 4 2 65 2 3 3 5 1 999"/><path d="M114 468.5h103" stroke-dasharray="5 1 2 3 1 2 1 2 1 1 3 1 1 63 3 1 1 2 2 2 2 2 1 999"/><path d="M114 469.5h97" stroke-dasharray="2 4 1 1 1 1 1 6 1 3 2 65 1 1 2 4 1 999"/><path d="M121 470.5h93" stroke-dasharray="3 2 1 5 5 63 2 1 1 9 1 999"/><path d="M120 471.5h94" stroke-dasharray="2 3 1 3 2 6 1 61 2 1 1 2 1 2 2 2 2 999"/><path d="M120 472.5h94" stroke-dasharray="1 5 1 2 2 3 2 1 1 61 1 3 1 2 1 3 4 999"/><path d="M122 473.5h91" stroke-dasharray="1 3 1 4 2 1 1 1 1 1 1 60 1 1 1 3 2 2 2 1 1 999"/><path d="M132 474.5h79" stroke-dasharray="3 1 2 59 6 7 1 999"/><path d="M130 475.5h82" stroke-dasharray="3 2 1 1 3 57 1 7 1 3 1 1 1 999"/><path d="M129 476.5h83" stroke-dasharray="1 1 1 8 1 55 2 1 3 9 1 999"/><path d="M133 477.5h76" stroke-dasharray="2 3 3 1 1 55 1 1 1 7 1 999"/><path d="M139 478.5h71" stroke-dasharray="1 2 1 54 1 2 1 2 2 4 1 999"/><path d="M139 479.5h64" stroke-dasharray="3 3 1 51 2 1 1 1 1 999"/><path d="M141 480.5h70" stroke-dasharray="1 2 1 2 1 48 1 3 2 3 1 1 1 2 1 999"/><path d="M142 481.5h66" stroke-dasharray="1 1 1 1 4 43 1 1 2 2 1 4 1 2 1 999"/><path d="M144 482.5h68" stroke-dasharray="2 1 1 3 1 40 1 2 3 2 1 1 1 1 1 3 1 1 2 999"/><path d="M145 483.5h60" stroke-dasharray="2 3 2 40 1 5 3 3 1 999"/><path d="M156 484.5h55" stroke-dasharray="2 31 2 1 1 2 1 2 1 1 2 1 3 4 1 999"/><path d="M152 485.5h52" stroke-dasharray="1 2 1 2 1 3 1 21 2 1 2 6 2 1 2 3 1 999"/></g><g stroke="#000"><path d="M146 420.5h21" stroke-dasharray="1 4 2 1 1 1 3 2 3 1 2 999"/><path d="M137 421.5h34" stroke-dasharray="2 3 1 2 2 1 1 1 1 1 1 1 1 1 1 2 1 3 3 2 1 1 1 999"/><path d="M134 422.5h50" stroke-dasharray="4 1 3 1 2 1 2 2 3 1 2 2 8 1 6 1 5 3 2 999"/><path d="M128 423.5h59" stroke-dasharray="2 1 4 2 5 1 19 1 4 1 1 2 5 1 1 1 1 1 2 2 2 999"/><path d="M125 424.5h69" stroke-dasharray="1 2 3 4 2 2 7 2 4 2 5 1 4 1 8 1 1 1 3 2 1 2 2 1 3 1 3 999"/><path d="M123 425.5h72" stroke-dasharray="1 1 1 1 1 1 2 1 1 1 12 1 13 1 23 3 8 999"/><path d="M120 426.5h81" stroke-dasharray="4 1 1 1 2 1 3 1 12 1 5 1 1 1 23 1 11 1 6 1 3 999"/><path d="M119 427.5h85" stroke-dasharray="1 1 6 1 5 1 3 1 11 1 39 1 1 1 1 1 4 1 5 999"/><path d="M117 428.5h89" stroke-dasharray="1 3 4 1 6 1 50 1 3 1 3 1 8 1 1 2 2 999"/><path d="M116 429.5h91" stroke-dasharray="5 1 1 2 5 1 18 1 11 1 10 1 11 1 4 1 6 2 6 2 1 999"/><path d="M115 430.5h95" stroke-dasharray="5 1 1 1 14 1 17 1 16 1 18 1 5 1 6 1 3 1 1 999"/><path d="M114 431.5h97" stroke-dasharray="2 2 2 1 3 2 9 1 5 1 65 1 1 1 1 999"/><path d="M114 432.5h98" stroke-dasharray="3 1 2 1 1 1 3 1 6 1 21 1 3 1 21 1 7 1 4 1 15 1 1 999"/><path d="M113 433.5h101" stroke-dasharray="2 1 9 1 5 1 71 1 1 3 1 1 2 1 1 999"/><path d="M113 434.5h103" stroke-dasharray="3 1 8 1 79 1 10 999"/><path d="M114 435.5h102" stroke-dasharray="1 3 9 1 36 1 8 1 21 1 3 1 1 1 2 1 5 1 5 999"/><path d="M113 436.5h104" stroke-dasharray="1 1 2 1 4 2 1 1 11 1 72 1 1 1 1 2 1 999"/><path d="M116 437.5h101" stroke-dasharray="4 1 5 1 20 1 19 1 4 1 40 1 3 999"/><path d="M113 438.5h104" stroke-dasharray="3 1 3 1 82 1 1 1 3 1 7 999"/><path d="M116 439.5h103" stroke-dasharray="4 1 2 1 1 1 8 1 26 1 3 1 39 1 8 1 4 999"/><path d="M115 440.5h103" stroke-dasharray="1 2 2 1 8 1 18 1 56 2 11 999"/><path d="M115 441.5h105" stroke-dasharray="3 1 5 1 90 2 1 1 1 999"/><path d="M116 442.5h104" stroke-dasharray="1 2 9 1 35 1 55 999"/><path d="M118 443.5h101" stroke-dasharray="4 1 15 1 52 1 17 1 4 1 4 999"/><path d="M118 444.5h102" stroke-dasharray="1 1 2 1 2 1 3 1 24 1 56 1 3 1 2 1 1 999"/><path d="M120 445.5h97" stroke-dasharray="2 1 75 1 6 1 4 1 4 1 1 999"/><path d="M121 446.5h97" stroke-dasharray="1 1 6 1 2 1 4 1 9 1 53 1 14 1 1 999"/><path d="M124 447.5h92" stroke-dasharray="2 1 9 1 1 1 60 1 8 3 3 1 1 999"/><path d="M127 448.5h90" stroke-dasharray="4 1 2 1 1 1 12 1 52 1 8 1 2 2 1 999"/><path d="M127 449.5h88" stroke-dasharray="1 2 4 2 7 1 17 1 36 1 5 1 10 999"/><path d="M129 450.5h87" stroke-dasharray="1 1 1 1 1 1 10 1 68 1 1 999"/><path d="M134 451.5h80" stroke-dasharray="1 1 1 2 7 1 46 1 4 1 9 3 1 1 1 999"/><path d="M134 452.5h78" stroke-dasharray="14 1 30 1 10 2 12 1 1 3 3 999"/><path d="M138 453.5h74" stroke-dasharray="1 1 7 1 41 1 5 1 1 2 6 1 6 999"/><path d="M137 454.5h73" stroke-dasharray="1 1 5 1 11 1 37 1 5 2 6 1 1 999"/><path d="M138 455.5h70" stroke-dasharray="1 1 4 1 6 1 6 1 36 2 1 1 6 1 2 999"/><path d="M139 456.5h68" stroke-dasharray="1 1 1 1 1 1 2 1 16 1 21 1 3 1 6 1 9 999"/><path d="M139 457.5h64" stroke-dasharray="4 1 5 1 3 1 7 1 16 1 19 1 2 1 1 999"/><path d="M139 458.5h65" stroke-dasharray="2 2 6 1 2 1 5 1 11 2 13 1 14 2 2 999"/><path d="M139 459.5h64" stroke-dasharray="40 1 6 1 5 1 6 1 1 1 1 999"/><path d="M140 460.5h63" stroke-dasharray="1 1 1 1 4 1 17 1 29 2 3 1 1 999"/><path d="M138 461.5h65" stroke-dasharray="1 1 1 1 15 1 18 1 17 1 1 1 6 999"/><path d="M138 462.5h61" stroke-dasharray="1 1 1 1 8 2 1 1 13 1 15 1 15 999"/><path d="M140 463.5h62" stroke-dasharray="3 1 1 1 5 1 9 1 4 1 31 1 3 999"/><path d="M138 464.5h64" stroke-dasharray="2 1 2 1 1 1 47 1 1 1 3 1 2 999"/><path d="M138 465.5h64" stroke-dasharray="50 1 5 1 1 1 1 1 3 999"/><path d="M139 466.5h63" stroke-dasharray="12 1 12 1 7 1 9 1 11 1 7 999"/><path d="M138 467.5h63" stroke-dasharray="1 1 3 1 9 1 4 1 9 1 2 2 1 1 18 1 1 1 1 1 1 1 1 999"/><path d="M138 468.5h63" stroke-dasharray="6 1 20 1 23 1 5 4 2 999"/><path d="M139 469.5h62" stroke-dasharray="26 1 9 1 9 2 8 2 1 1 2 999"/><path d="M137 470.5h63" stroke-dasharray="1 1 2 1 2 3 27 1 7 1 7 1 7 1 1 999"/><path d="M139 471.5h58" stroke-dasharray="4 1 29 1 23 999"/><path d="M138 472.5h60" stroke-dasharray="3 1 12 1 18 1 8 1 8 1 1 2 3 999"/><path d="M139 473.5h59" stroke-dasharray="3 1 3 1 1 1 11 1 11 1 4 1 7 1 6 1 3 1 1 999"/><path d="M142 474.5h52" stroke-dasharray="44 1 4 2 1 999"/><path d="M141 475.5h56" stroke-dasharray="1 2 45 1 2 1 4 999"/><path d="M142 476.5h54" stroke-dasharray="1 6 1 2 35 1 4 1 1 1 1 999"/><path d="M143 477.5h52" stroke-dasharray="2 1 9 1 4 1 10 1 4 1 7 1 2 2 6 999"/><path d="M146 478.5h48" stroke-dasharray="1 2 2 1 6 1 1 1 23 1 1 1 7 999"/><path d="M146 479.5h47" stroke-dasharray="12 2 6 1 22 1 3 999"/><path d="M148 480.5h46" stroke-dasharray="2 1 2 2 7 1 5 1 2 1 6 2 4 1 2 2 2 1 2 999"/><path d="M151 481.5h42" stroke-dasharray="7 1 11 2 2 1 6 1 3 2 2 1 1 1 1 999"/><path d="M155 482.5h37" stroke-dasharray="1 1 6 1 3 2 1 1 2 1 3 1 8 2 4 999"/><path d="M155 483.5h35" stroke-dasharray="1 2 2 1 1 1 1 1 1 1 10 2 1 1 1 1 2 1 1 1 2 999"/><path d="M158 484.5h31" stroke-dasharray="2 1 8 1 8 1 1 1 1 1 2 2 2 999"/><path d="M164 485.5h20" stroke-dasharray="1 1 3 1 1 1 1 1 5 2 1 1 1 999"/></g></g>
<g stroke-width="1" fill="none" shape-rendering="crispEdges" filter="url(#soft)"><g stroke="#000"><path d="M496 312.5h1" stroke-dasharray="1 999"/><path d="M465 316.5h1" stroke-dasharray="1 999"/><path d="M458 318.5h36" stroke-dasharray="1 25 1 8 1 999"/><path d="M493 321.5h1" stroke-dasharray="1 999"/><path d="M424 322.5h1" stroke-dasharray="1 999"/><path d="M506 323.5h1" stroke-dasharray="1 999"/><path d="M442 326.5h46" stroke-dasharray="1 36 1 7 1 999"/><path d="M477 328.5h26" stroke-dasharray="2 23 1 999"/><path d="M495 330.5h1" stroke-dasharray="1 999"/><path d="M450 331.5h1" stroke-dasharray="1 999"/><path d="M477 332.5h14" stroke-dasharray="1 11 2 999"/><path d="M490 333.5h1" stroke-dasharray="1 999"/><path d="M463 335.5h45" stroke-dasharray="1 16 1 11 1 14 1 999"/><path d="M481 336.5h31" stroke-dasharray="1 27 1 1 1 999"/><path d="M479 337.5h10" stroke-dasharray="1 8 1 999"/><path d="M472 338.5h24" stroke-dasharray="1 6 1 4 1 9 2 999"/><path d="M456 339.5h56" stroke-dasharray="1 16 1 4 1 9 1 6 1 6 1 8 1 999"/><path d="M506 341.5h1" stroke-dasharray="1 999"/><path d="M441 342.5h71" stroke-dasharray="1 53 1 15 1 999"/><path d="M439 343.5h62" stroke-dasharray="1 47 1 4 1 4 1 2 1 999"/><path d="M468 344.5h45" stroke-dasharray="1 3 1 24 1 14 1 999"/><path d="M353 345.5h144" stroke-dasharray="1 120 1 3 1 17 1 999"/><path d="M465 346.5h30" stroke-dasharray="1 1 1 11 1 10 1 3 1 999"/><path d="M478 347.5h15" stroke-dasharray="2 12 1 999"/><path d="M484 348.5h23" stroke-dasharray="2 12 1 5 1 1 1 999"/><path d="M472 349.5h30" stroke-dasharray="2 5 1 3 1 17 1 999"/><path d="M458 350.5h54" stroke-dasharray="1 9 1 1 1 40 1 999"/><path d="M483 351.5h1" stroke-dasharray="1 999"/><path d="M439 352.5h50" stroke-dasharray="1 39 1 3 1 4 1 999"/><path d="M462 354.5h33" stroke-dasharray="1 18 1 12 1 999"/><path d="M458 355.5h48" stroke-dasharray="1 13 2 16 1 11 1 2 1 999"/><path d="M472 356.5h38" stroke-dasharray="1 36 1 999"/><path d="M436 357.5h51" stroke-dasharray="1 19 1 11 1 17 1 999"/><path d="M437 358.5h46" stroke-dasharray="1 44 1 999"/><path d="M482 359.5h1" stroke-dasharray="1 999"/><path d="M466 360.5h1" stroke-dasharray="1 999"/><path d="M445 362.5h67" stroke-dasharray="1 18 1 18 1 27 1 999"/><path d="M468 363.5h42" stroke-dasharray="1 40 1 999"/><path d="M500 364.5h1" stroke-dasharray="1 999"/><path d="M481 365.5h1" stroke-dasharray="1 999"/><path d="M475 366.5h10" stroke-dasharray="1 8 1 999"/><path d="M479 367.5h1" stroke-dasharray="1 999"/><path d="M447 368.5h7" stroke-dasharray="1 5 1 999"/><path d="M490 369.5h1" stroke-dasharray="1 999"/><path d="M455 370.5h48" stroke-dasharray="1 46 1 999"/><path d="M487 371.5h12" stroke-dasharray="1 10 1 999"/><path d="M454 372.5h8" stroke-dasharray="1 6 1 999"/><path d="M445 375.5h1" stroke-dasharray="1 999"/><path d="M442 376.5h51" stroke-dasharray="1 49 1 999"/><path d="M424 378.5h1" stroke-dasharray="1 999"/><path d="M493 379.5h1" stroke-dasharray="1 999"/><path d="M437 380.5h1" stroke-dasharray="1 999"/><path d="M465 381.5h1" stroke-dasharray="1 999"/><path d="M428 382.5h1" stroke-dasharray="1 999"/><path d="M419 383.5h20" stroke-dasharray="1 18 1 999"/><path d="M437 385.5h1" stroke-dasharray="1 999"/><path d="M405 387.5h60" stroke-dasharray="1 18 1 2 1 28 1 7 1 999"/><path d="M415 389.5h45" stroke-dasharray="1 35 3 4 2 999"/><path d="M443 391.5h27" stroke-dasharray="1 25 1 999"/><path d="M433 392.5h10" stroke-dasharray="1 8 1 999"/><path d="M404 394.5h44" stroke-dasharray="1 31 1 10 1 999"/><path d="M405 395.5h36" stroke-dasharray="1 34 1 999"/><path d="M457 396.5h1" stroke-dasharray="1 999"/><path d="M353 397.5h1" stroke-dasharray="1 999"/><path d="M443 398.5h12" stroke-dasharray="1 10 1 999"/><path d="M413 399.5h31" stroke-dasharray="1 29 1 999"/><path d="M459 400.5h1" stroke-dasharray="1 999"/><path d="M392 402.5h44" stroke-dasharray="1 42 1 999"/><path d="M453 403.5h1" stroke-dasharray="1 999"/><path d="M416 404.5h40" stroke-dasharray="1 38 1 999"/><path d="M412 405.5h1" stroke-dasharray="1 999"/><path d="M410 406.5h31" stroke-dasharray="1 29 1 999"/><path d="M401 407.5h77" stroke-dasharray="1 75 1 999"/><path d="M405 408.5h43" stroke-dasharray="1 7 1 12 1 20 1 999"/><path d="M372 409.5h79" stroke-dasharray="1 14 1 60 1 1 1 999"/><path d="M360 410.5h147" stroke-dasharray="1 5 1 31 1 107 1 999"/><path d="M353 411.5h75" stroke-dasharray="1 53 1 19 1 999"/><path d="M448 412.5h2" stroke-dasharray="2 999"/><path d="M370 413.5h45" stroke-dasharray="1 5 1 1 1 35 1 999"/><path d="M349 414.5h108" stroke-dasharray="1 106 1 999"/><path d="M336 416.5h140" stroke-dasharray="1 118 1 19 1 999"/><path d="M456 417.5h1" stroke-dasharray="1 999"/><path d="M460 419.5h1" stroke-dasharray="1 999"/><path d="M456 421.5h1" stroke-dasharray="1 999"/><path d="M468 428.5h3" stroke-dasharray="1 1 1 999"/><path d="M468 429.5h1" stroke-dasharray="1 999"/><path d="M478 431.5h1" stroke-dasharray="1 999"/><path d="M464 433.5h1" stroke-dasharray="1 999"/><path d="M465 436.5h1" stroke-dasharray="1 999"/><path d="M470 439.5h12" stroke-dasharray="1 10 1 999"/><path d="M472 440.5h1" stroke-dasharray="1 999"/><path d="M471 441.5h1" stroke-dasharray="1 999"/><path d="M467 443.5h1" stroke-dasharray="1 999"/><path d="M474 444.5h1" stroke-dasharray="1 999"/><path d="M468 445.5h2" stroke-dasharray="2 999"/><path d="M468 447.5h1" stroke-dasharray="1 999"/><path d="M471 448.5h1" stroke-dasharray="1 999"/><path d="M478 451.5h9" stroke-dasharray="1 7 1 999"/><path d="M472 454.5h10" stroke-dasharray="1 8 1 999"/><path d="M469 456.5h1" stroke-dasharray="1 999"/><path d="M474 459.5h1" stroke-dasharray="1 999"/><path d="M475 460.5h1" stroke-dasharray="1 999"/><path d="M471 463.5h23" stroke-dasharray="1 21 1 999"/><path d="M476 465.5h1" stroke-dasharray="1 999"/><path d="M473 466.5h1" stroke-dasharray="1 999"/><path d="M469 467.5h9" stroke-dasharray="1 7 1 999"/><path d="M470 468.5h1" stroke-dasharray="1 999"/><path d="M475 469.5h1" stroke-dasharray="1 999"/><path d="M479 470.5h1" stroke-dasharray="1 999"/><path d="M473 471.5h1" stroke-dasharray="1 999"/><path d="M473 474.5h1" stroke-dasharray="1 999"/><path d="M477 475.5h3" stroke-dasharray="1 1 1 999"/><path d="M487 480.5h6" stroke-dasharray="1 4 1 999"/><path d="M472 481.5h19" stroke-dasharray="1 17 1 999"/><path d="M466 482.5h4" stroke-dasharray="1 2 1 999"/></g><g stroke="#000"><path d="M432 406.5h1" stroke-dasharray="1 999"/><path d="M431 407.5h3" stroke-dasharray="1 1 1 999"/><path d="M437 408.5h1" stroke-dasharray="1 999"/><path d="M431 409.5h11" stroke-dasharray="1 5 1 3 1 999"/><path d="M435 410.5h10" stroke-dasharray="1 8 1 999"/><path d="M435 411.5h5" stroke-dasharray="1 3 1 999"/><path d="M431 412.5h15" stroke-dasharray="1 2 1 10 1 999"/><path d="M435 413.5h1" stroke-dasharray="1 999"/><path d="M352 414.5h78" stroke-dasharray="1 3 1 13 1 9 1 8 1 5 3 4 1 12 2 3 1 3 1 2 1 1 1 999"/><path d="M350 415.5h86" stroke-dasharray="1 8 1 3 1 4 1 2 1 1 1 2 1 5 1 2 1 1 1 8 1 3 1 7 1 1 3 8 1 13 1 999"/><path d="M349 416.5h93" stroke-dasharray="1 1 1 7 1 12 1 4 1 3 2 3 1 6 1 8 1 2 1 6 3 5 1 6 1 2 1 3 2 5 1 999"/><path d="M349 417.5h103" stroke-dasharray="2 5 1 13 1 3 1 28 2 4 1 1 1 2 1 9 1 8 1 1 1 11 1 2 2 999"/><path d="M346 418.5h101" stroke-dasharray="1 15 1 7 1 3 1 46 1 2 1 4 2 5 1 2 2 4 2 999"/><path d="M348 419.5h98" stroke-dasharray="1 14 1 6 1 48 1 7 1 1 1 1 1 3 1 5 1 1 1 1 1 999"/><path d="M338 420.5h117" stroke-dasharray="2 19 1 3 1 1 1 63 1 5 3 6 2 4 1 3 1 999"/><path d="M353 421.5h100" stroke-dasharray="2 2 1 77 1 2 1 5 1 1 1 5 1 999"/><path d="M338 422.5h110" stroke-dasharray="1 7 1 1 1 8 1 3 1 72 2 4 1 6 1 999"/><path d="M340 423.5h102" stroke-dasharray="1 14 1 3 1 76 1 1 1 2 1 999"/><path d="M348 424.5h107" stroke-dasharray="3 6 1 82 3 3 1 2 1 1 1 2 1 999"/><path d="M352 425.5h101" stroke-dasharray="1 96 1 2 1 999"/><path d="M340 426.5h113" stroke-dasharray="1 4 2 3 1 98 1 2 1 999"/><path d="M344 427.5h100" stroke-dasharray="1 6 2 90 1 999"/><path d="M342 428.5h109" stroke-dasharray="2 2 1 103 1 999"/><path d="M336 429.5h119" stroke-dasharray="1 7 1 1 1 101 2 1 1 2 1 999"/><path d="M339 430.5h115" stroke-dasharray="3 2 3 106 1 999"/><path d="M336 431.5h123" stroke-dasharray="1 5 1 3 1 111 1 999"/><path d="M343 432.5h111" stroke-dasharray="2 104 1 3 1 999"/><path d="M344 433.5h119" stroke-dasharray="1 104 1 2 1 9 1 999"/><path d="M336 434.5h126" stroke-dasharray="1 5 2 107 1 9 1 999"/><path d="M336 435.5h123" stroke-dasharray="3 2 1 107 2 3 1 3 1 999"/><path d="M339 436.5h126" stroke-dasharray="3 111 1 10 1 999"/><path d="M336 437.5h116" stroke-dasharray="1 4 1 109 1 999"/><path d="M336 438.5h127" stroke-dasharray="2 2 1 121 1 999"/><path d="M452 439.5h7" stroke-dasharray="1 5 1 999"/><path d="M337 440.5h124" stroke-dasharray="1 115 1 6 1 999"/><path d="M338 442.5h125" stroke-dasharray="1 122 2 999"/><path d="M336 444.5h127" stroke-dasharray="1 121 1 3 1 999"/><path d="M460 446.5h1" stroke-dasharray="1 999"/><path d="M454 447.5h13" stroke-dasharray="1 5 1 5 1 999"/><path d="M336 448.5h128" stroke-dasharray="1 118 1 2 1 4 1 999"/><path d="M458 450.5h1" stroke-dasharray="1 999"/><path d="M458 451.5h1" stroke-dasharray="1 999"/><path d="M336 452.5h131" stroke-dasharray="1 118 1 10 1 999"/><path d="M455 453.5h4" stroke-dasharray="1 2 1 999"/><path d="M455 454.5h13" stroke-dasharray="1 11 1 999"/><path d="M337 455.5h1" stroke-dasharray="1 999"/><path d="M460 456.5h6" stroke-dasharray="1 3 2 999"/><path d="M462 457.5h1" stroke-dasharray="1 999"/><path d="M456 458.5h6" stroke-dasharray="1 2 1 1 1 999"/><path d="M337 459.5h128" stroke-dasharray="2 116 1 5 1 2 1 999"/><path d="M461 460.5h8" stroke-dasharray="2 5 1 999"/><path d="M338 461.5h131" stroke-dasharray="1 116 1 5 1 6 1 999"/><path d="M456 462.5h4" stroke-dasharray="2 1 1 999"/><path d="M337 463.5h121" stroke-dasharray="1 1 1 117 1 999"/><path d="M337 464.5h1" stroke-dasharray="1 999"/><path d="M337 465.5h130" stroke-dasharray="1 1 1 119 1 2 1 1 1 1 1 999"/><path d="M462 466.5h1" stroke-dasharray="1 999"/><path d="M455 467.5h10" stroke-dasharray="1 4 1 3 1 999"/><path d="M336 468.5h121" stroke-dasharray="1 117 1 1 1 999"/><path d="M338 469.5h121" stroke-dasharray="1 117 1 1 1 999"/><path d="M339 470.5h129" stroke-dasharray="1 121 1 5 1 999"/><path d="M339 471.5h123" stroke-dasharray="1 114 1 1 1 2 1 1 1 999"/><path d="M336 472.5h133" stroke-dasharray="1 2 2 1 1 113 1 11 1 999"/><path d="M339 473.5h126" stroke-dasharray="1 1 1 116 1 3 1 1 1 999"/><path d="M337 474.5h129" stroke-dasharray="1 4 2 121 1 999"/><path d="M337 475.5h128" stroke-dasharray="1 4 2 111 1 3 1 1 1 2 1 999"/><path d="M336 476.5h131" stroke-dasharray="2 3 1 2 1 1 1 109 2 6 1 1 1 999"/><path d="M336 477.5h128" stroke-dasharray="1 1 2 3 2 107 1 3 1 3 1 1 2 999"/><path d="M342 478.5h124" stroke-dasharray="1 111 2 9 1 999"/><path d="M339 479.5h128" stroke-dasharray="2 1 1 6 1 102 1 2 2 9 1 999"/><path d="M340 480.5h116" stroke-dasharray="1 2 1 6 1 103 2 999"/><path d="M345 481.5h107" stroke-dasharray="1 105 1 999"/><path d="M343 482.5h121" stroke-dasharray="2 6 1 105 1 5 1 999"/><path d="M352 483.5h109" stroke-dasharray="1 2 1 104 1 999"/><path d="M348 484.5h107" stroke-dasharray="1 7 1 93 2 2 1 999"/><path d="M348 485.5h111" stroke-dasharray="1 5 1 4 2 87 2 2 1 5 1 999"/></g><g stroke="#000"><path d="M387 417.5h16" stroke-dasharray="1 2 1 9 1 1 1 999"/><path d="M380 418.5h29" stroke-dasharray="1 4 1 4 1 9 1 1 1 5 1 999"/><path d="M375 419.5h44" stroke-dasharray="1 2 1 2 1 3 2 1 3 5 1 1 5 2 1 6 1 1 1 3 1 999"/><path d="M369 420.5h52" stroke-dasharray="1 4 1 1 2 2 2 1 1 1 2 1 3 4 2 1 1 2 1 5 1 8 2 2 1 999"/><path d="M371 421.5h60" stroke-dasharray="1 1 2 6 1 2 1 1 1 1 2 4 2 1 5 1 1 1 1 1 1 2 1 2 4 4 1 2 1 5 1 999"/><path d="M363 422.5h68" stroke-dasharray="1 2 1 5 2 2 2 1 3 1 2 1 1 10 1 1 1 1 4 1 2 4 2 1 2 3 2 1 1 3 1 2 1 999"/><path d="M362 423.5h71" stroke-dasharray="1 3 6 1 1 33 1 2 4 2 1 3 1 1 1 1 1 3 1 3 1 999"/><path d="M360 424.5h71" stroke-dasharray="1 8 1 2 2 39 1 3 1 3 2 1 1 1 2 1 2 999"/><path d="M358 425.5h81" stroke-dasharray="1 2 1 1 1 1 2 1 1 46 2 4 3 5 1 3 1 3 2 999"/><path d="M357 426.5h83" stroke-dasharray="1 2 1 2 1 2 1 50 3 2 2 10 1 2 1 1 1 999"/><path d="M354 427.5h89" stroke-dasharray="2 7 1 55 3 1 4 4 1 5 1 2 1 1 1 999"/><path d="M356 428.5h83" stroke-dasharray="4 1 2 1 2 57 1 9 1 1 1 2 1 999"/><path d="M355 429.5h85" stroke-dasharray="3 1 3 61 1 6 1 1 4 3 1 999"/><path d="M352 430.5h93" stroke-dasharray="2 4 1 1 1 64 1 1 1 1 1 1 1 2 3 3 3 1 1 999"/><path d="M349 431.5h96" stroke-dasharray="3 4 1 2 2 68 1 1 1 4 1 1 1 1 1 2 2 999"/><path d="M347 432.5h94" stroke-dasharray="2 1 2 2 1 1 1 1 1 72 1 3 2 3 1 999"/><path d="M347 433.5h98" stroke-dasharray="1 6 2 1 1 71 2 1 4 1 1 2 1 1 3 999"/><path d="M349 434.5h100" stroke-dasharray="5 1 2 73 3 1 2 1 1 10 1 999"/><path d="M346 435.5h103" stroke-dasharray="1 1 1 2 1 1 1 1 1 75 1 2 4 6 1 3 1 999"/><path d="M343 436.5h99" stroke-dasharray="1 1 1 1 4 1 1 83 1 2 3 999"/><path d="M351 437.5h100" stroke-dasharray="3 79 1 1 1 1 1 6 1 2 1 1 2 999"/><path d="M347 438.5h100" stroke-dasharray="1 1 1 84 1 1 1 3 1 1 1 2 2 999"/><path d="M342 439.5h100" stroke-dasharray="1 7 2 84 1 1 1 1 2 999"/><path d="M340 440.5h112" stroke-dasharray="1 2 2 1 2 2 1 83 1 3 1 1 1 1 1 6 1 1 1 999"/><path d="M340 441.5h105" stroke-dasharray="1 2 1 1 3 2 1 84 1 5 4 999"/><path d="M339 442.5h114" stroke-dasharray="1 2 1 2 1 4 1 84 1 1 2 1 1 1 2 3 1 4 1 999"/><path d="M338 443.5h113" stroke-dasharray="3 3 1 91 3 3 1 3 2 2 1 999"/><path d="M343 444.5h109" stroke-dasharray="1 1 1 1 3 86 1 2 2 1 2 4 2 1 1 999"/><path d="M340 445.5h112" stroke-dasharray="2 2 4 1 1 87 1 2 4 2 3 2 1 999"/><path d="M340 446.5h113" stroke-dasharray="1 1 1 3 1 1 1 87 1 1 4 1 2 1 3 2 2 999"/><path d="M343 447.5h102" stroke-dasharray="1 3 1 88 1 1 2 2 3 999"/><path d="M337 448.5h118" stroke-dasharray="1 4 1 3 1 89 3 1 3 1 2 1 2 2 1 2 1 999"/><path d="M339 449.5h116" stroke-dasharray="2 1 1 2 1 2 1 90 2 1 2 7 1 2 1 999"/><path d="M337 450.5h118" stroke-dasharray="1 1 1 2 1 1 1 93 7 3 3 2 2 999"/><path d="M338 451.5h114" stroke-dasharray="2 5 1 1 1 88 1 4 3 2 1 1 1 2 1 999"/><path d="M341 452.5h114" stroke-dasharray="3 1 1 1 1 89 1 2 2 2 1 5 1 3 1 999"/><path d="M337 453.5h112" stroke-dasharray="1 6 1 2 1 90 1 2 4 3 1 999"/><path d="M339 454.5h116" stroke-dasharray="1 6 1 1 2 86 1 2 1 1 1 2 1 2 4 3 1 999"/><path d="M340 455.5h112" stroke-dasharray="2 5 3 86 1 2 1 1 1 2 1 3 1 2 1 999"/><path d="M338 456.5h117" stroke-dasharray="1 4 1 4 2 85 2 2 2 2 2 1 3 3 1 1 1 999"/><path d="M340 457.5h111" stroke-dasharray="1 1 3 1 1 1 3 84 1 1 5 1 1 2 3 1 1 999"/><path d="M339 458.5h116" stroke-dasharray="1 3 1 2 1 2 1 84 3 1 1 1 1 1 1 2 1 1 1 6 1 999"/><path d="M339 459.5h113" stroke-dasharray="1 1 3 3 2 1 2 82 3 2 4 1 1 5 2 999"/><path d="M341 460.5h113" stroke-dasharray="2 2 1 3 1 1 2 81 4 4 1 1 1 1 2 3 3 999"/><path d="M342 461.5h111" stroke-dasharray="1 1 1 2 1 2 3 82 2 1 1 1 1 2 1 3 1 4 1 999"/><path d="M340 462.5h113" stroke-dasharray="1 1 1 3 1 1 1 1 1 83 1 3 1 1 1 3 1 2 2 3 1 999"/><path d="M346 463.5h108" stroke-dasharray="2 1 1 1 1 1 2 78 2 2 1 1 4 1 2 2 1 4 1 999"/><path d="M343 464.5h112" stroke-dasharray="1 1 1 4 1 1 2 1 1 75 2 1 1 3 1 1 1 3 1 3 1 1 1 3 1 999"/><path d="M344 465.5h110" stroke-dasharray="1 4 1 1 3 76 2 2 4 1 2 4 4 4 1 999"/><path d="M341 466.5h103" stroke-dasharray="1 2 1 5 1 6 1 72 1 1 1 2 3 3 3 999"/><path d="M346 467.5h105" stroke-dasharray="1 1 1 1 1 2 1 3 3 68 1 2 1 1 4 2 3 1 1 6 1 999"/><path d="M342 468.5h97" stroke-dasharray="1 2 1 2 1 3 1 2 2 1 1 1 1 69 4 1 4 999"/><path d="M346 469.5h108" stroke-dasharray="1 2 2 1 1 4 1 1 3 68 1 1 3 6 3 1 1 1 1 3 3 999"/><path d="M343 470.5h105" stroke-dasharray="1 5 5 2 1 5 1 62 3 1 3 3 1 3 1 1 1 2 4 999"/><path d="M343 471.5h110" stroke-dasharray="1 3 1 3 3 4 1 1 1 1 1 2 1 57 2 1 1 3 1 2 1 1 3 1 1 3 1 1 1 6 1 999"/><path d="M346 472.5h107" stroke-dasharray="2 1 2 5 1 2 1 3 1 3 1 51 2 4 1 1 2 1 1 4 1 1 1 2 3 4 2 2 2 999"/><path d="M344 473.5h106" stroke-dasharray="1 3 2 4 1 1 1 1 3 1 1 2 1 48 3 2 1 1 1 1 2 1 2 4 1 1 4 3 1 2 2 1 3 999"/><path d="M352 474.5h101" stroke-dasharray="1 1 4 1 1 4 3 2 1 1 3 35 1 4 4 4 4 2 1 2 4 2 1 1 2 2 1 2 1 3 1 1 1 999"/><path d="M347 475.5h102" stroke-dasharray="1 1 1 3 2 9 2 1 1 1 1 1 2 1 2 28 1 3 1 4 2 1 3 1 10 1 1 4 1 2 1 3 3 2 1 999"/><path d="M349 476.5h103" stroke-dasharray="2 6 1 2 6 2 2 2 2 2 1 2 6 13 2 3 2 1 5 2 1 2 1 2 2 1 2 1 1 2 5 1 1 1 1 4 3 1 1 4 2 999"/><path d="M348 477.5h101" stroke-dasharray="1 3 1 3 1 1 1 1 3 1 1 3 1 1 1 1 2 1 4 2 3 5 1 2 1 4 1 1 2 1 1 1 2 3 3 2 1 1 1 1 2 2 7 1 1 4 3 2 3 5 1 999"/><path d="M360 478.5h89" stroke-dasharray="2 2 2 1 2 2 1 3 1 1 5 2 2 3 1 1 3 1 1 2 7 1 2 4 2 3 1 1 1 3 2 2 4 1 1 1 1 5 1 5 1 1 1 999"/><path d="M354 479.5h95" stroke-dasharray="2 9 1 1 1 1 1 1 1 1 1 3 2 1 1 1 1 2 1 4 1 1 1 1 5 5 1 3 2 2 2 1 3 2 1 2 4 1 3 2 3 2 1 1 3 5 1 999"/><path d="M352 480.5h98" stroke-dasharray="1 1 1 1 1 2 1 1 4 1 1 2 5 1 1 1 2 1 1 1 4 1 1 1 2 1 1 6 2 1 1 1 2 3 5 1 3 1 2 1 1 1 1 1 1 2 5 1 2 2 1 2 1 3 1 2 1 999"/><path d="M356 481.5h91" stroke-dasharray="1 2 1 2 2 1 1 1 1 1 1 1 3 3 1 1 1 1 5 1 1 3 1 2 1 1 2 1 2 4 1 5 1 5 4 2 1 2 1 3 2 2 2 1 1 2 2 2 1 1 1 999"/><path d="M355 482.5h95" stroke-dasharray="1 3 2 1 2 4 1 2 1 1 1 3 2 6 1 4 2 3 5 2 1 2 1 2 1 3 2 2 2 1 1 2 3 3 3 5 1 3 3 2 1 3 1 999"/><path d="M358 483.5h84" stroke-dasharray="1 1 3 5 2 3 4 4 2 2 2 4 1 1 6 2 1 1 1 1 2 1 1 1 2 8 1 1 1 2 1 2 1 1 2 2 6 1 1 999"/><path d="M360 484.5h76" stroke-dasharray="1 9 1 1 2 5 2 1 2 1 1 3 3 3 1 1 3 2 1 2 1 1 1 6 1 1 3 2 1 1 1 1 1 1 4 1 1 1 2 999"/><path d="M361 485.5h86" stroke-dasharray="1 1 1 3 1 1 1 1 2 1 1 6 1 4 1 3 1 7 1 2 3 1 1 1 1 2 1 1 2 3 1 3 1 2 2 4 1 2 1 4 1 1 2 4 1 999"/></g><g stroke="#000"><path d="M391 422.5h6" stroke-dasharray="2 2 2 999"/><path d="M381 423.5h24" stroke-dasharray="3 3 2 2 1 1 2 1 3 1 2 1 2 999"/><path d="M376 424.5h33" stroke-dasharray="2 2 3 1 4 1 2 2 6 2 1 1 2 2 2 999"/><path d="M377 425.5h37" stroke-dasharray="1 1 2 1 1 1 2 1 8 4 8 2 5 999"/><path d="M371 426.5h46" stroke-dasharray="2 1 1 1 4 1 1 1 3 2 3 1 1 1 4 1 2 4 3 1 4 2 2 999"/><path d="M368 427.5h50" stroke-dasharray="2 1 20 1 2 3 2 1 1 1 16 999"/><path d="M366 428.5h55" stroke-dasharray="8 1 1 1 1 2 5 1 18 2 2 2 4 1 1 1 2 1 1 999"/><path d="M365 429.5h58" stroke-dasharray="7 3 3 2 4 1 6 1 1 1 5 2 5 1 1 1 4 2 5 1 2 999"/><path d="M364 430.5h61" stroke-dasharray="1 1 12 1 14 1 3 1 5 1 1 1 8 2 3 1 1 1 3 999"/><path d="M362 431.5h64" stroke-dasharray="1 3 1 2 6 1 1 1 3 1 1 2 8 1 4 1 11 1 2 1 5 2 1 2 2 999"/><path d="M359 432.5h67" stroke-dasharray="1 1 4 2 1 1 4 1 3 2 9 3 11 1 3 1 1 1 1 1 4 1 4 2 4 999"/><path d="M361 433.5h68" stroke-dasharray="1 2 3 1 26 2 2 1 6 1 1 1 8 1 7 1 4 999"/><path d="M357 434.5h73" stroke-dasharray="20 1 3 1 37 1 2 1 2 2 3 999"/><path d="M356 435.5h75" stroke-dasharray="1 1 1 2 21 1 8 1 3 1 8 1 4 1 6 1 5 3 6 999"/><path d="M357 436.5h71" stroke-dasharray="3 2 4 1 3 1 2 1 24 1 2 1 5 2 12 1 6 999"/><path d="M357 437.5h75" stroke-dasharray="5 1 27 1 25 1 1 2 7 4 1 999"/><path d="M355 438.5h77" stroke-dasharray="3 1 8 1 31 1 3 1 11 1 9 1 1 1 4 999"/><path d="M353 439.5h79" stroke-dasharray="1 1 1 1 3 1 6 1 24 1 4 1 17 1 5 2 6 1 2 999"/><path d="M356 440.5h77" stroke-dasharray="5 1 13 1 9 1 16 1 4 1 10 2 4 1 2 1 2 2 1 999"/><path d="M353 441.5h79" stroke-dasharray="1 1 2 2 2 1 6 1 17 1 3 1 1 1 7 1 6 1 1 1 1 1 9 2 3 1 3 1 1 999"/><path d="M351 442.5h84" stroke-dasharray="2 1 1 2 2 1 1 1 7 1 6 1 20 1 8 1 6 1 6 1 2 1 3 1 4 2 1 999"/><path d="M350 443.5h84" stroke-dasharray="1 1 3 1 1 1 3 1 2 1 14 1 18 1 1 1 4 1 4 1 12 1 1 1 8 999"/><path d="M350 444.5h86" stroke-dasharray="1 1 1 1 1 2 10 2 8 1 16 1 7 2 9 1 2 1 6 1 3 1 4 1 3 999"/><path d="M352 445.5h83" stroke-dasharray="7 2 9 1 14 1 9 1 3 1 13 1 8 1 2 1 2 1 1 1 1 1 2 999"/><path d="M350 446.5h86" stroke-dasharray="2 3 11 1 6 1 3 1 14 1 4 1 13 1 7 1 3 1 1 1 2 2 4 1 1 999"/><path d="M349 447.5h86" stroke-dasharray="2 4 3 1 15 1 30 1 4 1 10 1 2 1 5 1 1 1 2 999"/><path d="M351 448.5h84" stroke-dasharray="2 1 1 1 4 1 24 1 41 1 2 2 3 999"/><path d="M350 449.5h84" stroke-dasharray="48 1 1 1 9 1 1 1 4 2 1 1 9 1 3 999"/><path d="M349 450.5h86" stroke-dasharray="5 1 15 1 3 1 6 1 3 1 13 1 22 1 1 1 5 3 2 999"/><path d="M349 451.5h87" stroke-dasharray="1 1 1 2 3 1 2 1 2 1 18 1 1 1 7 1 30 2 4 2 2 2 1 999"/><path d="M349 452.5h87" stroke-dasharray="1 3 1 1 1 1 2 1 7 1 14 2 5 1 14 1 5 1 4 1 1 2 9 1 1 1 2 2 1 999"/><path d="M350 453.5h85" stroke-dasharray="1 2 5 1 2 1 20 1 13 1 7 1 3 1 15 2 2 4 3 999"/><path d="M350 454.5h82" stroke-dasharray="3 2 2 1 7 1 37 1 10 1 8 1 4 1 3 999"/><path d="M350 455.5h86" stroke-dasharray="5 2 7 1 4 1 4 1 16 2 6 1 9 1 6 1 3 1 1 1 3 1 1 1 2 1 4 999"/><path d="M350 456.5h84" stroke-dasharray="1 2 3 1 2 2 1 1 11 1 5 1 33 1 4 1 3 1 4 2 4 999"/><path d="M351 457.5h80" stroke-dasharray="8 1 2 1 3 1 9 1 1 1 16 1 18 1 1 1 4 1 1 1 2 1 4 999"/><path d="M351 458.5h83" stroke-dasharray="1 2 1 1 7 1 6 1 9 1 8 1 19 3 3 2 3 1 1 2 1 1 4 3 1 999"/><path d="M353 459.5h81" stroke-dasharray="6 1 2 2 5 1 9 1 17 1 10 1 3 1 3 1 3 1 4 1 6 1 1 999"/><path d="M354 460.5h79" stroke-dasharray="18 1 26 1 5 1 1 1 4 1 9 1 2 3 1 1 3 999"/><path d="M353 461.5h80" stroke-dasharray="4 2 1 1 2 1 2 1 10 1 24 1 4 1 5 1 1 3 2 2 7 3 1 999"/><path d="M354 462.5h75" stroke-dasharray="2 1 1 1 7 1 3 1 2 1 2 3 17 1 4 1 3 1 7 2 1 1 4 1 3 2 2 999"/><path d="M355 463.5h77" stroke-dasharray="3 1 12 2 28 1 6 1 2 1 3 1 3 2 2 3 6 999"/><path d="M356 464.5h75" stroke-dasharray="1 1 10 1 1 1 20 1 1 1 5 2 1 1 3 1 3 1 2 1 4 2 1 1 2 1 4 1 1 999"/><path d="M357 465.5h72" stroke-dasharray="4 1 9 1 5 1 11 1 7 3 2 1 2 1 1 1 2 1 2 1 6 1 5 1 2 999"/><path d="M359 466.5h68" stroke-dasharray="3 2 6 1 1 1 3 1 9 1 2 1 11 1 4 1 11 1 2 2 1 1 2 999"/><path d="M360 467.5h65" stroke-dasharray="5 1 1 1 1 2 14 1 1 1 1 2 2 1 10 2 1 3 1 2 2 1 5 3 1 999"/><path d="M361 468.5h66" stroke-dasharray="8 1 7 3 1 1 3 1 1 1 3 1 1 2 2 1 1 1 4 1 1 3 2 2 3 1 10 999"/><path d="M364 469.5h57" stroke-dasharray="8 1 13 1 1 3 1 1 1 1 8 1 4 1 2 1 2 1 1 1 4 999"/><path d="M365 470.5h59" stroke-dasharray="1 1 1 1 1 2 2 2 1 1 1 1 4 1 3 2 2 1 3 1 1 1 1 3 3 1 1 1 2 1 2 1 1 1 2 1 1 1 2 999"/><path d="M366 471.5h56" stroke-dasharray="1 2 2 1 1 2 4 1 1 1 12 2 4 5 1 1 6 4 5 999"/><path d="M369 472.5h48" stroke-dasharray="1 1 1 2 1 1 1 3 1 1 2 1 2 1 2 1 2 2 3 1 2 1 1 1 2 1 6 3 1 999"/><path d="M371 473.5h42" stroke-dasharray="4 1 4 1 8 2 1 1 1 3 6 1 1 1 7 999"/><path d="M374 474.5h35" stroke-dasharray="2 1 1 1 1 1 1 2 1 1 1 2 1 1 1 1 8 3 1 1 1 1 1 999"/><path d="M381 475.5h23" stroke-dasharray="7 1 2 1 2 1 2 1 2 1 1 1 1 999"/><path d="M389 476.5h8" stroke-dasharray="2 5 1 999"/></g></g>
<rect x="101.0" y="42.0" width="178.6" height="178.4" fill="none" stroke="#2a2a2a" stroke-width="1.3"/>
<line x1="186.3" y1="42.0" x2="186.3" y2="220.4" stroke="#2a2a2a" stroke-width="1.3"/>
<line x1="101.0" y1="154.6" x2="279.6" y2="154.6" stroke="#2a2a2a" stroke-width="1.3"/>
<line x1="96.5" y1="220.4" x2="101.0" y2="220.4" stroke="#2a2a2a" stroke-width="1.2"/>
<line x1="101.0" y1="220.4" x2="101.0" y2="224.4" stroke="#2a2a2a" stroke-width="1.2"/>
<line x1="96.5" y1="175.8" x2="101.0" y2="175.8" stroke="#2a2a2a" stroke-width="1.2"/>
<line x1="145.7" y1="220.4" x2="145.7" y2="224.4" stroke="#2a2a2a" stroke-width="1.2"/>
<line x1="96.5" y1="131.2" x2="101.0" y2="131.2" stroke="#2a2a2a" stroke-width="1.2"/>
<line x1="190.3" y1="220.4" x2="190.3" y2="224.4" stroke="#2a2a2a" stroke-width="1.2"/>
<line x1="96.5" y1="86.6" x2="101.0" y2="86.6" stroke="#2a2a2a" stroke-width="1.2"/>
<line x1="235.0" y1="220.4" x2="235.0" y2="224.4" stroke="#2a2a2a" stroke-width="1.2"/>
<line x1="96.5" y1="42.0" x2="101.0" y2="42.0" stroke="#2a2a2a" stroke-width="1.2"/>
<line x1="279.6" y1="220.4" x2="279.6" y2="224.4" stroke="#2a2a2a" stroke-width="1.2"/>
<text x="94.4" y="224.4" text-anchor="end" font-family='"Liberation Serif", serif' font-size="12.3" letter-spacing="0.6" fill="#333">10<tspan font-size="9.5" dy="-2.8" dx="-0.1">0</tspan></text>
<text x="106.7" y="234.7" text-anchor="end" font-family='"Liberation Serif", serif' font-size="12.3" letter-spacing="0.6" fill="#333">10<tspan font-size="9.5" dy="-2.8" dx="-0.1">0</tspan></text>
<text x="94.4" y="179.8" text-anchor="end" font-family='"Liberation Serif", serif' font-size="12.3" letter-spacing="0.6" fill="#333">10<tspan font-size="9.5" dy="-2.8" dx="-0.1">1</tspan></text>
<text x="151.3" y="234.7" text-anchor="end" font-family='"Liberation Serif", serif' font-size="12.3" letter-spacing="0.6" fill="#333">10<tspan font-size="9.5" dy="-2.8" dx="-0.1">1</tspan></text>
<text x="94.4" y="135.2" text-anchor="end" font-family='"Liberation Serif", serif' font-size="12.3" letter-spacing="0.6" fill="#333">10<tspan font-size="9.5" dy="-2.8" dx="-0.1">2</tspan></text>
<text x="196.0" y="234.7" text-anchor="end" font-family='"Liberation Serif", serif' font-size="12.3" letter-spacing="0.6" fill="#333">10<tspan font-size="9.5" dy="-2.8" dx="-0.1">2</tspan></text>
<text x="94.4" y="90.6" text-anchor="end" font-family='"Liberation Serif", serif' font-size="12.3" letter-spacing="0.6" fill="#333">10<tspan font-size="9.5" dy="-2.8" dx="-0.1">3</tspan></text>
<text x="240.7" y="234.7" text-anchor="end" font-family='"Liberation Serif", serif' font-size="12.3" letter-spacing="0.6" fill="#333">10<tspan font-size="9.5" dy="-2.8" dx="-0.1">3</tspan></text>
<text x="94.4" y="46.0" text-anchor="end" font-family='"Liberation Serif", serif' font-size="12.3" letter-spacing="0.6" fill="#333">10<tspan font-size="9.5" dy="-2.8" dx="-0.1">4</tspan></text>
<text x="285.3" y="234.7" text-anchor="end" font-family='"Liberation Serif", serif' font-size="12.3" letter-spacing="0.6" fill="#333">10<tspan font-size="9.5" dy="-2.8" dx="-0.1">4</tspan></text>
<circle cx="186.3" cy="154.6" r="1.6" fill="#111"/>
<rect x="335.4" y="42.0" width="179.0" height="178.5" fill="none" stroke="#2a2a2a" stroke-width="1.3"/>
<line x1="420.9" y1="42.0" x2="420.9" y2="220.5" stroke="#2a2a2a" stroke-width="1.3"/>
<line x1="335.4" y1="154.3" x2="514.4" y2="154.3" stroke="#2a2a2a" stroke-width="1.3"/>
<line x1="330.9" y1="220.5" x2="335.4" y2="220.5" stroke="#2a2a2a" stroke-width="1.2"/>
<line x1="335.4" y1="220.5" x2="335.4" y2="224.5" stroke="#2a2a2a" stroke-width="1.2"/>
<line x1="330.9" y1="175.9" x2="335.4" y2="175.9" stroke="#2a2a2a" stroke-width="1.2"/>
<line x1="380.1" y1="220.5" x2="380.1" y2="224.5" stroke="#2a2a2a" stroke-width="1.2"/>
<line x1="330.9" y1="131.2" x2="335.4" y2="131.2" stroke="#2a2a2a" stroke-width="1.2"/>
<line x1="424.9" y1="220.5" x2="424.9" y2="224.5" stroke="#2a2a2a" stroke-width="1.2"/>
<line x1="330.9" y1="86.6" x2="335.4" y2="86.6" stroke="#2a2a2a" stroke-width="1.2"/>
<line x1="469.6" y1="220.5" x2="469.6" y2="224.5" stroke="#2a2a2a" stroke-width="1.2"/>
<line x1="330.9" y1="42.0" x2="335.4" y2="42.0" stroke="#2a2a2a" stroke-width="1.2"/>
<line x1="514.4" y1="220.5" x2="514.4" y2="224.5" stroke="#2a2a2a" stroke-width="1.2"/>
<text x="328.8" y="224.5" text-anchor="end" font-family='"Liberation Serif", serif' font-size="12.3" letter-spacing="0.6" fill="#333">10<tspan font-size="9.5" dy="-2.8" dx="-0.1">0</tspan></text>
<text x="341.1" y="234.8" text-anchor="end" font-family='"Liberation Serif", serif' font-size="12.3" letter-spacing="0.6" fill="#333">10<tspan font-size="9.5" dy="-2.8" dx="-0.1">0</tspan></text>
<text x="328.8" y="179.9" text-anchor="end" font-family='"Liberation Serif", serif' font-size="12.3" letter-spacing="0.6" fill="#333">10<tspan font-size="9.5" dy="-2.8" dx="-0.1">1</tspan></text>
<text x="385.8" y="234.8" text-anchor="end" font-family='"Liberation Serif", serif' font-size="12.3" letter-spacing="0.6" fill="#333">10<tspan font-size="9.5" dy="-2.8" dx="-0.1">1</tspan></text>
<text x="328.8" y="135.2" text-anchor="end" font-family='"Liberation Serif", serif' font-size="12.3" letter-spacing="0.6" fill="#333">10<tspan font-size="9.5" dy="-2.8" dx="-0.1">2</tspan></text>
<text x="430.6" y="234.8" text-anchor="end" font-family='"Liberation Serif", serif' font-size="12.3" letter-spacing="0.6" fill="#333">10<tspan font-size="9.5" dy="-2.8" dx="-0.1">2</tspan></text>
<text x="328.8" y="90.6" text-anchor="end" font-family='"Liberation Serif", serif' font-size="12.3" letter-spacing="0.6" fill="#333">10<tspan font-size="9.5" dy="-2.8" dx="-0.1">3</tspan></text>
<text x="475.3" y="234.8" text-anchor="end" font-family='"Liberation Serif", serif' font-size="12.3" letter-spacing="0.6" fill="#333">10<tspan font-size="9.5" dy="-2.8" dx="-0.1">3</tspan></text>
<text x="328.8" y="46.0" text-anchor="end" font-family='"Liberation Serif", serif' font-size="12.3" letter-spacing="0.6" fill="#333">10<tspan font-size="9.5" dy="-2.8" dx="-0.1">4</tspan></text>
<text x="520.1" y="234.8" text-anchor="end" font-family='"Liberation Serif", serif' font-size="12.3" letter-spacing="0.6" fill="#333">10<tspan font-size="9.5" dy="-2.8" dx="-0.1">4</tspan></text>
<circle cx="420.9" cy="154.3" r="1.6" fill="#111"/>
<rect x="100.6" y="307.7" width="179.2" height="179.2" fill="none" stroke="#2a2a2a" stroke-width="1.3"/>
<line x1="220.8" y1="307.7" x2="220.8" y2="486.9" stroke="#2a2a2a" stroke-width="1.3"/>
<line x1="100.6" y1="414.8" x2="279.8" y2="414.8" stroke="#2a2a2a" stroke-width="1.3"/>
<line x1="96.1" y1="486.9" x2="100.6" y2="486.9" stroke="#2a2a2a" stroke-width="1.2"/>
<line x1="100.6" y1="486.9" x2="100.6" y2="491.7" stroke="#2a2a2a" stroke-width="1.2"/>
<line x1="96.1" y1="442.1" x2="100.6" y2="442.1" stroke="#2a2a2a" stroke-width="1.2"/>
<line x1="145.4" y1="486.9" x2="145.4" y2="491.7" stroke="#2a2a2a" stroke-width="1.2"/>
<line x1="96.1" y1="397.3" x2="100.6" y2="397.3" stroke="#2a2a2a" stroke-width="1.2"/>
<line x1="190.2" y1="486.9" x2="190.2" y2="491.7" stroke="#2a2a2a" stroke-width="1.2"/>
<line x1="96.1" y1="352.5" x2="100.6" y2="352.5" stroke="#2a2a2a" stroke-width="1.2"/>
<line x1="235.0" y1="486.9" x2="235.0" y2="491.7" stroke="#2a2a2a" stroke-width="1.2"/>
<line x1="96.1" y1="307.7" x2="100.6" y2="307.7" stroke="#2a2a2a" stroke-width="1.2"/>
<line x1="279.8" y1="486.9" x2="279.8" y2="491.7" stroke="#2a2a2a" stroke-width="1.2"/>
<text x="93.6" y="489.8" text-anchor="end" font-family='"Liberation Serif", serif' font-size="13" fill="#333">10<tspan font-size="11" dy="-3">0</tspan></text>
<text x="105.9" y="503.7" text-anchor="end" font-family='"Liberation Serif", serif' font-size="13" fill="#333">10<tspan font-size="11" dy="-3">0</tspan></text>
<text x="93.6" y="445.0" text-anchor="end" font-family='"Liberation Serif", serif' font-size="13" fill="#333">10<tspan font-size="11" dy="-3">1</tspan></text>
<text x="150.7" y="503.7" text-anchor="end" font-family='"Liberation Serif", serif' font-size="13" fill="#333">10<tspan font-size="11" dy="-3">1</tspan></text>
<text x="93.6" y="400.2" text-anchor="end" font-family='"Liberation Serif", serif' font-size="13" fill="#333">10<tspan font-size="11" dy="-3">2</tspan></text>
<text x="195.5" y="503.7" text-anchor="end" font-family='"Liberation Serif", serif' font-size="13" fill="#333">10<tspan font-size="11" dy="-3">2</tspan></text>
<text x="93.6" y="355.4" text-anchor="end" font-family='"Liberation Serif", serif' font-size="13" fill="#333">10<tspan font-size="11" dy="-3">3</tspan></text>
<text x="240.3" y="503.7" text-anchor="end" font-family='"Liberation Serif", serif' font-size="13" fill="#333">10<tspan font-size="11" dy="-3">3</tspan></text>
<text x="93.6" y="310.6" text-anchor="end" font-family='"Liberation Serif", serif' font-size="13" fill="#333">10<tspan font-size="11" dy="-3">4</tspan></text>
<text x="285.1" y="503.7" text-anchor="end" font-family='"Liberation Serif", serif' font-size="13" fill="#333">10<tspan font-size="11" dy="-3">4</tspan></text>
<circle cx="220.8" cy="414.8" r="1.6" fill="#111"/>
<rect x="334.4" y="307.7" width="179.5" height="179.2" fill="none" stroke="#2a2a2a" stroke-width="1.3"/>
<line x1="454.6" y1="307.7" x2="454.6" y2="486.9" stroke="#2a2a2a" stroke-width="1.3"/>
<line x1="334.4" y1="414.8" x2="513.9" y2="414.8" stroke="#2a2a2a" stroke-width="1.3"/>
<line x1="329.9" y1="486.9" x2="334.4" y2="486.9" stroke="#2a2a2a" stroke-width="1.2"/>
<line x1="334.4" y1="486.9" x2="334.4" y2="491.7" stroke="#2a2a2a" stroke-width="1.2"/>
<line x1="329.9" y1="442.1" x2="334.4" y2="442.1" stroke="#2a2a2a" stroke-width="1.2"/>
<line x1="379.3" y1="486.9" x2="379.3" y2="491.7" stroke="#2a2a2a" stroke-width="1.2"/>
<line x1="329.9" y1="397.3" x2="334.4" y2="397.3" stroke="#2a2a2a" stroke-width="1.2"/>
<line x1="424.1" y1="486.9" x2="424.1" y2="491.7" stroke="#2a2a2a" stroke-width="1.2"/>
<line x1="329.9" y1="352.5" x2="334.4" y2="352.5" stroke="#2a2a2a" stroke-width="1.2"/>
<line x1="469.0" y1="486.9" x2="469.0" y2="491.7" stroke="#2a2a2a" stroke-width="1.2"/>
<line x1="329.9" y1="307.7" x2="334.4" y2="307.7" stroke="#2a2a2a" stroke-width="1.2"/>
<line x1="513.9" y1="486.9" x2="513.9" y2="491.7" stroke="#2a2a2a" stroke-width="1.2"/>
<text x="327.4" y="489.8" text-anchor="end" font-family='"Liberation Serif", serif' font-size="13" fill="#333">10<tspan font-size="11" dy="-3">0</tspan></text>
<text x="339.7" y="503.7" text-anchor="end" font-family='"Liberation Serif", serif' font-size="13" fill="#333">10<tspan font-size="11" dy="-3">0</tspan></text>
<text x="327.4" y="445.0" text-anchor="end" font-family='"Liberation Serif", serif' font-size="13" fill="#333">10<tspan font-size="11" dy="-3">1</tspan></text>
<text x="384.6" y="503.7" text-anchor="end" font-family='"Liberation Serif", serif' font-size="13" fill="#333">10<tspan font-size="11" dy="-3">1</tspan></text>
<text x="327.4" y="400.2" text-anchor="end" font-family='"Liberation Serif", serif' font-size="13" fill="#333">10<tspan font-size="11" dy="-3">2</tspan></text>
<text x="429.4" y="503.7" text-anchor="end" font-family='"Liberation Serif", serif' font-size="13" fill="#333">10<tspan font-size="11" dy="-3">2</tspan></text>
<text x="327.4" y="355.4" text-anchor="end" font-family='"Liberation Serif", serif' font-size="13" fill="#333">10<tspan font-size="11" dy="-3">3</tspan></text>
<text x="474.3" y="503.7" text-anchor="end" font-family='"Liberation Serif", serif' font-size="13" fill="#333">10<tspan font-size="11" dy="-3">3</tspan></text>
<text x="327.4" y="310.6" text-anchor="end" font-family='"Liberation Serif", serif' font-size="13" fill="#333">10<tspan font-size="11" dy="-3">4</tspan></text>
<text x="519.2" y="503.7" text-anchor="end" font-family='"Liberation Serif", serif' font-size="13" fill="#333">10<tspan font-size="11" dy="-3">4</tspan></text>
<circle cx="454.6" cy="414.8" r="1.6" fill="#111"/>
<text x="0.0" y="17.9" font-family='"Liberation Sans", sans-serif' font-weight="bold" font-size="24.8" fill="#000">A</text>
<text x="146.5" y="21.2" font-family='"Liberation Serif", serif' font-size="25.5" fill="#111">untreated</text>
<text x="397.3" y="21.2" font-family='"Liberation Serif", serif' font-size="25.5" fill="#111">dox</text>
<text x="105.2" y="148.8" text-anchor="start" font-family='"Liberation Serif", serif' font-weight="bold" font-size="21.5" fill="#fff" stroke="#fff" stroke-width="3.5" stroke-linejoin="round">30.1</text><text x="105.2" y="148.8" text-anchor="start" font-family='"Liberation Serif", serif' font-weight="bold" font-size="21.5" fill="#000" stroke="#000" stroke-width="0.45">30.1</text>
<text x="276.0" y="149.7" text-anchor="end" font-family='"Liberation Serif", serif' font-weight="bold" font-size="21.5" fill="#fff" stroke="#fff" stroke-width="3.5" stroke-linejoin="round">66.6</text><text x="276.0" y="149.7" text-anchor="end" font-family='"Liberation Serif", serif' font-weight="bold" font-size="21.5" fill="#000" stroke="#000" stroke-width="0.45">66.6</text>
<text x="103.3" y="214.2" text-anchor="start" font-family='"Liberation Serif", serif' font-weight="bold" font-size="21.5" fill="#fff" stroke="#fff" stroke-width="3.5" stroke-linejoin="round">1.4</text><text x="103.3" y="214.2" text-anchor="start" font-family='"Liberation Serif", serif' font-weight="bold" font-size="21.5" fill="#000" stroke="#000" stroke-width="0.45">1.4</text>
<text x="276.8" y="215.9" text-anchor="end" font-family='"Liberation Serif", serif' font-weight="bold" font-size="21.5" fill="#fff" stroke="#fff" stroke-width="3.5" stroke-linejoin="round">1.9</text><text x="276.8" y="215.9" text-anchor="end" font-family='"Liberation Serif", serif' font-weight="bold" font-size="21.5" fill="#000" stroke="#000" stroke-width="0.45">1.9</text>
<text x="340.0" y="149.8" text-anchor="start" font-family='"Liberation Serif", serif' font-weight="bold" font-size="21.5" fill="#fff" stroke="#fff" stroke-width="3.5" stroke-linejoin="round">92.5</text><text x="340.0" y="149.8" text-anchor="start" font-family='"Liberation Serif", serif' font-weight="bold" font-size="21.5" fill="#000" stroke="#000" stroke-width="0.45">92.5</text>
<text x="511.5" y="150.9" text-anchor="end" font-family='"Liberation Serif", serif' font-weight="bold" font-size="21.5" fill="#fff" stroke="#fff" stroke-width="3.5" stroke-linejoin="round">7.0</text><text x="511.5" y="150.9" text-anchor="end" font-family='"Liberation Serif", serif' font-weight="bold" font-size="21.5" fill="#000" stroke="#000" stroke-width="0.45">7.0</text>
<text x="338.0" y="215.4" text-anchor="start" font-family='"Liberation Serif", serif' font-weight="bold" font-size="21.5" fill="#fff" stroke="#fff" stroke-width="3.5" stroke-linejoin="round">0.4</text><text x="338.0" y="215.4" text-anchor="start" font-family='"Liberation Serif", serif' font-weight="bold" font-size="21.5" fill="#000" stroke="#000" stroke-width="0.45">0.4</text>
<text x="510.0" y="215.4" text-anchor="end" font-family='"Liberation Serif", serif' font-weight="bold" font-size="21.5" fill="#fff" stroke="#fff" stroke-width="3.5" stroke-linejoin="round">0.1</text><text x="510.0" y="215.4" text-anchor="end" font-family='"Liberation Serif", serif' font-weight="bold" font-size="21.5" fill="#000" stroke="#000" stroke-width="0.45">0.1</text>
<text x="272.0" y="479.1" text-anchor="end" font-family='"Liberation Serif", serif' font-weight="bold" font-size="21.5" fill="#fff" stroke="#fff" stroke-width="3.5" stroke-linejoin="round">2.0</text><text x="272.0" y="479.1" text-anchor="end" font-family='"Liberation Serif", serif' font-weight="bold" font-size="21.5" fill="#000" stroke="#000" stroke-width="0.45">2.0</text>
<text x="508.6" y="479.6" text-anchor="end" font-family='"Liberation Serif", serif' font-weight="bold" font-size="21.5" fill="#fff" stroke="#fff" stroke-width="3.5" stroke-linejoin="round">3.2</text><text x="508.6" y="479.6" text-anchor="end" font-family='"Liberation Serif", serif' font-weight="bold" font-size="21.5" fill="#000" stroke="#000" stroke-width="0.45">3.2</text>
<path d="M62.9 196.9 V252.6 H118.6" fill="none" stroke="#000" stroke-width="2.0"/>
<path d="M62.9 186.9 L56.699999999999996 199.20000000000002 L69.1 199.20000000000002 Z" fill="#000"/>
<path d="M129.6 252.6 L116.89999999999999 246.29999999999998 L116.89999999999999 258.9 Z" fill="#000"/>
<path d="M62.9 463.1 V518.8 H118.30000000000001" fill="none" stroke="#000" stroke-width="2.0"/>
<path d="M62.9 453.1 L56.699999999999996 465.40000000000003 L69.1 465.40000000000003 Z" fill="#000"/>
<path d="M129.3 518.8 L116.60000000000001 512.5 L116.60000000000001 525.0999999999999 Z" fill="#000"/>
<text transform="translate(48.8 249.8) rotate(-90)" font-family='"Liberation Serif", serif' font-size="21.3" fill="#111">Gr-1</text>
<text x="64.2" y="284" font-family='"Liberation Serif", serif' font-size="21" fill="#111">c-Kit</text>
<text transform="translate(50 515.3) rotate(-90)" font-family='"Liberation Serif", serif' font-size="21" fill="#111">7AAD</text>
<text x="48.6" y="549.4" font-family='"Liberation Serif", serif' font-size="21" fill="#111">Annexin-V</text>
<text x="43.7" y="606" font-family='"Liberation Sans", sans-serif' font-weight="bold" font-size="24.5" fill="#000">B</text>
<line x1="184.0" y1="621.8" x2="184.0" y2="816.6" stroke="#555" stroke-width="1.4"/>
<line x1="179.2" y1="814.6" x2="440" y2="814.6" stroke="#555" stroke-width="1.4"/>
<line x1="311.6" y1="814.6" x2="311.6" y2="817.6" stroke="#555" stroke-width="1.2"/>
<line x1="439.5" y1="814.6" x2="439.5" y2="817.6" stroke="#555" stroke-width="1.2"/>
<line x1="179.2" y1="814.6" x2="184.0" y2="814.6" stroke="#555" stroke-width="1.3"/>
<text x="173.3" y="819.6" text-anchor="end" font-family='"Liberation Sans", sans-serif' font-size="13.8" letter-spacing="0.8" fill="#222">0</text>
<line x1="179.2" y1="790.5" x2="184.0" y2="790.5" stroke="#555" stroke-width="1.3"/>
<text x="173.3" y="795.5" text-anchor="end" font-family='"Liberation Sans", sans-serif' font-size="13.8" letter-spacing="0.8" fill="#222">10</text>
<line x1="179.2" y1="766.4" x2="184.0" y2="766.4" stroke="#555" stroke-width="1.3"/>
<text x="173.3" y="771.4" text-anchor="end" font-family='"Liberation Sans", sans-serif' font-size="13.8" letter-spacing="0.8" fill="#222">20</text>
<line x1="179.2" y1="742.3" x2="184.0" y2="742.3" stroke="#555" stroke-width="1.3"/>
<text x="173.3" y="747.3" text-anchor="end" font-family='"Liberation Sans", sans-serif' font-size="13.8" letter-spacing="0.8" fill="#222">30</text>
<line x1="179.2" y1="718.2" x2="184.0" y2="718.2" stroke="#555" stroke-width="1.3"/>
<text x="173.3" y="723.2" text-anchor="end" font-family='"Liberation Sans", sans-serif' font-size="13.8" letter-spacing="0.8" fill="#222">40</text>
<line x1="179.2" y1="694.1" x2="184.0" y2="694.1" stroke="#555" stroke-width="1.3"/>
<text x="173.3" y="699.1" text-anchor="end" font-family='"Liberation Sans", sans-serif' font-size="13.8" letter-spacing="0.8" fill="#222">50</text>
<line x1="179.2" y1="670.0" x2="184.0" y2="670.0" stroke="#555" stroke-width="1.3"/>
<text x="173.3" y="675.0" text-anchor="end" font-family='"Liberation Sans", sans-serif' font-size="13.8" letter-spacing="0.8" fill="#222">60</text>
<line x1="179.2" y1="645.9" x2="184.0" y2="645.9" stroke="#555" stroke-width="1.3"/>
<text x="173.3" y="650.9" text-anchor="end" font-family='"Liberation Sans", sans-serif' font-size="13.8" letter-spacing="0.8" fill="#222">70</text>
<line x1="179.2" y1="621.8" x2="184.0" y2="621.8" stroke="#555" stroke-width="1.3"/>
<text x="173.3" y="626.8" text-anchor="end" font-family='"Liberation Sans", sans-serif' font-size="13.8" letter-spacing="0.8" fill="#222">80</text>
<rect x="211.3" y="645.4" width="36.6" height="169.2" fill="#8c8c8c" stroke="#333" stroke-width="1.2"/>
<rect x="247.9" y="788.3" width="36.6" height="26.3" fill="#fff" stroke="#333" stroke-width="1.2"/>
<rect x="339.2" y="664.7" width="36.8" height="149.9" fill="#8c8c8c" stroke="#333" stroke-width="1.2"/>
<rect x="376.0" y="802.6" width="36.3" height="12.0" fill="#fff" stroke="#333" stroke-width="1.2"/>
<path d="M229.4 641.8 V648.5 M227.0 641.8 h4.8 M227.0 648.5 h4.8" stroke="#222" stroke-width="1.2" fill="none"/>
<path d="M266.3 779.2 V797.1 M263.90000000000003 779.2 h4.8 M263.90000000000003 797.1 h4.8" stroke="#222" stroke-width="1.2" fill="none"/>
<path d="M357.7 652.3 V676.3 M355.3 652.3 h4.8 M355.3 676.3 h4.8" stroke="#222" stroke-width="1.2" fill="none"/>
<path d="M394.2 795.8 V809.2 M391.8 795.8 h4.8 M391.8 809.2 h4.8" stroke="#222" stroke-width="1.2" fill="none"/>
<text x="217.3" y="635.8" font-family='"Liberation Serif", serif' font-size="16" fill="#111">n=3</text>
<text x="254" y="771.8" font-family='"Liberation Serif", serif' font-size="16" fill="#111">n=3</text>
<rect x="341.8" y="613.2" width="6.6" height="6.6" fill="#8c8c8c" stroke="#333" stroke-width="1"/>
<rect x="341.8" y="629.0" width="6.6" height="6.6" fill="#fff" stroke="#333" stroke-width="1"/>
<text x="355.6" y="619.2" font-family='"Liberation Serif", serif' font-size="21" fill="#111">untreated</text>
<text x="355.6" y="637.2" font-family='"Liberation Serif", serif' font-size="21" fill="#111">dox</text>
<text x="231" y="841" font-family='"Liberation Serif", serif' font-size="24" fill="#111">BM</text>
<text x="362" y="841.3" font-family='"Liberation Serif", serif' font-size="24" fill="#111">SP</text>
<g transform="translate(140.6 771.8) rotate(-90)" font-family='"Liberation Serif", serif' fill="#111"><text x="0" y="0" font-size="25">% c-Kit</text><text x="80.2" y="-11.5" font-size="16.5">+</text><text x="95.4" y="0" font-size="25.5">cells</text></g>
</svg>
</body></html>
